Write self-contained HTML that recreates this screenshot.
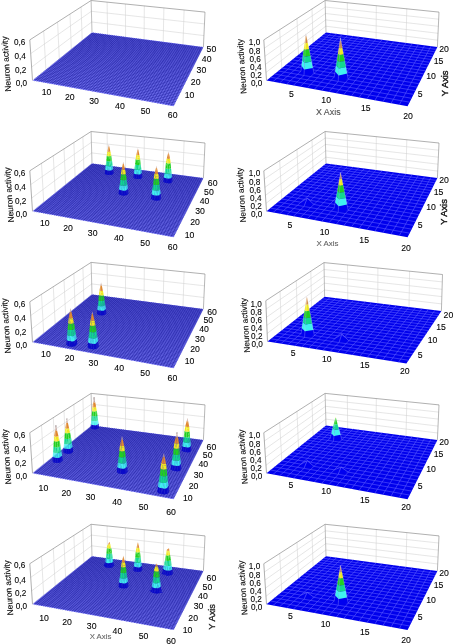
<!DOCTYPE html>
<html><head><meta charset="utf-8"><style>html,body{margin:0;padding:0;background:#fff;width:454px;height:644px;overflow:hidden}svg{display:block;will-change:transform}text{font-family:"Liberation Sans",sans-serif}</style></head><body>
<svg width="454" height="644" viewBox="0 0 454 644" font-family="Liberation Sans, sans-serif" font-size="8.7" text-anchor="middle">
<line x1="31.6" y1="67.1" x2="91.7" y2="22" stroke="#d2d2d2" stroke-width="0.55"/>
<line x1="91.7" y1="22" x2="204" y2="35.6" stroke="#d2d2d2" stroke-width="0.55"/>
<line x1="30.7" y1="53.6" x2="91.4" y2="11.3" stroke="#d2d2d2" stroke-width="0.55"/>
<line x1="91.4" y1="11.3" x2="204.5" y2="23.9" stroke="#d2d2d2" stroke-width="0.55"/>
<line x1="45.9" y1="69.6" x2="43.7" y2="30.9" stroke="#d2d2d2" stroke-width="0.55"/>
<line x1="59.3" y1="58.8" x2="57.6" y2="22.1" stroke="#d2d2d2" stroke-width="0.55"/>
<line x1="71.3" y1="49.1" x2="70" y2="14.1" stroke="#d2d2d2" stroke-width="0.55"/>
<line x1="82.2" y1="40.4" x2="81.1" y2="7" stroke="#d2d2d2" stroke-width="0.55"/>
<line x1="107.6" y1="34.6" x2="107.1" y2="2.2" stroke="#d2d2d2" stroke-width="0.55"/>
<line x1="125.6" y1="36.9" x2="125.4" y2="4" stroke="#d2d2d2" stroke-width="0.55"/>
<line x1="144.1" y1="39.3" x2="144.3" y2="5.9" stroke="#d2d2d2" stroke-width="0.55"/>
<line x1="163.2" y1="41.8" x2="163.9" y2="7.9" stroke="#d2d2d2" stroke-width="0.55"/>
<line x1="183" y1="44.4" x2="184.1" y2="10" stroke="#d2d2d2" stroke-width="0.55"/>
<line x1="29.8" y1="39.9" x2="91.1" y2="0.5" stroke="#6e6e6e" stroke-width="0.55"/>
<line x1="91.1" y1="0.5" x2="205" y2="12.1" stroke="#6e6e6e" stroke-width="0.55"/>
<line x1="32.5" y1="80.4" x2="29.8" y2="39.9" stroke="#6e6e6e" stroke-width="0.55"/>
<line x1="92" y1="32.5" x2="91.1" y2="0.5" stroke="#8a8a8a" stroke-width="0.55"/>
<line x1="203.4" y1="47.1" x2="205" y2="12.1" stroke="#7a7a7a" stroke-width="0.55"/>
<polygon points="32.5,80.4 173.6,106.3 203.4,47.1 92,32.5" fill="#7a7af8"/>
<path d="M34.6 80.8L93.7 32.7M36.7 81.2L95.4 33M38.8 81.6L97.1 33.2M41 82L98.9 33.4M43.1 82.3L100.6 33.6M45.3 82.7L102.4 33.9M47.4 83.1L104.1 34.1M49.6 83.5L105.9 34.3M51.8 83.9L107.6 34.6M54 84.3L109.4 34.8M56.2 84.7L111.2 35M58.4 85.2L113 35.3M60.6 85.6L114.7 35.5M62.8 86L116.5 35.7M65.1 86.4L118.3 36M67.3 86.8L120.1 36.2M69.6 87.2L121.9 36.4M71.8 87.6L123.8 36.7M74.1 88L125.6 36.9M76.4 88.5L127.4 37.1M78.7 88.9L129.2 37.4M81 89.3L131.1 37.6M83.3 89.7L132.9 37.9M85.6 90.2L134.8 38.1M88 90.6L136.6 38.3M90.3 91L138.5 38.6M92.7 91.4L140.3 38.8M95 91.9L142.2 39.1M97.4 92.3L144.1 39.3M99.8 92.8L146 39.6M102.2 93.2L147.9 39.8M104.6 93.6L149.8 40.1M107 94.1L151.7 40.3M109.4 94.5L153.6 40.6M111.8 95L155.5 40.8M114.3 95.4L157.4 41.1M116.8 95.9L159.3 41.3M119.2 96.3L161.3 41.6M121.7 96.8L163.2 41.8M124.2 97.2L165.2 42.1M126.7 97.7L167.1 42.3M129.2 98.2L169.1 42.6M131.7 98.6L171 42.8M134.3 99.1L173 43.1M136.8 99.6L175 43.3M139.4 100L177 43.6M141.9 100.5L179 43.9M144.5 101L181 44.1M147.1 101.4L183 44.4M149.7 101.9L185 44.7M152.3 102.4L187 44.9M154.9 102.9L189.1 45.2M157.6 103.4L191.1 45.4M160.2 103.9L193.1 45.7M162.9 104.3L195.2 46M165.6 104.8L197.2 46.2M168.2 105.3L199.3 46.5M170.9 105.8L201.4 46.8M34 79.1L174.5 104.7M35.6 77.9L175.3 103.1M37.1 76.7L176 101.6M38.6 75.4L176.8 100M40.1 74.2L177.6 98.5M41.6 73L178.3 97M43 71.9L179.1 95.5M44.5 70.7L179.8 94.1M45.9 69.6L180.5 92.6M47.3 68.4L181.3 91.2M48.7 67.3L182 89.8M50.1 66.2L182.7 88.4M51.5 65.1L183.4 87M52.8 64L184 85.7M54.1 63L184.7 84.3M55.5 61.9L185.4 83M56.8 60.8L186 81.7M58 59.8L186.7 80.4M59.3 58.8L187.3 79.1M60.6 57.8L187.9 77.9M61.8 56.8L188.6 76.6M63.1 55.8L189.2 75.4M64.3 54.8L189.8 74.2M65.5 53.8L190.4 73M66.7 52.9L191 71.8M67.9 51.9L191.6 70.6M69 51L192.2 69.5M70.2 50L192.7 68.3M71.3 49.1L193.3 67.2M72.5 48.2L193.9 66.1M73.6 47.3L194.4 65M74.7 46.4L195 63.9M75.8 45.5L195.5 62.8M76.9 44.7L196.1 61.7M78 43.8L196.6 60.7M79 42.9L197.1 59.6M80.1 42.1L197.6 58.6M81.1 41.2L198.1 57.6M82.2 40.4L198.7 56.6M83.2 39.6L199.2 55.6M84.2 38.8L199.7 54.6M85.2 38L200.1 53.6M86.2 37.2L200.6 52.7M87.2 36.4L201.1 51.7M88.2 35.6L201.6 50.7M89.1 34.8L202.1 49.8M90.1 34L202.5 48.9M91 33.3L203 48" stroke="#1e1ea0" stroke-width="0.55" fill="none"/>
<line x1="31.6" y1="198.1" x2="91.7" y2="152.9" stroke="#d2d2d2" stroke-width="0.55"/>
<line x1="91.7" y1="152.9" x2="204" y2="166.5" stroke="#d2d2d2" stroke-width="0.55"/>
<line x1="30.7" y1="184.6" x2="91.4" y2="142.3" stroke="#d2d2d2" stroke-width="0.55"/>
<line x1="91.4" y1="142.3" x2="204.5" y2="154.9" stroke="#d2d2d2" stroke-width="0.55"/>
<line x1="43.7" y1="202.3" x2="41.5" y2="163.3" stroke="#d2d2d2" stroke-width="0.55"/>
<line x1="55.2" y1="193.1" x2="53.3" y2="155.8" stroke="#d2d2d2" stroke-width="0.55"/>
<line x1="65.6" y1="184.7" x2="64" y2="148.9" stroke="#d2d2d2" stroke-width="0.55"/>
<line x1="75.1" y1="177" x2="73.9" y2="142.6" stroke="#d2d2d2" stroke-width="0.55"/>
<line x1="83.9" y1="170" x2="82.9" y2="136.8" stroke="#d2d2d2" stroke-width="0.55"/>
<line x1="107.6" y1="165.5" x2="107.1" y2="133.1" stroke="#d2d2d2" stroke-width="0.55"/>
<line x1="125.6" y1="167.8" x2="125.4" y2="135" stroke="#d2d2d2" stroke-width="0.55"/>
<line x1="144.1" y1="170.3" x2="144.3" y2="136.9" stroke="#d2d2d2" stroke-width="0.55"/>
<line x1="163.2" y1="172.8" x2="163.9" y2="138.9" stroke="#d2d2d2" stroke-width="0.55"/>
<line x1="183" y1="175.3" x2="184.1" y2="140.9" stroke="#d2d2d2" stroke-width="0.55"/>
<line x1="29.8" y1="170.8" x2="91.1" y2="131.5" stroke="#6e6e6e" stroke-width="0.55"/>
<line x1="91.1" y1="131.5" x2="205" y2="143" stroke="#6e6e6e" stroke-width="0.55"/>
<line x1="32.5" y1="211.3" x2="29.8" y2="170.8" stroke="#6e6e6e" stroke-width="0.55"/>
<line x1="92" y1="163.5" x2="91.1" y2="131.5" stroke="#8a8a8a" stroke-width="0.55"/>
<line x1="203.4" y1="178" x2="205" y2="143" stroke="#7a7a7a" stroke-width="0.55"/>
<polygon points="32.5,211.3 173.6,237.3 203.4,178 92,163.5" fill="#7a7af8"/>
<path d="M34.6 211.7L93.7 163.7M36.7 212.1L95.4 163.9M38.8 212.5L97.1 164.1M41 212.9L98.9 164.4M43.1 213.3L100.6 164.6M45.3 213.7L102.4 164.8M47.4 214.1L104.1 165.1M49.6 214.5L105.9 165.3M51.8 214.9L107.6 165.5M54 215.3L109.4 165.7M56.2 215.7L111.2 166M58.4 216.1L113 166.2M60.6 216.5L114.7 166.4M62.8 216.9L116.5 166.7M65.1 217.3L118.3 166.9M67.3 217.7L120.1 167.1M69.6 218.2L121.9 167.4M71.8 218.6L123.8 167.6M74.1 219L125.6 167.8M76.4 219.4L127.4 168.1M78.7 219.8L129.2 168.3M81 220.3L131.1 168.6M83.3 220.7L132.9 168.8M85.6 221.1L134.8 169M88 221.5L136.6 169.3M90.3 222L138.5 169.5M92.7 222.4L140.3 169.8M95 222.8L142.2 170M97.4 223.3L144.1 170.3M99.8 223.7L146 170.5M102.2 224.1L147.9 170.8M104.6 224.6L149.8 171M107 225L151.7 171.3M109.4 225.5L153.6 171.5M111.8 225.9L155.5 171.8M114.3 226.4L157.4 172M116.8 226.8L159.3 172.3M119.2 227.3L161.3 172.5M121.7 227.7L163.2 172.8M124.2 228.2L165.2 173M126.7 228.7L167.1 173.3M129.2 229.1L169.1 173.5M131.7 229.6L171 173.8M134.3 230L173 174M136.8 230.5L175 174.3M139.4 231L177 174.6M141.9 231.4L179 174.8M144.5 231.9L181 175.1M147.1 232.4L183 175.3M149.7 232.9L185 175.6M152.3 233.4L187 175.9M154.9 233.8L189.1 176.1M157.6 234.3L191.1 176.4M160.2 234.8L193.1 176.7M162.9 235.3L195.2 176.9M165.6 235.8L197.2 177.2M168.2 236.3L199.3 177.5M170.9 236.8L201.4 177.7M33.8 210.3L174.3 235.9M35.1 209.3L175 234.6M36.3 208.2L175.6 233.3M37.6 207.2L176.3 232M38.8 206.2L176.9 230.7M40.1 205.2L177.6 229.5M41.3 204.2L178.2 228.2M42.5 203.2L178.8 227M43.7 202.3L179.4 225.8M44.9 201.3L180 224.6M46.1 200.4L180.6 223.4M47.3 199.4L181.2 222.2M48.4 198.5L181.8 221M49.6 197.6L182.4 219.8M50.7 196.7L183 218.7M51.8 195.7L183.6 217.6M53 194.8L184.1 216.4M54.1 194L184.7 215.3M55.2 193.1L185.2 214.2M56.2 192.2L185.8 213.2M57.3 191.3L186.3 212.1M58.4 190.5L186.9 211M59.4 189.6L187.4 210M60.5 188.8L187.9 208.9M61.5 188L188.4 207.9M62.6 187.1L188.9 206.9M63.6 186.3L189.5 205.8M64.6 185.5L190 204.8M65.6 184.7L190.5 203.8M66.6 183.9L190.9 202.9M67.6 183.1L191.4 201.9M68.5 182.3L191.9 200.9M69.5 181.5L192.4 200M70.5 180.8L192.9 199M71.4 180L193.3 198.1M72.3 179.3L193.8 197.2M73.3 178.5L194.3 196.2M74.2 177.8L194.7 195.3M75.1 177L195.2 194.4M76 176.3L195.6 193.5M76.9 175.6L196.1 192.6M77.8 174.8L196.5 191.8M78.7 174.1L197 190.9M79.6 173.4L197.4 190M80.5 172.7L197.8 189.2M81.3 172L198.2 188.3M82.2 171.3L198.7 187.5M83 170.6L199.1 186.7M83.9 170L199.5 185.8M84.7 169.3L199.9 185M85.6 168.6L200.3 184.2M86.4 168L200.7 183.4M87.2 167.3L201.1 182.6M88 166.7L201.5 181.8M88.8 166L201.9 181.1M89.6 165.4L202.3 180.3M90.4 164.7L202.7 179.5M91.2 164.1L203.1 178.8" stroke="#1e1ea0" stroke-width="0.55" fill="none"/>
<polygon points="113,174 113.7,173.3 113.1,168.9 112.6,169.4" fill="#0a0ac8"/>
<polygon points="113.1,168.9 112.6,164.9 112.3,165.2 112.6,169.4" fill="#40f0f0"/>
<polygon points="112.6,164.9 111.9,160 111.8,160.1 112.3,165.2" fill="#10d890"/>
<polygon points="111.9,160 111.7,158.6 111.8,160.1" fill="#20d020"/>
<polygon points="105.3,169.5 104.8,173.7 105.9,174.6 106,170.1" fill="#0a0ac8"/>
<polygon points="105.7,165.6 105.3,169.5 106,170.1 106.2,165.9" fill="#40f0f0"/>
<polygon points="106.3,160.8 105.7,165.6 106.2,165.9 106.4,160.9" fill="#10d890"/>
<polygon points="106.4,159.5 106.3,160.8 106.4,160.9" fill="#20d020"/>
<polygon points="112.6,169.6 113,174 112.6,169.4" fill="#0a0ac8"/>
<polygon points="112.1,165.6 112.6,169.6 112.6,169.4 112.3,165.2" fill="#40f0f0"/>
<polygon points="111.6,160.7 112.1,165.6 112.3,165.2 111.8,160.1" fill="#10d890"/>
<polygon points="111.1,155.7 111.6,160.7 111.8,160.1 111.7,158.6 111.2,155.5" fill="#20d020"/>
<polygon points="110.9,153.5 111.1,155.7 111.2,155.5" fill="#f0e820"/>
<polygon points="111.6,170.3 112.3,174.7 113,174 112.2,169.8" fill="#0a0ac8"/>
<polygon points="111.1,166.3 111.6,170.3 112.2,169.8 111.4,166" fill="#40f0f0"/>
<polygon points="110.4,161.3 111.1,166.3 111.4,166 110.4,161.3" fill="#10d890"/>
<polygon points="110.2,160 110.4,161.3 110.4,161.3" fill="#20d020"/>
<polygon points="106,170.1 105.9,174.6 107.8,174.9 107.4,170.3" fill="#0a0ac8"/>
<polygon points="106.2,165.9 106,170.1 107.4,170.3 107,166.1" fill="#40f0f0"/>
<polygon points="106.4,160.9 106.2,165.9 107,166.1 106.5,160.9" fill="#10d890"/>
<polygon points="106.4,159.5 106.4,160.9 106.5,160.9" fill="#20d020"/>
<polygon points="109.8,170.6 109.6,175.1 112.3,174.7 111.6,170.3" fill="#0a0ac8"/>
<polygon points="109.9,166.4 109.8,170.6 111.6,170.3 111.1,166.3" fill="#40f0f0"/>
<polygon points="110.1,161.4 109.9,166.4 111.1,166.3 110.4,161.3" fill="#10d890"/>
<polygon points="110.2,160 110.1,161.4 110.4,161.3" fill="#20d020"/>
<polygon points="112.2,169.8 113,174 112.6,169.6" fill="#0a0ac8"/>
<polygon points="111.4,166 112.2,169.8 112.6,169.6 112.1,165.6" fill="#40f0f0"/>
<polygon points="110.4,161.3 111.4,166 112.1,165.6 111.6,160.7" fill="#10d890"/>
<polygon points="110.6,156 110.2,160 110.4,161.3 111.6,160.7 111.1,155.7" fill="#20d020"/>
<polygon points="110.9,153.5 110.6,156 111.1,155.7" fill="#f0e820"/>
<polygon points="107.8,174.9 109.6,175.1 109.8,170.6 108.5,170.5" fill="#0a0ac8"/>
<polygon points="109.8,170.6 109.9,166.4 109.1,166.3 108.5,170.5" fill="#40f0f0"/>
<polygon points="109.9,166.4 110.1,161.4 110,161.4 109.1,166.3" fill="#10d890"/>
<polygon points="110.1,161.4 110.2,160 110,161.4" fill="#20d020"/>
<polygon points="107.4,170.3 107.8,174.9 107.9,170.4" fill="#0a0ac8"/>
<polygon points="107,166.1 107.4,170.3 107.9,170.4 107.9,166.3" fill="#40f0f0"/>
<polygon points="106.5,160.9 107,166.1 107.9,166.3 108,161.3" fill="#10d890"/>
<polygon points="107.5,156 106.4,159.5 106.5,160.9 108,161.3 108.2,156.2" fill="#20d020"/>
<polygon points="108.2,153.9 107.5,156 108.2,156.2" fill="#f0e820"/>
<polygon points="106.8,155.5 106.4,159.5 107.5,156" fill="#20d020"/>
<polygon points="107.1,153 106.8,155.5 107.5,156 108.2,153.9" fill="#f0e820"/>
<polygon points="107.9,170.4 107.8,174.9 108.5,170.5" fill="#0a0ac8"/>
<polygon points="107.9,166.3 107.9,170.4 108.5,170.5 109.1,166.3" fill="#40f0f0"/>
<polygon points="108,161.3 107.9,166.3 109.1,166.3 110,161.4" fill="#10d890"/>
<polygon points="108.2,156.2 108,161.3 110,161.4 110.2,160 109,156.2" fill="#20d020"/>
<polygon points="108.2,153.9 108.2,156.2 109,156.2" fill="#f0e820"/>
<polygon points="107.5,151.3 107.1,153 108.2,153.9 108.3,151.9" fill="#f0e820"/>
<polygon points="108.4,146.4 107.5,151.3 108.3,151.9 108.7,146.6" fill="#e08830"/>
<polygon points="108.8,144.4 108.4,146.4 108.7,146.6" fill="#c8a8a0"/>
<polygon points="109,156.2 110.2,160 110.6,156" fill="#20d020"/>
<polygon points="108.2,153.9 109,156.2 110.6,156 110.9,153.5" fill="#f0e820"/>
<polygon points="108.3,151.9 108.2,153.9 110.9,153.5 110.4,151.6" fill="#f0e820"/>
<polygon points="108.7,146.6 108.3,151.9 110.4,151.6 109.3,146.5" fill="#e08830"/>
<polygon points="108.8,144.4 108.7,146.6 109.3,146.5" fill="#c8a8a0"/>
<polygon points="141.7,177.9 142.4,177.2 141.8,172.7 141.4,173.2" fill="#0a0ac8"/>
<polygon points="141.8,172.7 141.3,168.6 141,168.9 141.4,173.2" fill="#40f0f0"/>
<polygon points="141.3,168.6 140.6,163.6 140.6,163.7 141,168.9" fill="#10d890"/>
<polygon points="140.6,163.6 140.5,162.4 140.6,163.7" fill="#20d020"/>
<polygon points="133.9,173.3 133.3,177.6 134.5,178.6 134.8,174" fill="#0a0ac8"/>
<polygon points="134.4,169.3 133.9,173.3 134.8,174 134.9,169.7" fill="#40f0f0"/>
<polygon points="135.1,164.5 134.4,169.3 134.9,169.7 135.2,164.5" fill="#10d890"/>
<polygon points="135.2,163.3 135.1,164.5 135.2,164.5" fill="#20d020"/>
<polygon points="141.3,173.5 141.7,177.9 141.4,173.2" fill="#0a0ac8"/>
<polygon points="141,169.4 141.3,173.5 141.4,173.2 141,168.9" fill="#40f0f0"/>
<polygon points="140.5,164.4 141,169.4 141,168.9 140.6,163.7" fill="#10d890"/>
<polygon points="140.1,159.2 140.5,164.4 140.6,163.7 140.5,162.4 140.1,159" fill="#20d020"/>
<polygon points="139.9,157.2 140.1,159.2 140.1,159" fill="#f0e820"/>
<polygon points="140.5,174.2 141.1,178.7 141.7,177.9 141,173.7" fill="#0a0ac8"/>
<polygon points="140,170 140.5,174.2 141,173.7 140.3,169.7" fill="#40f0f0"/>
<polygon points="139.3,165 140,170 140.3,169.7 139.4,164.9" fill="#10d890"/>
<polygon points="139.2,163.8 139.3,165 139.4,164.9" fill="#20d020"/>
<polygon points="134.8,174 134.5,178.6 136.5,178.9 136.1,174.2" fill="#0a0ac8"/>
<polygon points="134.9,169.7 134.8,174 136.1,174.2 135.8,169.8" fill="#40f0f0"/>
<polygon points="135.2,164.5 134.9,169.7 135.8,169.8 135.3,164.6" fill="#10d890"/>
<polygon points="135.2,163.3 135.2,164.5 135.3,164.6" fill="#20d020"/>
<polygon points="138.7,174.5 138.5,179.1 141.1,178.7 140.5,174.2" fill="#0a0ac8"/>
<polygon points="138.9,170.2 138.7,174.5 140.5,174.2 140,170" fill="#40f0f0"/>
<polygon points="139.1,165 138.9,170.2 140,170 139.3,165" fill="#10d890"/>
<polygon points="139.2,163.8 139.1,165 139.3,165" fill="#20d020"/>
<polygon points="141,173.7 141.7,177.9 141.3,173.5" fill="#0a0ac8"/>
<polygon points="140.3,169.7 141,173.7 141.3,173.5 141,169.4" fill="#40f0f0"/>
<polygon points="139.4,164.9 140.3,169.7 141,169.4 140.5,164.4" fill="#10d890"/>
<polygon points="139.6,159.5 139.2,163.8 139.4,164.9 140.5,164.4 140.1,159.2" fill="#20d020"/>
<polygon points="139.9,157.2 139.6,159.5 140.1,159.2" fill="#f0e820"/>
<polygon points="136.5,178.9 138.5,179.1 138.7,174.5 137.3,174.3" fill="#0a0ac8"/>
<polygon points="138.7,174.5 138.9,170.2 138.1,170.1 137.3,174.3" fill="#40f0f0"/>
<polygon points="138.9,170.2 139.1,165 139,165 138.1,170.1" fill="#10d890"/>
<polygon points="139.1,165 139.2,163.8 139,165" fill="#20d020"/>
<polygon points="136.1,174.2 136.5,178.9 136.7,174.3" fill="#0a0ac8"/>
<polygon points="135.8,169.8 136.1,174.2 136.7,174.3 136.8,170.1" fill="#40f0f0"/>
<polygon points="135.3,164.6 135.8,169.8 136.8,170.1 137,165" fill="#10d890"/>
<polygon points="136.5,159.6 135.2,163.3 135.3,164.6 137,165 137.2,159.7" fill="#20d020"/>
<polygon points="137.2,157.6 136.5,159.6 137.2,159.7" fill="#f0e820"/>
<polygon points="135.7,159 135.2,163.3 136.5,159.6" fill="#20d020"/>
<polygon points="135.9,156.7 135.7,159 136.5,159.6 137.2,157.6" fill="#f0e820"/>
<polygon points="136.7,174.3 136.5,178.9 137.3,174.3" fill="#0a0ac8"/>
<polygon points="136.8,170.1 136.7,174.3 137.3,174.3 138.1,170.1" fill="#40f0f0"/>
<polygon points="137,165 136.8,170.1 138.1,170.1 139,165" fill="#10d890"/>
<polygon points="137.2,159.7 137,165 139,165 139.2,163.8 137.9,159.7" fill="#20d020"/>
<polygon points="137.2,157.6 137.2,159.7 137.9,159.7" fill="#f0e820"/>
<polygon points="136.4,154.7 135.9,156.7 137.2,157.6 137.4,155.3" fill="#f0e820"/>
<polygon points="137.5,149.7 136.4,154.7 137.4,155.3 137.8,149.9" fill="#e08830"/>
<polygon points="137.9,148 137.5,149.7 137.8,149.9" fill="#c8a8a0"/>
<polygon points="137.9,159.7 139.2,163.8 139.6,159.5" fill="#20d020"/>
<polygon points="137.2,157.6 137.9,159.7 139.6,159.5 139.9,157.2" fill="#f0e820"/>
<polygon points="137.4,155.3 137.2,157.6 139.9,157.2 139.4,155" fill="#f0e820"/>
<polygon points="137.8,149.9 137.4,155.3 139.4,155 138.3,149.8" fill="#e08830"/>
<polygon points="137.9,148 137.8,149.9 138.3,149.8" fill="#c8a8a0"/>
<polygon points="172,182.1 172.5,181.3 172,176.8 171.6,177.3" fill="#0a0ac8"/>
<polygon points="172,176.8 171.5,172.5 171.3,172.8 171.6,177.3" fill="#40f0f0"/>
<polygon points="171.5,172.5 170.9,167.4 170.9,167.5 171.3,172.8" fill="#10d890"/>
<polygon points="170.9,167.4 170.8,166.1 170.9,167.5" fill="#20d020"/>
<polygon points="163.9,177.3 163.2,181.7 164.7,182.8 165,178.1" fill="#0a0ac8"/>
<polygon points="164.6,173.2 163.9,177.3 165,178.1 165.2,173.7" fill="#40f0f0"/>
<polygon points="165.4,168.3 164.6,173.2 165.2,173.7 165.5,168.4" fill="#10d890"/>
<polygon points="165.6,167.1 165.4,168.3 165.5,168.4" fill="#20d020"/>
<polygon points="164.3,176.6 163.8,180.9 164.3,176.8" fill="#0a0ac8"/>
<polygon points="164.8,172.5 164.3,176.6 164.3,176.8 164.8,172.9" fill="#40f0f0"/>
<polygon points="165.4,167.5 164.8,172.5 164.8,172.9 165.4,168.2" fill="#10d890"/>
<polygon points="166,162.4 165.4,167.5 165.4,168.2 165.6,167.1 166,162.7" fill="#20d020"/>
<polygon points="166.3,160.3 166,162.4 166,162.7" fill="#f0e820"/>
<polygon points="170.9,178.3 171.5,182.9 172,182.1 171.3,177.7" fill="#0a0ac8"/>
<polygon points="170.5,174 170.9,178.3 171.3,177.7 170.7,173.7" fill="#40f0f0"/>
<polygon points="169.9,168.9 170.5,174 170.7,173.7 169.9,168.8" fill="#10d890"/>
<polygon points="169.7,167.6 169.9,168.9 169.9,168.8" fill="#20d020"/>
<polygon points="165,178.1 164.7,182.8 166.8,183.1 166.4,178.3" fill="#0a0ac8"/>
<polygon points="165.2,173.7 165,178.1 166.4,178.3 166.1,173.8" fill="#40f0f0"/>
<polygon points="165.5,168.4 165.2,173.7 166.1,173.8 165.7,168.4" fill="#10d890"/>
<polygon points="165.6,167.1 165.5,168.4 165.7,168.4" fill="#20d020"/>
<polygon points="169.1,178.6 168.8,183.4 171.5,182.9 170.9,178.3" fill="#0a0ac8"/>
<polygon points="169.4,174.2 169.1,178.6 170.9,178.3 170.5,174" fill="#40f0f0"/>
<polygon points="169.7,168.9 169.4,174.2 170.5,174 169.9,168.9" fill="#10d890"/>
<polygon points="169.7,167.6 169.7,168.9 169.9,168.9" fill="#20d020"/>
<polygon points="171.3,177.7 172,182.1 171.6,177.5" fill="#0a0ac8"/>
<polygon points="170.7,173.7 171.3,177.7 171.6,177.5 171.3,173.3" fill="#40f0f0"/>
<polygon points="169.9,168.8 170.7,173.7 171.3,173.3 171,168.2" fill="#10d890"/>
<polygon points="170.2,163.2 169.7,167.6 169.9,168.8 171,168.2 170.6,162.9" fill="#20d020"/>
<polygon points="170.4,160.8 170.2,163.2 170.6,162.9" fill="#f0e820"/>
<polygon points="166.8,183.1 168.8,183.4 169.1,178.6 167.7,178.4" fill="#0a0ac8"/>
<polygon points="169.1,178.6 169.4,174.2 168.5,174.1 167.7,178.4" fill="#40f0f0"/>
<polygon points="169.4,174.2 169.7,168.9 169.5,168.9 168.5,174.1" fill="#10d890"/>
<polygon points="169.7,168.9 169.7,167.6 169.5,168.9" fill="#20d020"/>
<polygon points="166.4,178.3 166.8,183.1 167,178.4" fill="#0a0ac8"/>
<polygon points="166.1,173.8 166.4,178.3 167,178.4 167.2,174.1" fill="#40f0f0"/>
<polygon points="165.7,168.4 166.1,173.8 167.2,174.1 167.4,168.8" fill="#10d890"/>
<polygon points="167,163.3 165.6,167.1 165.7,168.4 167.4,168.8 167.7,163.4" fill="#20d020"/>
<polygon points="167.8,161.3 167,163.3 167.7,163.4" fill="#f0e820"/>
<polygon points="166,162.7 165.6,167.1 167,163.3" fill="#20d020"/>
<polygon points="166.3,160.3 166,162.7 167,163.3 167.8,161.3" fill="#f0e820"/>
<polygon points="167,178.4 166.8,183.1 167.7,178.4" fill="#0a0ac8"/>
<polygon points="167.2,174.1 167,178.4 167.7,178.4 168.5,174.1" fill="#40f0f0"/>
<polygon points="167.4,168.8 167.2,174.1 168.5,174.1 169.5,168.9" fill="#10d890"/>
<polygon points="167.7,163.4 167.4,168.8 169.5,168.9 169.7,167.6 168.5,163.5" fill="#20d020"/>
<polygon points="167.8,161.3 167.7,163.4 168.5,163.5" fill="#f0e820"/>
<polygon points="166.8,158.2 166.3,160.3 167.8,161.3 168,159" fill="#f0e820"/>
<polygon points="168.1,153.2 166.8,158.2 168,159 168.4,153.4" fill="#e08830"/>
<polygon points="168.5,151.4 168.1,153.2 168.4,153.4" fill="#c8a8a0"/>
<polygon points="168.5,163.5 169.7,167.6 170.2,163.2" fill="#20d020"/>
<polygon points="167.8,161.3 168.5,163.5 170.2,163.2 170.4,160.8" fill="#f0e820"/>
<polygon points="168,159 167.8,161.3 170.4,160.8 170,158.6" fill="#f0e820"/>
<polygon points="168.4,153.4 168,159 170,158.6 168.9,153.3" fill="#e08830"/>
<polygon points="168.5,151.4 168.4,153.4 168.9,153.3" fill="#c8a8a0"/>
<polygon points="127.8,194.2 128.5,193.3 127.9,188.5 127.3,189.1" fill="#0a0ac8"/>
<polygon points="127.9,188.5 127.3,184.1 127,184.4 127.3,189.1" fill="#40f0f0"/>
<polygon points="127.3,184.1 126.5,178.6 126.5,178.7 127,184.4" fill="#10d890"/>
<polygon points="126.5,178.6 126.4,177.3 126.5,178.7" fill="#20d020"/>
<polygon points="119.1,189.2 118.5,193.8 119.9,195 120.1,190" fill="#0a0ac8"/>
<polygon points="119.7,184.9 119.1,189.2 120.1,190 120.2,185.4" fill="#40f0f0"/>
<polygon points="120.4,179.6 119.7,184.9 120.2,185.4 120.5,179.7" fill="#10d890"/>
<polygon points="120.5,178.4 120.4,179.6 120.5,179.7" fill="#20d020"/>
<polygon points="127.3,189.4 127.8,194.2 127.3,189.1" fill="#0a0ac8"/>
<polygon points="126.9,185 127.3,189.4 127.3,189.1 127,184.4" fill="#40f0f0"/>
<polygon points="126.3,179.5 126.9,185 127,184.4 126.5,178.7" fill="#10d890"/>
<polygon points="125.8,174 126.3,179.5 126.5,178.7 126.4,177.3 125.8,173.7" fill="#20d020"/>
<polygon points="125.6,171.7 125.8,174 125.8,173.7" fill="#f0e820"/>
<polygon points="126.3,190.3 127,195.1 127.8,194.2 126.9,189.7" fill="#0a0ac8"/>
<polygon points="125.7,185.8 126.3,190.3 126.9,189.7 126.1,185.4" fill="#40f0f0"/>
<polygon points="125,180.3 125.7,185.8 126.1,185.4 125,180.2" fill="#10d890"/>
<polygon points="124.8,179 125,180.3 125,180.2" fill="#20d020"/>
<polygon points="120.1,190 119.9,195 122,195.4 121.5,190.3" fill="#0a0ac8"/>
<polygon points="120.2,185.4 120.1,190 121.5,190.3 121.1,185.5" fill="#40f0f0"/>
<polygon points="120.5,179.7 120.2,185.4 121.1,185.5 120.6,179.8" fill="#10d890"/>
<polygon points="120.5,178.4 120.5,179.7 120.6,179.8" fill="#20d020"/>
<polygon points="124.3,190.7 124.1,195.7 127,195.1 126.3,190.3" fill="#0a0ac8"/>
<polygon points="124.5,186 124.3,190.7 126.3,190.3 125.7,185.8" fill="#40f0f0"/>
<polygon points="124.7,180.3 124.5,186 125.7,185.8 125,180.3" fill="#10d890"/>
<polygon points="124.8,179 124.7,180.3 125,180.3" fill="#20d020"/>
<polygon points="126.9,189.7 127.8,194.2 127.3,189.4" fill="#0a0ac8"/>
<polygon points="126.1,185.4 126.9,189.7 127.3,189.4 126.9,185" fill="#40f0f0"/>
<polygon points="125,180.2 126.1,185.4 126.9,185 126.3,179.5" fill="#10d890"/>
<polygon points="125.3,174.2 124.8,179 125,180.2 126.3,179.5 125.8,174" fill="#20d020"/>
<polygon points="125.6,171.7 125.3,174.2 125.8,174" fill="#f0e820"/>
<polygon points="122,195.4 124.1,195.7 124.3,190.7 122.8,190.5" fill="#0a0ac8"/>
<polygon points="124.3,190.7 124.5,186 123.6,185.9 122.8,190.5" fill="#40f0f0"/>
<polygon points="124.5,186 124.7,180.3 124.6,180.3 123.6,185.9" fill="#10d890"/>
<polygon points="124.7,180.3 124.8,179 124.6,180.3" fill="#20d020"/>
<polygon points="121.5,190.3 122,195.4 122.1,190.4" fill="#0a0ac8"/>
<polygon points="121.1,185.5 121.5,190.3 122.1,190.4 122.2,185.8" fill="#40f0f0"/>
<polygon points="120.6,179.8 121.1,185.5 122.2,185.8 122.4,180.3" fill="#10d890"/>
<polygon points="121.9,174.4 120.5,178.4 120.6,179.8 122.4,180.3 122.6,174.6" fill="#20d020"/>
<polygon points="122.6,172.2 121.9,174.4 122.6,174.6" fill="#f0e820"/>
<polygon points="121,173.7 120.5,178.4 121.9,174.4" fill="#20d020"/>
<polygon points="121.3,171.2 121,173.7 121.9,174.4 122.6,172.2" fill="#f0e820"/>
<polygon points="122.1,190.4 122,195.4 122.8,190.5" fill="#0a0ac8"/>
<polygon points="122.2,185.8 122.1,190.4 122.8,190.5 123.6,185.9" fill="#40f0f0"/>
<polygon points="122.4,180.3 122.2,185.8 123.6,185.9 124.6,180.3" fill="#10d890"/>
<polygon points="122.6,174.6 122.4,180.3 124.6,180.3 124.8,179 123.4,174.6" fill="#20d020"/>
<polygon points="122.6,172.2 122.6,174.6 123.4,174.6" fill="#f0e820"/>
<polygon points="121.8,169 121.3,171.2 122.6,172.2 122.8,169.8" fill="#f0e820"/>
<polygon points="122.9,163.6 121.8,169 122.8,169.8 123.2,163.8" fill="#e08830"/>
<polygon points="123.4,161.8 122.9,163.6 123.2,163.8" fill="#c8a8a0"/>
<polygon points="123.4,174.6 124.8,179 125.3,174.2" fill="#20d020"/>
<polygon points="122.6,172.2 123.4,174.6 125.3,174.2 125.6,171.7" fill="#f0e820"/>
<polygon points="122.8,169.8 122.6,172.2 125.6,171.7 125,169.4" fill="#f0e820"/>
<polygon points="123.2,163.8 122.8,169.8 125,169.4 123.8,163.7" fill="#e08830"/>
<polygon points="123.4,161.8 123.2,163.8 123.8,163.7" fill="#c8a8a0"/>
<polygon points="160.5,199.3 161.1,198.3 160.6,193.4 160.1,194" fill="#0a0ac8"/>
<polygon points="160.6,193.4 160,188.8 159.7,189.2 160.1,194" fill="#40f0f0"/>
<polygon points="160,188.8 159.4,183.2 159.3,183.3 159.7,189.2" fill="#10d890"/>
<polygon points="159.4,183.2 159.2,181.8 159.3,183.3" fill="#20d020"/>
<polygon points="151.7,194.1 150.9,198.8 152.5,200.1 152.8,195" fill="#0a0ac8"/>
<polygon points="152.3,189.7 151.7,194.1 152.8,195 153,190.2" fill="#40f0f0"/>
<polygon points="153.2,184.3 152.3,189.7 153,190.2 153.3,184.4" fill="#10d890"/>
<polygon points="153.4,182.9 153.2,184.3 153.3,184.4" fill="#20d020"/>
<polygon points="152.1,193.1 151.6,197.9 152.1,193.4" fill="#0a0ac8"/>
<polygon points="152.6,188.7 152.1,193.1 152.1,193.4 152.6,189.3" fill="#40f0f0"/>
<polygon points="153.2,183.3 152.6,188.7 152.6,189.3 153.2,184.2" fill="#10d890"/>
<polygon points="153.9,177.8 153.2,183.3 153.2,184.2 153.4,182.9 153.9,178.1" fill="#20d020"/>
<polygon points="154.1,175.4 153.9,177.8 153.9,178.1" fill="#f0e820"/>
<polygon points="160.1,194.3 160.5,199.3 160.1,194" fill="#0a0ac8"/>
<polygon points="159.8,189.7 160.1,194.3 160.1,194 159.7,189.2" fill="#40f0f0"/>
<polygon points="159.3,184.2 159.8,189.7 159.7,189.2 159.3,183.3" fill="#10d890"/>
<polygon points="158.9,178.5 159.3,184.2 159.3,183.3 159.2,181.8 158.9,178.1" fill="#20d020"/>
<polygon points="158.7,176 158.9,178.5 158.9,178.1" fill="#f0e820"/>
<polygon points="159.3,195.2 159.9,200.2 160.5,199.3 159.7,194.6" fill="#0a0ac8"/>
<polygon points="158.7,190.6 159.3,195.2 159.7,194.6 159,190.2" fill="#40f0f0"/>
<polygon points="158.1,185 158.7,190.6 159,190.2 158.1,184.9" fill="#10d890"/>
<polygon points="157.9,183.5 158.1,185 158.1,184.9" fill="#20d020"/>
<polygon points="152.8,195 152.5,200.1 154.7,200.5 154.3,195.2" fill="#0a0ac8"/>
<polygon points="153,190.2 152.8,195 154.3,195.2 154,190.3" fill="#40f0f0"/>
<polygon points="153.3,184.4 153,190.2 154,190.3 153.5,184.4" fill="#10d890"/>
<polygon points="153.4,182.9 153.3,184.4 153.5,184.4" fill="#20d020"/>
<polygon points="157.3,195.6 157,200.8 159.9,200.2 159.3,195.2" fill="#0a0ac8"/>
<polygon points="157.5,190.8 157.3,195.6 159.3,195.2 158.7,190.6" fill="#40f0f0"/>
<polygon points="157.8,185 157.5,190.8 158.7,190.6 158.1,185" fill="#10d890"/>
<polygon points="157.9,183.5 157.8,185 158.1,185" fill="#20d020"/>
<polygon points="159.7,194.6 160.5,199.3 160.1,194.3" fill="#0a0ac8"/>
<polygon points="159,190.2 159.7,194.6 160.1,194.3 159.8,189.7" fill="#40f0f0"/>
<polygon points="158.1,184.9 159,190.2 159.8,189.7 159.3,184.2" fill="#10d890"/>
<polygon points="158.4,178.8 157.9,183.5 158.1,184.9 159.3,184.2 158.9,178.5" fill="#20d020"/>
<polygon points="158.7,176 158.4,178.8 158.9,178.5" fill="#f0e820"/>
<polygon points="154.7,200.5 157,200.8 157.3,195.6 155.7,195.4" fill="#0a0ac8"/>
<polygon points="157.3,195.6 157.5,190.8 156.6,190.7 155.7,195.4" fill="#40f0f0"/>
<polygon points="157.5,190.8 157.8,185 157.6,185 156.6,190.7" fill="#10d890"/>
<polygon points="157.8,185 157.9,183.5 157.6,185" fill="#20d020"/>
<polygon points="154.3,195.2 154.7,200.5 154.9,195.4" fill="#0a0ac8"/>
<polygon points="154,190.3 154.3,195.2 154.9,195.4 155.1,190.6" fill="#40f0f0"/>
<polygon points="153.5,184.4 154,190.3 155.1,190.6 155.4,184.9" fill="#10d890"/>
<polygon points="154.9,178.9 153.4,182.9 153.5,184.4 155.4,184.9 155.6,179.1" fill="#20d020"/>
<polygon points="155.7,176.6 154.9,178.9 155.6,179.1" fill="#f0e820"/>
<polygon points="153.9,178.1 153.4,182.9 154.9,178.9" fill="#20d020"/>
<polygon points="154.1,175.4 153.9,178.1 154.9,178.9 155.7,176.6" fill="#f0e820"/>
<polygon points="154.9,195.4 154.7,200.5 155.7,195.4" fill="#0a0ac8"/>
<polygon points="155.1,190.6 154.9,195.4 155.7,195.4 156.6,190.7" fill="#40f0f0"/>
<polygon points="155.4,184.9 155.1,190.6 156.6,190.7 157.6,185" fill="#10d890"/>
<polygon points="155.6,179.1 155.4,184.9 157.6,185 157.9,183.5 156.5,179.1" fill="#20d020"/>
<polygon points="155.7,176.6 155.6,179.1 156.5,179.1" fill="#f0e820"/>
<polygon points="154.7,173.3 154.1,175.4 155.7,176.6 155.9,174.2" fill="#f0e820"/>
<polygon points="156,167.8 154.7,173.3 155.9,174.2 156.4,168" fill="#e08830"/>
<polygon points="156.5,165.7 156,167.8 156.4,168" fill="#c8a8a0"/>
<polygon points="156.5,179.1 157.9,183.5 158.4,178.8" fill="#20d020"/>
<polygon points="155.7,176.6 156.5,179.1 158.4,178.8 158.7,176" fill="#f0e820"/>
<polygon points="155.9,174.2 155.7,176.6 158.7,176 158.2,173.8" fill="#f0e820"/>
<polygon points="156.4,168 155.9,174.2 158.2,173.8 157,167.9" fill="#e08830"/>
<polygon points="156.5,165.7 156.4,168 157,167.9" fill="#c8a8a0"/>
<line x1="31.6" y1="329" x2="91.7" y2="283.9" stroke="#d2d2d2" stroke-width="0.55"/>
<line x1="91.7" y1="283.9" x2="204" y2="297.5" stroke="#d2d2d2" stroke-width="0.55"/>
<line x1="30.7" y1="315.5" x2="91.4" y2="273.2" stroke="#d2d2d2" stroke-width="0.55"/>
<line x1="91.4" y1="273.2" x2="204.5" y2="285.8" stroke="#d2d2d2" stroke-width="0.55"/>
<line x1="43.7" y1="333.2" x2="41.5" y2="294.3" stroke="#d2d2d2" stroke-width="0.55"/>
<line x1="55.2" y1="324" x2="53.3" y2="286.7" stroke="#d2d2d2" stroke-width="0.55"/>
<line x1="65.6" y1="315.6" x2="64" y2="279.8" stroke="#d2d2d2" stroke-width="0.55"/>
<line x1="75.1" y1="308" x2="73.9" y2="273.5" stroke="#d2d2d2" stroke-width="0.55"/>
<line x1="83.9" y1="300.9" x2="82.9" y2="267.7" stroke="#d2d2d2" stroke-width="0.55"/>
<line x1="107.6" y1="296.5" x2="107.1" y2="264.1" stroke="#d2d2d2" stroke-width="0.55"/>
<line x1="125.6" y1="298.8" x2="125.4" y2="265.9" stroke="#d2d2d2" stroke-width="0.55"/>
<line x1="144.1" y1="301.2" x2="144.3" y2="267.8" stroke="#d2d2d2" stroke-width="0.55"/>
<line x1="163.2" y1="303.7" x2="163.9" y2="269.8" stroke="#d2d2d2" stroke-width="0.55"/>
<line x1="183" y1="306.3" x2="184.1" y2="271.9" stroke="#d2d2d2" stroke-width="0.55"/>
<line x1="29.8" y1="301.8" x2="91.1" y2="262.4" stroke="#6e6e6e" stroke-width="0.55"/>
<line x1="91.1" y1="262.4" x2="205" y2="274" stroke="#6e6e6e" stroke-width="0.55"/>
<line x1="32.5" y1="342.3" x2="29.8" y2="301.8" stroke="#6e6e6e" stroke-width="0.55"/>
<line x1="92" y1="294.4" x2="91.1" y2="262.4" stroke="#8a8a8a" stroke-width="0.55"/>
<line x1="203.4" y1="309" x2="205" y2="274" stroke="#7a7a7a" stroke-width="0.55"/>
<polygon points="32.5,342.3 173.6,368.2 203.4,309 92,294.4" fill="#7a7af8"/>
<path d="M34.6 342.7L93.7 294.6M36.7 343.1L95.4 294.9M38.8 343.5L97.1 295.1M41 343.9L98.9 295.3M43.1 344.2L100.6 295.5M45.3 344.6L102.4 295.8M47.4 345L104.1 296M49.6 345.4L105.9 296.2M51.8 345.8L107.6 296.5M54 346.2L109.4 296.7M56.2 346.6L111.2 296.9M58.4 347.1L113 297.2M60.6 347.5L114.7 297.4M62.8 347.9L116.5 297.6M65.1 348.3L118.3 297.9M67.3 348.7L120.1 298.1M69.6 349.1L121.9 298.3M71.8 349.5L123.8 298.6M74.1 349.9L125.6 298.8M76.4 350.4L127.4 299M78.7 350.8L129.2 299.3M81 351.2L131.1 299.5M83.3 351.6L132.9 299.8M85.6 352.1L134.8 300M88 352.5L136.6 300.2M90.3 352.9L138.5 300.5M92.7 353.3L140.3 300.7M95 353.8L142.2 301M97.4 354.2L144.1 301.2M99.8 354.7L146 301.5M102.2 355.1L147.9 301.7M104.6 355.5L149.8 302M107 356L151.7 302.2M109.4 356.4L153.6 302.5M111.8 356.9L155.5 302.7M114.3 357.3L157.4 303M116.8 357.8L159.3 303.2M119.2 358.2L161.3 303.5M121.7 358.7L163.2 303.7M124.2 359.1L165.2 304M126.7 359.6L167.1 304.2M129.2 360.1L169.1 304.5M131.7 360.5L171 304.7M134.3 361L173 305M136.8 361.5L175 305.2M139.4 361.9L177 305.5M141.9 362.4L179 305.8M144.5 362.9L181 306M147.1 363.3L183 306.3M149.7 363.8L185 306.6M152.3 364.3L187 306.8M154.9 364.8L189.1 307.1M157.6 365.3L191.1 307.3M160.2 365.8L193.1 307.6M162.9 366.2L195.2 307.9M165.6 366.7L197.2 308.1M168.2 367.2L199.3 308.4M170.9 367.7L201.4 308.7M33.8 341.2L174.3 366.9M35.1 340.2L175 365.6M36.3 339.2L175.6 364.3M37.6 338.2L176.3 363M38.8 337.2L176.9 361.7M40.1 336.2L177.6 360.4M41.3 335.2L178.2 359.2M42.5 334.2L178.8 357.9M43.7 333.2L179.4 356.7M44.9 332.3L180 355.5M46.1 331.3L180.6 354.3M47.3 330.4L181.2 353.1M48.4 329.4L181.8 352M49.6 328.5L182.4 350.8M50.7 327.6L183 349.7M51.8 326.7L183.6 348.5M53 325.8L184.1 347.4M54.1 324.9L184.7 346.3M55.2 324L185.2 345.2M56.2 323.2L185.8 344.1M57.3 322.3L186.3 343M58.4 321.4L186.9 342M59.4 320.6L187.4 340.9M60.5 319.7L187.9 339.9M61.5 318.9L188.4 338.8M62.6 318.1L188.9 337.8M63.6 317.3L189.5 336.8M64.6 316.5L190 335.8M65.6 315.6L190.5 334.8M66.6 314.8L190.9 333.8M67.6 314.1L191.4 332.8M68.5 313.3L191.9 331.9M69.5 312.5L192.4 330.9M70.5 311.7L192.9 330M71.4 311L193.3 329M72.3 310.2L193.8 328.1M73.3 309.5L194.3 327.2M74.2 308.7L194.7 326.3M75.1 308L195.2 325.4M76 307.2L195.6 324.5M76.9 306.5L196.1 323.6M77.8 305.8L196.5 322.7M78.7 305.1L197 321.8M79.6 304.4L197.4 321M80.5 303.7L197.8 320.1M81.3 303L198.2 319.3M82.2 302.3L198.7 318.4M83 301.6L199.1 317.6M83.9 300.9L199.5 316.8M84.7 300.2L199.9 316M85.6 299.6L200.3 315.2M86.4 298.9L200.7 314.4M87.2 298.3L201.1 313.6M88 297.6L201.5 312.8M88.8 297L201.9 312M89.6 296.3L202.3 311.2M90.4 295.7L202.7 310.5M91.2 295L203.1 309.7" stroke="#1e1ea0" stroke-width="0.55" fill="none"/>
<polygon points="105.6,314.2 106.4,313.4 105.8,308.9 105.2,309.4" fill="#0a0ac8"/>
<polygon points="105.8,308.9 105.2,304.6 104.8,305 105.2,309.4" fill="#40f0f0"/>
<polygon points="105.2,304.6 104.4,299.5 104.3,299.6 104.8,305" fill="#10d890"/>
<polygon points="104.4,299.5 104.2,297.6 104.3,299.6" fill="#20d020"/>
<polygon points="97.4,309.4 97,313.8 98.1,314.9 98.2,310.2" fill="#0a0ac8"/>
<polygon points="97.9,305.3 97.4,309.4 98.2,310.2 98.3,305.8" fill="#40f0f0"/>
<polygon points="98.4,300.4 97.9,305.3 98.3,305.8 98.5,300.5" fill="#10d890"/>
<polygon points="98.6,298.5 98.4,300.4 98.5,300.5" fill="#20d020"/>
<polygon points="105.1,309.7 105.6,314.2 105.2,309.4" fill="#0a0ac8"/>
<polygon points="104.6,305.4 105.1,309.7 105.2,309.4 104.8,305" fill="#40f0f0"/>
<polygon points="104.1,300.3 104.6,305.4 104.8,305 104.3,299.6" fill="#10d890"/>
<polygon points="103.5,295.1 104.1,300.3 104.3,299.6 104.2,297.6 103.7,294.7" fill="#20d020"/>
<polygon points="103.2,292 103.5,295.1 103.7,294.7" fill="#f0e820"/>
<polygon points="104.1,310.4 104.8,315 105.6,314.2 104.7,309.9" fill="#0a0ac8"/>
<polygon points="103.5,306.1 104.1,310.4 104.7,309.9 103.9,305.8" fill="#40f0f0"/>
<polygon points="102.8,301 103.5,306.1 103.9,305.8 102.9,300.9" fill="#10d890"/>
<polygon points="102.5,299.1 102.8,301 102.9,300.9" fill="#20d020"/>
<polygon points="98.2,310.2 98.1,314.9 100,315.2 99.6,310.4" fill="#0a0ac8"/>
<polygon points="98.3,305.8 98.2,310.2 99.6,310.4 99.2,305.9" fill="#40f0f0"/>
<polygon points="98.5,300.5 98.3,305.8 99.2,305.9 98.7,300.5" fill="#10d890"/>
<polygon points="98.6,298.5 98.5,300.5 98.7,300.5" fill="#20d020"/>
<polygon points="102.1,310.8 102,315.5 104.8,315 104.1,310.4" fill="#0a0ac8"/>
<polygon points="102.3,306.3 102.1,310.8 104.1,310.4 103.5,306.1" fill="#40f0f0"/>
<polygon points="102.4,301 102.3,306.3 103.5,306.1 102.8,301" fill="#10d890"/>
<polygon points="102.5,299.1 102.4,301 102.8,301" fill="#20d020"/>
<polygon points="104.7,309.9 105.6,314.2 105.1,309.7" fill="#0a0ac8"/>
<polygon points="103.9,305.8 104.7,309.9 105.1,309.7 104.6,305.4" fill="#40f0f0"/>
<polygon points="102.9,300.9 103.9,305.8 104.6,305.4 104.1,300.3" fill="#10d890"/>
<polygon points="102.9,295.4 102.5,299.1 102.9,300.9 104.1,300.3 103.5,295.1" fill="#20d020"/>
<polygon points="103.2,292 102.9,295.4 103.5,295.1" fill="#f0e820"/>
<polygon points="100,315.2 102,315.5 102.1,310.8 100.7,310.6" fill="#0a0ac8"/>
<polygon points="102.1,310.8 102.3,306.3 101.4,306.2 100.7,310.6" fill="#40f0f0"/>
<polygon points="102.3,306.3 102.4,301 102.2,301 101.4,306.2" fill="#10d890"/>
<polygon points="102.4,301 102.5,299.1 102.2,301" fill="#20d020"/>
<polygon points="99.6,310.4 100,315.2 100.1,310.5" fill="#0a0ac8"/>
<polygon points="99.2,305.9 99.6,310.4 100.1,310.5 100.2,306.2" fill="#40f0f0"/>
<polygon points="98.7,300.5 99.2,305.9 100.2,306.2 100.3,301" fill="#10d890"/>
<polygon points="99.5,295.4 98.6,298.5 98.7,300.5 100.3,301 100.3,295.6" fill="#20d020"/>
<polygon points="100.4,292.5 99.5,295.4 100.3,295.6" fill="#f0e820"/>
<polygon points="98.9,294.8 98.6,298.5 99.5,295.4" fill="#20d020"/>
<polygon points="99.3,291.5 98.9,294.8 99.5,295.4 100.4,292.5" fill="#f0e820"/>
<polygon points="100.1,310.5 100,315.2 100.7,310.6" fill="#0a0ac8"/>
<polygon points="100.2,306.2 100.1,310.5 100.7,310.6 101.4,306.2" fill="#40f0f0"/>
<polygon points="100.3,301 100.2,306.2 101.4,306.2 102.2,301" fill="#10d890"/>
<polygon points="100.3,295.6 100.3,301 102.2,301 102.5,299.1 101.4,295.6" fill="#20d020"/>
<polygon points="100.4,292.5 100.3,295.6 101.4,295.6" fill="#f0e820"/>
<polygon points="101.4,295.6 102.5,299.1 102.9,295.4" fill="#20d020"/>
<polygon points="100.4,292.5 101.4,295.6 102.9,295.4 103.2,292" fill="#f0e820"/>
<polygon points="99.5,290.3 99.3,291.5 100.4,292.5 100.5,291.1" fill="#f0e820"/>
<polygon points="100.5,285.2 99.5,290.3 100.5,291.1 100.8,285.5" fill="#e08830"/>
<polygon points="101,282.4 100.5,285.2 100.8,285.5 101,282.4" fill="#c8a8a0"/>
<polygon points="100.5,291.1 100.4,292.5 103.2,292 102.9,290.7" fill="#f0e820"/>
<polygon points="100.8,285.5 100.5,291.1 102.9,290.7 101.8,285.4" fill="#e08830"/>
<polygon points="101,282.4 100.8,285.5 101.8,285.4 101.1,282.4" fill="#c8a8a0"/>
<polygon points="76.3,345.1 77.4,344 76.6,338.8 75.8,339.5" fill="#0a0ac8"/>
<polygon points="76.6,338.8 75.9,333.9 75.4,334.4 75.8,339.5" fill="#40f0f0"/>
<polygon points="75.9,333.9 74.9,328 74.8,328.1 75.4,334.4" fill="#10d890"/>
<polygon points="74.9,328 74.6,325.7 74.8,328.1" fill="#20d020"/>
<polygon points="66.8,339.6 66.3,344.6 67.4,346.1 67.5,340.6" fill="#0a0ac8"/>
<polygon points="67.1,334.9 66.8,339.6 67.5,340.6 67.6,335.5" fill="#40f0f0"/>
<polygon points="67.6,329.2 67.1,334.9 67.6,335.5 67.7,329.3" fill="#10d890"/>
<polygon points="67.8,327 67.6,329.2 67.7,329.3" fill="#20d020"/>
<polygon points="75.7,339.9 76.3,345.1 75.8,339.5" fill="#0a0ac8"/>
<polygon points="75.1,335 75.7,339.9 75.8,339.5 75.4,334.4" fill="#40f0f0"/>
<polygon points="74.4,329.1 75.1,335 75.4,334.4 74.8,328.1" fill="#10d890"/>
<polygon points="73.6,323 74.4,329.1 74.8,328.1 74.6,325.7 73.8,322.5" fill="#20d020"/>
<polygon points="73.2,319.4 73.6,323 73.8,322.5" fill="#f0e820"/>
<polygon points="74.4,340.9 75.2,346.2 76.3,345.1 75.2,340.1" fill="#0a0ac8"/>
<polygon points="73.6,336 74.4,340.9 75.2,340.1 74.1,335.5" fill="#40f0f0"/>
<polygon points="72.7,330 73.6,336 74.1,335.5 72.8,329.9" fill="#10d890"/>
<polygon points="72.3,327.7 72.7,330 72.8,329.9" fill="#20d020"/>
<polygon points="67.5,340.6 67.4,346.1 69.6,346.5 69.1,340.9" fill="#0a0ac8"/>
<polygon points="67.6,335.5 67.5,340.6 69.1,340.9 68.6,335.7" fill="#40f0f0"/>
<polygon points="67.7,329.3 67.6,335.5 68.6,335.7 68,329.4" fill="#10d890"/>
<polygon points="67.8,327 67.7,329.3 68,329.4" fill="#20d020"/>
<polygon points="72,341.4 71.9,346.9 75.2,346.2 74.4,340.9" fill="#0a0ac8"/>
<polygon points="72.1,336.3 72,341.4 74.4,340.9 73.6,336" fill="#40f0f0"/>
<polygon points="72.2,330.1 72.1,336.3 73.6,336 72.7,330" fill="#10d890"/>
<polygon points="72.3,327.7 72.2,330.1 72.7,330" fill="#20d020"/>
<polygon points="75.2,340.1 76.3,345.1 75.7,339.9" fill="#0a0ac8"/>
<polygon points="74.1,335.5 75.2,340.1 75.7,339.9 75.1,335" fill="#40f0f0"/>
<polygon points="72.8,329.9 74.1,335.5 75.1,335 74.4,329.1" fill="#10d890"/>
<polygon points="72.7,323.4 72.3,327.7 72.8,329.9 74.4,329.1 73.6,323" fill="#20d020"/>
<polygon points="73.2,319.4 72.7,323.4 73.6,323" fill="#f0e820"/>
<polygon points="69.6,346.5 71.9,346.9 72,341.4 70.4,341.1" fill="#0a0ac8"/>
<polygon points="72,341.4 72.1,336.3 71.1,336.1 70.4,341.1" fill="#40f0f0"/>
<polygon points="72.1,336.3 72.2,330.1 72,330 71.1,336.1" fill="#10d890"/>
<polygon points="72.2,330.1 72.3,327.7 72,330" fill="#20d020"/>
<polygon points="69.1,340.9 69.6,346.5 69.7,341.1" fill="#0a0ac8"/>
<polygon points="68.6,335.7 69.1,340.9 69.7,341.1 69.7,336" fill="#40f0f0"/>
<polygon points="68,329.4 68.6,335.7 69.7,336 69.7,330" fill="#10d890"/>
<polygon points="68.8,323.4 67.8,327 68,329.4 69.7,330 69.7,323.7" fill="#20d020"/>
<polygon points="69.7,320 68.8,323.4 69.7,323.7" fill="#f0e820"/>
<polygon points="68.2,322.7 67.8,327 68.8,323.4" fill="#20d020"/>
<polygon points="68.7,318.7 68.2,322.7 68.8,323.4 69.7,320" fill="#f0e820"/>
<polygon points="69.7,341.1 69.6,346.5 70.4,341.1" fill="#0a0ac8"/>
<polygon points="69.7,336 69.7,341.1 70.4,341.1 71.1,336.1" fill="#40f0f0"/>
<polygon points="69.7,330 69.7,336 71.1,336.1 72,330" fill="#10d890"/>
<polygon points="69.7,323.7 69.7,330 72,330 72.3,327.7 71,323.8" fill="#20d020"/>
<polygon points="69.7,320 69.7,323.7 71,323.8" fill="#f0e820"/>
<polygon points="97.8,347.6 98.8,346.5 98,341.2 97.3,342" fill="#0a0ac8"/>
<polygon points="98,341.2 97.3,336.3 96.9,336.7 97.3,342" fill="#40f0f0"/>
<polygon points="97.3,336.3 96.4,330.3 96.3,330.4 96.9,336.7" fill="#10d890"/>
<polygon points="96.4,330.3 96.1,328.6 96.3,330.4" fill="#20d020"/>
<polygon points="71,323.8 72.3,327.7 72.7,323.4" fill="#20d020"/>
<polygon points="69.7,320 71,323.8 72.7,323.4 73.2,319.4" fill="#f0e820"/>
<polygon points="68.9,317.4 68.7,318.7 69.7,320 69.8,318.6" fill="#f0e820"/>
<polygon points="69.8,311.6 68.9,317.4 69.8,318.6 70.2,312" fill="#e08830"/>
<polygon points="70.4,308.3 69.8,311.6 70.2,312 70.4,308.4" fill="#c8a8a0"/>
<polygon points="69.8,318.6 69.7,320 73.2,319.4 72.8,318" fill="#f0e820"/>
<polygon points="70.2,312 69.8,318.6 72.8,318 71.4,311.8" fill="#e08830"/>
<polygon points="70.4,308.4 70.2,312 71.4,311.8 70.6,308.4" fill="#c8a8a0"/>
<polygon points="88.2,342 87.6,347.1 88.9,348.6 89,343.1" fill="#0a0ac8"/>
<polygon points="88.6,337.3 88.2,342 89,343.1 89.2,337.9" fill="#40f0f0"/>
<polygon points="89.2,331.5 88.6,337.3 89.2,337.9 89.4,331.7" fill="#10d890"/>
<polygon points="89.4,329.9 89.2,331.5 89.4,331.7" fill="#20d020"/>
<polygon points="97.2,342.3 97.8,347.6 97.3,342" fill="#0a0ac8"/>
<polygon points="96.7,337.4 97.2,342.3 97.3,342 96.9,336.7" fill="#40f0f0"/>
<polygon points="96,331.4 96.7,337.4 96.9,336.7 96.3,330.4" fill="#10d890"/>
<polygon points="95.3,325.3 96,331.4 96.3,330.4 96.1,328.6 95.4,324.9" fill="#20d020"/>
<polygon points="94.9,322.5 95.3,325.3 95.4,324.9" fill="#f0e820"/>
<polygon points="96,343.4 96.8,348.8 97.8,347.6 96.7,342.6" fill="#0a0ac8"/>
<polygon points="95.2,338.4 96,343.4 96.7,342.6 95.7,338" fill="#40f0f0"/>
<polygon points="94.3,332.4 95.2,338.4 95.7,338 94.4,332.3" fill="#10d890"/>
<polygon points="94.1,330.7 94.3,332.4 94.4,332.3" fill="#20d020"/>
<polygon points="89,343.1 88.9,348.6 91.2,349 90.6,343.4" fill="#0a0ac8"/>
<polygon points="89.2,337.9 89,343.1 90.6,343.4 90.2,338.1" fill="#40f0f0"/>
<polygon points="89.4,331.7 89.2,337.9 90.2,338.1 89.6,331.7" fill="#10d890"/>
<polygon points="89.4,329.9 89.4,331.7 89.6,331.7" fill="#20d020"/>
<polygon points="93.6,343.9 93.5,349.5 96.8,348.8 96,343.4" fill="#0a0ac8"/>
<polygon points="93.8,338.7 93.6,343.9 96,343.4 95.2,338.4" fill="#40f0f0"/>
<polygon points="94,332.4 93.8,338.7 95.2,338.4 94.3,332.4" fill="#10d890"/>
<polygon points="94.1,330.7 94,332.4 94.3,332.4" fill="#20d020"/>
<polygon points="96.7,342.6 97.8,347.6 97.2,342.3" fill="#0a0ac8"/>
<polygon points="95.7,338 96.7,342.6 97.2,342.3 96.7,337.4" fill="#40f0f0"/>
<polygon points="94.4,332.3 95.7,338 96.7,337.4 96,331.4" fill="#10d890"/>
<polygon points="94.6,325.6 94.1,330.7 94.4,332.3 96,331.4 95.3,325.3" fill="#20d020"/>
<polygon points="94.9,322.5 94.6,325.6 95.3,325.3" fill="#f0e820"/>
<polygon points="91.2,349 93.5,349.5 93.6,343.9 92,343.6" fill="#0a0ac8"/>
<polygon points="93.6,343.9 93.8,338.7 92.8,338.5 92,343.6" fill="#40f0f0"/>
<polygon points="93.8,338.7 94,332.4 93.8,332.4 92.8,338.5" fill="#10d890"/>
<polygon points="94,332.4 94.1,330.7 93.8,332.4" fill="#20d020"/>
<polygon points="90.6,343.4 91.2,349 91.2,343.6" fill="#0a0ac8"/>
<polygon points="90.2,338.1 90.6,343.4 91.2,343.6 91.3,338.5" fill="#40f0f0"/>
<polygon points="89.6,331.7 90.2,338.1 91.3,338.5 91.4,332.3" fill="#10d890"/>
<polygon points="90.7,325.7 89.4,329.9 89.6,331.7 91.4,332.3 91.5,326" fill="#20d020"/>
<polygon points="91.5,323.1 90.7,325.7 91.5,326" fill="#f0e820"/>
<polygon points="89.9,324.9 89.4,329.9 90.7,325.7" fill="#20d020"/>
<polygon points="90.3,321.8 89.9,324.9 90.7,325.7 91.5,323.1" fill="#f0e820"/>
<polygon points="91.2,343.6 91.2,349 92,343.6" fill="#0a0ac8"/>
<polygon points="91.3,338.5 91.2,343.6 92,343.6 92.8,338.5" fill="#40f0f0"/>
<polygon points="91.4,332.3 91.3,338.5 92.8,338.5 93.8,332.4" fill="#10d890"/>
<polygon points="91.5,326 91.4,332.3 93.8,332.4 94.1,330.7 92.5,326" fill="#20d020"/>
<polygon points="91.5,323.1 91.5,326 92.5,326" fill="#f0e820"/>
<polygon points="90.7,319.6 90.3,321.8 91.5,323.1 91.7,320.7" fill="#f0e820"/>
<polygon points="91.8,313.7 90.7,319.6 91.7,320.7 92.1,314" fill="#e08830"/>
<polygon points="92.3,311.3 91.8,313.7 92.1,314" fill="#c8a8a0"/>
<polygon points="92.5,326 94.1,330.7 94.6,325.6" fill="#20d020"/>
<polygon points="91.5,323.1 92.5,326 94.6,325.6 94.9,322.5" fill="#f0e820"/>
<polygon points="91.7,320.7 91.5,323.1 94.9,322.5 94.4,320.2" fill="#f0e820"/>
<polygon points="92.1,314 91.7,320.7 94.4,320.2 92.9,313.9" fill="#e08830"/>
<polygon points="92.3,311.3 92.1,314 92.9,313.9" fill="#c8a8a0"/>
<line x1="31.6" y1="460" x2="91.7" y2="414.8" stroke="#d2d2d2" stroke-width="0.55"/>
<line x1="91.7" y1="414.8" x2="204" y2="428.4" stroke="#d2d2d2" stroke-width="0.55"/>
<line x1="30.7" y1="446.5" x2="91.4" y2="404.2" stroke="#d2d2d2" stroke-width="0.55"/>
<line x1="91.4" y1="404.2" x2="204.5" y2="416.8" stroke="#d2d2d2" stroke-width="0.55"/>
<line x1="43.7" y1="464.2" x2="41.5" y2="425.2" stroke="#d2d2d2" stroke-width="0.55"/>
<line x1="55.2" y1="455" x2="53.3" y2="417.7" stroke="#d2d2d2" stroke-width="0.55"/>
<line x1="65.6" y1="446.6" x2="64" y2="410.8" stroke="#d2d2d2" stroke-width="0.55"/>
<line x1="75.1" y1="438.9" x2="73.9" y2="404.5" stroke="#d2d2d2" stroke-width="0.55"/>
<line x1="83.9" y1="431.9" x2="82.9" y2="398.7" stroke="#d2d2d2" stroke-width="0.55"/>
<line x1="107.6" y1="427.4" x2="107.1" y2="395" stroke="#d2d2d2" stroke-width="0.55"/>
<line x1="125.6" y1="429.7" x2="125.4" y2="396.9" stroke="#d2d2d2" stroke-width="0.55"/>
<line x1="144.1" y1="432.2" x2="144.3" y2="398.8" stroke="#d2d2d2" stroke-width="0.55"/>
<line x1="163.2" y1="434.7" x2="163.9" y2="400.8" stroke="#d2d2d2" stroke-width="0.55"/>
<line x1="183" y1="437.2" x2="184.1" y2="402.8" stroke="#d2d2d2" stroke-width="0.55"/>
<line x1="29.8" y1="432.7" x2="91.1" y2="393.4" stroke="#6e6e6e" stroke-width="0.55"/>
<line x1="91.1" y1="393.4" x2="205" y2="404.9" stroke="#6e6e6e" stroke-width="0.55"/>
<line x1="32.5" y1="473.2" x2="29.8" y2="432.7" stroke="#6e6e6e" stroke-width="0.55"/>
<line x1="92" y1="425.4" x2="91.1" y2="393.4" stroke="#8a8a8a" stroke-width="0.55"/>
<line x1="203.4" y1="439.9" x2="205" y2="404.9" stroke="#7a7a7a" stroke-width="0.55"/>
<polygon points="32.5,473.2 173.6,499.2 203.4,439.9 92,425.4" fill="#7a7af8"/>
<path d="M34.6 473.6L93.7 425.6M36.7 474L95.4 425.8M38.8 474.4L97.1 426M41 474.8L98.9 426.3M43.1 475.2L100.6 426.5M45.3 475.6L102.4 426.7M47.4 476L104.1 427M49.6 476.4L105.9 427.2M51.8 476.8L107.6 427.4M54 477.2L109.4 427.6M56.2 477.6L111.2 427.9M58.4 478L113 428.1M60.6 478.4L114.7 428.3M62.8 478.8L116.5 428.6M65.1 479.2L118.3 428.8M67.3 479.6L120.1 429M69.6 480.1L121.9 429.3M71.8 480.5L123.8 429.5M74.1 480.9L125.6 429.7M76.4 481.3L127.4 430M78.7 481.7L129.2 430.2M81 482.2L131.1 430.5M83.3 482.6L132.9 430.7M85.6 483L134.8 430.9M88 483.4L136.6 431.2M90.3 483.9L138.5 431.4M92.7 484.3L140.3 431.7M95 484.7L142.2 431.9M97.4 485.2L144.1 432.2M99.8 485.6L146 432.4M102.2 486L147.9 432.7M104.6 486.5L149.8 432.9M107 486.9L151.7 433.2M109.4 487.4L153.6 433.4M111.8 487.8L155.5 433.7M114.3 488.3L157.4 433.9M116.8 488.7L159.3 434.2M119.2 489.2L161.3 434.4M121.7 489.6L163.2 434.7M124.2 490.1L165.2 434.9M126.7 490.6L167.1 435.2M129.2 491L169.1 435.4M131.7 491.5L171 435.7M134.3 491.9L173 435.9M136.8 492.4L175 436.2M139.4 492.9L177 436.5M141.9 493.3L179 436.7M144.5 493.8L181 437M147.1 494.3L183 437.2M149.7 494.8L185 437.5M152.3 495.3L187 437.8M154.9 495.7L189.1 438M157.6 496.2L191.1 438.3M160.2 496.7L193.1 438.6M162.9 497.2L195.2 438.8M165.6 497.7L197.2 439.1M168.2 498.2L199.3 439.4M170.9 498.7L201.4 439.6M33.8 472.2L174.3 497.8M35.1 471.2L175 496.5M36.3 470.1L175.6 495.2M37.6 469.1L176.3 493.9M38.8 468.1L176.9 492.6M40.1 467.1L177.6 491.4M41.3 466.1L178.2 490.1M42.5 465.1L178.8 488.9M43.7 464.2L179.4 487.7M44.9 463.2L180 486.5M46.1 462.3L180.6 485.3M47.3 461.3L181.2 484.1M48.4 460.4L181.8 482.9M49.6 459.5L182.4 481.7M50.7 458.6L183 480.6M51.8 457.6L183.6 479.5M53 456.7L184.1 478.3M54.1 455.9L184.7 477.2M55.2 455L185.2 476.1M56.2 454.1L185.8 475.1M57.3 453.2L186.3 474M58.4 452.4L186.9 472.9M59.4 451.5L187.4 471.9M60.5 450.7L187.9 470.8M61.5 449.9L188.4 469.8M62.6 449L188.9 468.8M63.6 448.2L189.5 467.7M64.6 447.4L190 466.7M65.6 446.6L190.5 465.7M66.6 445.8L190.9 464.8M67.6 445L191.4 463.8M68.5 444.2L191.9 462.8M69.5 443.4L192.4 461.9M70.5 442.7L192.9 460.9M71.4 441.9L193.3 460M72.3 441.2L193.8 459.1M73.3 440.4L194.3 458.1M74.2 439.7L194.7 457.2M75.1 438.9L195.2 456.3M76 438.2L195.6 455.4M76.9 437.5L196.1 454.5M77.8 436.7L196.5 453.7M78.7 436L197 452.8M79.6 435.3L197.4 451.9M80.5 434.6L197.8 451.1M81.3 433.9L198.2 450.2M82.2 433.2L198.7 449.4M83 432.5L199.1 448.6M83.9 431.9L199.5 447.7M84.7 431.2L199.9 446.9M85.6 430.5L200.3 446.1M86.4 429.9L200.7 445.3M87.2 429.2L201.1 444.5M88 428.6L201.5 443.7M88.8 427.9L201.9 443M89.6 427.3L202.3 442.2M90.4 426.6L202.7 441.4M91.2 426L203.1 440.7" stroke="#1e1ea0" stroke-width="0.55" fill="none"/>
<polygon points="98.3,428.4 99.1,427.8 98.6,423.6 98,424.1" fill="#0a0ac8"/>
<polygon points="98.6,423.6 98,419.8 97.7,420.1 98,424.1" fill="#40f0f0"/>
<polygon points="98,419.8 97.4,415.1 97.3,415.2 97.7,420.1" fill="#10d890"/>
<polygon points="97.4,415.1 97,412.3 97.3,415.2" fill="#20d020"/>
<polygon points="90.9,424.1 90.6,428.1 91.5,429 91.6,424.7" fill="#0a0ac8"/>
<polygon points="91.3,420.3 90.9,424.1 91.6,424.7 91.7,420.8" fill="#40f0f0"/>
<polygon points="91.7,415.8 91.3,420.3 91.7,420.8 91.8,415.9" fill="#10d890"/>
<polygon points="91.9,413.1 91.7,415.8 91.8,415.9" fill="#20d020"/>
<polygon points="97.9,424.3 98.3,428.4 98,424.1" fill="#0a0ac8"/>
<polygon points="97.5,420.4 97.9,424.3 98,424.1 97.7,420.1" fill="#40f0f0"/>
<polygon points="97,415.8 97.5,420.4 97.7,420.1 97.3,415.2" fill="#10d890"/>
<polygon points="96.5,411 97,415.8 97.3,415.2 97,412.3 96.7,410.5" fill="#20d020"/>
<polygon points="96.1,407 96.5,411 96.7,410.5 96.1,407" fill="#f0e820"/>
<polygon points="97,424.9 97.6,429.1 98.3,428.4 97.6,424.4" fill="#0a0ac8"/>
<polygon points="96.5,421 97,424.9 97.6,424.4 96.9,420.7" fill="#40f0f0"/>
<polygon points="95.8,416.3 96.5,421 96.9,420.7 96,416.2" fill="#10d890"/>
<polygon points="95.5,413.5 95.8,416.3 96,416.2" fill="#20d020"/>
<polygon points="91.6,424.7 91.5,429 93.3,429.3 92.9,424.9" fill="#0a0ac8"/>
<polygon points="91.7,420.8 91.6,424.7 92.9,424.9 92.6,420.9" fill="#40f0f0"/>
<polygon points="91.8,415.9 91.7,420.8 92.6,420.9 92.2,416" fill="#10d890"/>
<polygon points="91.9,413.1 91.8,415.9 92.2,416" fill="#20d020"/>
<polygon points="95.1,425.2 95,429.5 97.6,429.1 97,424.9" fill="#0a0ac8"/>
<polygon points="95.3,421.2 95.1,425.2 97,424.9 96.5,421" fill="#40f0f0"/>
<polygon points="95.4,416.4 95.3,421.2 96.5,421 95.8,416.3" fill="#10d890"/>
<polygon points="95.5,413.5 95.4,416.4 95.8,416.3" fill="#20d020"/>
<polygon points="93.3,429.3 95,429.5 95.1,425.2 93.9,425" fill="#0a0ac8"/>
<polygon points="95.1,425.2 95.3,421.2 94.4,421.1 93.9,425" fill="#40f0f0"/>
<polygon points="95.3,421.2 95.4,416.4 95.1,416.3 94.4,421.1" fill="#10d890"/>
<polygon points="95.4,416.4 95.5,413.5 95.1,416.3" fill="#20d020"/>
<polygon points="97.6,424.4 98.3,428.4 97.9,424.3" fill="#0a0ac8"/>
<polygon points="96.9,420.7 97.6,424.4 97.9,424.3 97.5,420.4" fill="#40f0f0"/>
<polygon points="96,416.2 96.9,420.7 97.5,420.4 97,415.8" fill="#10d890"/>
<polygon points="95.7,411.3 95.5,413.5 96,416.2 97,415.8 96.5,411" fill="#20d020"/>
<polygon points="96.1,407.1 95.7,411.3 96.5,411 96.1,407" fill="#f0e820"/>
<polygon points="92.9,424.9 93.3,429.3 93.3,425" fill="#0a0ac8"/>
<polygon points="92.6,420.9 92.9,424.9 93.3,425 93.4,421.1" fill="#40f0f0"/>
<polygon points="92.2,416 92.6,420.9 93.4,421.1 93.4,416.3" fill="#10d890"/>
<polygon points="92.4,411.2 91.9,413.1 92.2,416 93.4,416.3 93.5,411.4" fill="#20d020"/>
<polygon points="93.4,407.4 92.4,411.2 93.5,411.4 93.5,407.4" fill="#f0e820"/>
<polygon points="93.3,425 93.3,429.3 93.9,425" fill="#0a0ac8"/>
<polygon points="93.4,421.1 93.3,425 93.9,425 94.4,421.1" fill="#40f0f0"/>
<polygon points="93.4,416.3 93.4,421.1 94.4,421.1 95.1,416.3" fill="#10d890"/>
<polygon points="93.5,411.4 93.4,416.3 95.1,416.3 95.5,413.5 94.8,411.4" fill="#20d020"/>
<polygon points="93.5,407.4 93.5,411.4 94.8,411.4 93.6,407.4" fill="#f0e820"/>
<polygon points="92.1,410.9 91.9,413.1 92.4,411.2" fill="#20d020"/>
<polygon points="92.5,406.7 92.1,410.9 92.4,411.2 93.4,407.4" fill="#f0e820"/>
<polygon points="92.6,406.3 92.5,406.7 93.4,407.4 93.5,407.1" fill="#e08830"/>
<polygon points="94.8,411.4 95.5,413.5 95.7,411.3" fill="#20d020"/>
<polygon points="93.6,407.4 94.8,411.4 95.7,411.3 96.1,407.1" fill="#f0e820"/>
<polygon points="93.5,407.1 93.6,407.4 96.1,407.1 96.1,406.7" fill="#e08830"/>
<polygon points="93.3,402 92.6,406.3 93.5,407.1 93.8,402.4" fill="#e08830"/>
<polygon points="93.7,399.4 93.3,402 93.8,402.4 94,399.6" fill="#c8a8a0"/>
<polygon points="94.1,397.1 93.7,399.4 94,399.6" fill="#e0d4d4" stroke="#a09090" stroke-width="0.35"/>
<polygon points="93.8,402.4 93.5,407.1 96.1,406.7 95.2,402.2" fill="#e08830"/>
<polygon points="94,399.6 93.8,402.4 95.2,402.2 94.6,399.5" fill="#c8a8a0"/>
<polygon points="94.1,397.1 94,399.6 94.6,399.5" fill="#e0d4d4" stroke="#a09090" stroke-width="0.35"/>
<polygon points="190.8,451 191.3,450.2 190.8,445.5 190.5,446" fill="#0a0ac8"/>
<polygon points="190.8,445.5 190.4,441.1 190.2,441.4 190.5,446" fill="#40f0f0"/>
<polygon points="190.4,441.1 189.9,435.8 189.8,435.9 190.2,441.4" fill="#10d890"/>
<polygon points="189.9,435.8 189.7,433.7 189.8,435.9" fill="#20d020"/>
<polygon points="72.2,452.5 73.2,451.7 72.5,447 71.7,447.6" fill="#0a0ac8"/>
<polygon points="72.5,447 71.8,442.6 71.3,443 71.7,447.6" fill="#40f0f0"/>
<polygon points="71.8,442.6 71,437.3 70.8,437.4 71.3,443" fill="#10d890"/>
<polygon points="71,437.3 70.6,434.9 70.8,437.4" fill="#20d020"/>
<polygon points="182.4,446.1 181.6,450.6 183.3,451.8 183.6,446.9" fill="#0a0ac8"/>
<polygon points="183.1,441.8 182.4,446.1 183.6,446.9 183.9,442.3" fill="#40f0f0"/>
<polygon points="184,436.7 183.1,441.8 183.9,442.3 184.2,436.8" fill="#10d890"/>
<polygon points="184.3,434.7 184,436.7 184.2,436.8" fill="#20d020"/>
<polygon points="63.7,447.6 63.3,452.2 64.3,453.3 64.3,448.4" fill="#0a0ac8"/>
<polygon points="64,443.4 63.7,447.6 64.3,448.4 64.4,443.9" fill="#40f0f0"/>
<polygon points="64.4,438.2 64,443.4 64.4,443.9 64.5,438.4" fill="#10d890"/>
<polygon points="64.6,435.9 64.4,438.2 64.5,438.4" fill="#20d020"/>
<polygon points="182.7,445.2 182.1,449.8 182.7,445.5" fill="#0a0ac8"/>
<polygon points="183.3,441 182.7,445.2 182.7,445.5 183.3,441.5" fill="#40f0f0"/>
<polygon points="183.9,435.8 183.3,441 183.3,441.5 184,436.6" fill="#10d890"/>
<polygon points="184.6,430.6 183.9,435.8 184,436.6 184.3,434.7 184.7,431" fill="#20d020"/>
<polygon points="185,427.4 184.6,430.6 184.7,431" fill="#f0e820"/>
<polygon points="189.9,447.1 190.3,451.9 190.8,451 190.2,446.5" fill="#0a0ac8"/>
<polygon points="189.4,442.7 189.9,447.1 190.2,446.5 189.7,442.3" fill="#40f0f0"/>
<polygon points="188.9,437.3 189.4,442.7 189.7,442.3 189,437.2" fill="#10d890"/>
<polygon points="188.7,435.3 188.9,437.3 189,437.2" fill="#20d020"/>
<polygon points="71.6,447.8 72.2,452.5 71.7,447.6" fill="#0a0ac8"/>
<polygon points="71.1,443.5 71.6,447.8 71.7,447.6 71.3,443" fill="#40f0f0"/>
<polygon points="70.4,438.2 71.1,443.5 71.3,443 70.8,437.4" fill="#10d890"/>
<polygon points="69.8,432.7 70.4,438.2 70.8,437.4 70.6,434.9 70,432.3" fill="#20d020"/>
<polygon points="69.3,429 69.8,432.7 70,432.3" fill="#f0e820"/>
<polygon points="70.5,448.7 71.2,453.4 72.2,452.5 71.2,448.1" fill="#0a0ac8"/>
<polygon points="69.8,444.2 70.5,448.7 71.2,448.1 70.2,443.9" fill="#40f0f0"/>
<polygon points="68.9,438.9 69.8,444.2 70.2,443.9 69.1,438.8" fill="#10d890"/>
<polygon points="68.5,436.5 68.9,438.9 69.1,438.8" fill="#20d020"/>
<polygon points="183.6,446.9 183.3,451.8 185.5,452.1 185.1,447.1" fill="#0a0ac8"/>
<polygon points="183.9,442.3 183.6,446.9 185.1,447.1 184.8,442.5" fill="#40f0f0"/>
<polygon points="184.2,436.8 183.9,442.3 184.8,442.5 184.5,436.9" fill="#10d890"/>
<polygon points="184.3,434.7 184.2,436.8 184.5,436.9" fill="#20d020"/>
<polygon points="64.3,448.4 64.3,453.3 66.2,453.6 65.8,448.7" fill="#0a0ac8"/>
<polygon points="64.4,443.9 64.3,448.4 65.8,448.7 65.3,444" fill="#40f0f0"/>
<polygon points="64.5,438.4 64.4,443.9 65.3,444 64.8,438.4" fill="#10d890"/>
<polygon points="64.6,435.9 64.5,438.4 64.8,438.4" fill="#20d020"/>
<polygon points="188,447.5 187.7,452.4 190.3,451.9 189.9,447.1" fill="#0a0ac8"/>
<polygon points="188.3,442.9 188,447.5 189.9,447.1 189.4,442.7" fill="#40f0f0"/>
<polygon points="188.6,437.4 188.3,442.9 189.4,442.7 188.9,437.3" fill="#10d890"/>
<polygon points="188.7,435.3 188.6,437.4 188.9,437.3" fill="#20d020"/>
<polygon points="68.3,449.1 68.2,453.9 71.2,453.4 70.5,448.7" fill="#0a0ac8"/>
<polygon points="68.4,444.5 68.3,449.1 70.5,448.7 69.8,444.2" fill="#40f0f0"/>
<polygon points="68.5,439 68.4,444.5 69.8,444.2 68.9,438.9" fill="#10d890"/>
<polygon points="68.5,436.5 68.5,439 68.9,438.9" fill="#20d020"/>
<polygon points="190.2,446.5 190.8,451 190.5,446.3" fill="#0a0ac8"/>
<polygon points="189.7,442.3 190.2,446.5 190.5,446.3 190.3,441.9" fill="#40f0f0"/>
<polygon points="189,437.2 189.7,442.3 190.3,441.9 189.9,436.6" fill="#10d890"/>
<polygon points="189.1,431.5 188.7,435.3 189,437.2 189.9,436.6 189.6,431.2" fill="#20d020"/>
<polygon points="189.4,427.9 189.1,431.5 189.6,431.2" fill="#f0e820"/>
<polygon points="185.5,452.1 187.7,452.4 188,447.5 186.4,447.3" fill="#0a0ac8"/>
<polygon points="188,447.5 188.3,442.9 187.3,442.8 186.4,447.3" fill="#40f0f0"/>
<polygon points="188.3,442.9 188.6,437.4 188.3,437.4 187.3,442.8" fill="#10d890"/>
<polygon points="188.6,437.4 188.7,435.3 188.3,437.4" fill="#20d020"/>
<polygon points="66.2,453.6 68.2,453.9 68.3,449.1 66.9,448.8" fill="#0a0ac8"/>
<polygon points="68.3,449.1 68.4,444.5 67.5,444.3 66.9,448.8" fill="#40f0f0"/>
<polygon points="68.4,444.5 68.5,439 68.2,438.9 67.5,444.3" fill="#10d890"/>
<polygon points="68.5,439 68.5,436.5 68.2,438.9" fill="#20d020"/>
<polygon points="71.2,448.1 72.2,452.5 71.6,447.8" fill="#0a0ac8"/>
<polygon points="70.2,443.9 71.2,448.1 71.6,447.8 71.1,443.5" fill="#40f0f0"/>
<polygon points="69.1,438.8 70.2,443.9 71.1,443.5 70.4,438.2" fill="#10d890"/>
<polygon points="68.9,433.1 68.5,436.5 69.1,438.8 70.4,438.2 69.8,432.7" fill="#20d020"/>
<polygon points="69.3,429 68.9,433.1 69.8,432.7" fill="#f0e820"/>
<polygon points="185.1,447.1 185.5,452.1 185.7,447.3" fill="#0a0ac8"/>
<polygon points="184.8,442.5 185.1,447.1 185.7,447.3 186,442.8" fill="#40f0f0"/>
<polygon points="184.5,436.9 184.8,442.5 186,442.8 186.3,437.3" fill="#10d890"/>
<polygon points="185.6,431.5 184.3,434.7 184.5,436.9 186.3,437.3 186.6,431.7" fill="#20d020"/>
<polygon points="186.7,428.4 185.6,431.5 186.6,431.7" fill="#f0e820"/>
<polygon points="65.8,448.7 66.2,453.6 66.2,448.8" fill="#0a0ac8"/>
<polygon points="65.3,444 65.8,448.7 66.2,448.8 66.2,444.3" fill="#40f0f0"/>
<polygon points="64.8,438.4 65.3,444 66.2,444.3 66.2,438.9" fill="#10d890"/>
<polygon points="65.3,433 64.6,435.9 64.8,438.4 66.2,438.9 66.3,433.3" fill="#20d020"/>
<polygon points="66.3,429.4 65.3,433 66.3,433.3" fill="#f0e820"/>
<polygon points="184.7,431 184.3,434.7 185.6,431.5" fill="#20d020"/>
<polygon points="185,427.4 184.7,431 185.6,431.5 186.7,428.4" fill="#f0e820"/>
<polygon points="185.7,447.3 185.5,452.1 186.4,447.3" fill="#0a0ac8"/>
<polygon points="186,442.8 185.7,447.3 186.4,447.3 187.3,442.8" fill="#40f0f0"/>
<polygon points="186.3,437.3 186,442.8 187.3,442.8 188.3,437.4" fill="#10d890"/>
<polygon points="186.6,431.7 186.3,437.3 188.3,437.4 188.7,435.3 187.7,431.8" fill="#20d020"/>
<polygon points="186.7,428.4 186.6,431.7 187.7,431.8" fill="#f0e820"/>
<polygon points="66.2,448.8 66.2,453.6 66.9,448.8" fill="#0a0ac8"/>
<polygon points="66.2,444.3 66.2,448.8 66.9,448.8 67.5,444.3" fill="#40f0f0"/>
<polygon points="66.2,438.9 66.2,444.3 67.5,444.3 68.2,438.9" fill="#10d890"/>
<polygon points="66.3,433.3 66.2,438.9 68.2,438.9 68.5,436.5 67.5,433.3" fill="#20d020"/>
<polygon points="66.3,429.4 66.3,433.3 67.5,433.3" fill="#f0e820"/>
<polygon points="64.9,432.6 64.6,435.9 65.3,433" fill="#20d020"/>
<polygon points="65.3,428.4 64.9,432.6 65.3,433 66.3,429.4" fill="#f0e820"/>
<polygon points="187.7,431.8 188.7,435.3 189.1,431.5" fill="#20d020"/>
<polygon points="186.7,428.4 187.7,431.8 189.1,431.5 189.4,427.9" fill="#f0e820"/>
<polygon points="185.3,426.2 185,427.4 186.7,428.4 186.8,427.1" fill="#f0e820"/>
<polygon points="186.7,421 185.3,426.2 186.8,427.1 187.3,421.3" fill="#e08830"/>
<polygon points="187.5,418.1 186.7,421 187.3,421.3 187.5,418.1" fill="#c8a8a0"/>
<polygon points="67.5,433.3 68.5,436.5 68.9,433.1" fill="#20d020"/>
<polygon points="66.3,429.4 67.5,433.3 68.9,433.1 69.3,429" fill="#f0e820"/>
<polygon points="65.4,427.8 65.3,428.4 66.3,429.4 66.3,428.7" fill="#f0e820"/>
<polygon points="66.2,422.5 65.4,427.8 66.3,428.7 66.6,422.9" fill="#e08830"/>
<polygon points="66.7,419.6 66.2,422.5 66.6,422.9 66.8,419.7" fill="#c8a8a0"/>
<polygon points="66.9,418.5 66.7,419.6 66.8,419.7" fill="#e0d4d4" stroke="#a09090" stroke-width="0.35"/>
<polygon points="186.8,427.1 186.7,428.4 189.4,427.9 189.2,426.7" fill="#f0e820"/>
<polygon points="187.3,421.3 186.8,427.1 189.2,426.7 188.2,421.2" fill="#e08830"/>
<polygon points="187.5,418.1 187.3,421.3 188.2,421.2 187.6,418.1" fill="#c8a8a0"/>
<polygon points="66.3,428.7 66.3,429.4 69.3,429 69.1,428.3" fill="#f0e820"/>
<polygon points="66.6,422.9 66.3,428.7 69.1,428.3 67.9,422.7" fill="#e08830"/>
<polygon points="66.8,419.7 66.6,422.9 67.9,422.7 67.1,419.7" fill="#c8a8a0"/>
<polygon points="66.9,418.5 66.8,419.7 67.1,419.7" fill="#e0d4d4" stroke="#a09090" stroke-width="0.35"/>
<polygon points="61.7,461.5 62.8,460.6 62,455.7 61.2,456.3" fill="#0a0ac8"/>
<polygon points="62,455.7 61.3,451.1 60.8,451.5 61.2,456.3" fill="#40f0f0"/>
<polygon points="61.3,451.1 60.4,445.6 60.2,445.7 60.8,451.5" fill="#10d890"/>
<polygon points="60.4,445.6 60,442.7 60.2,445.7" fill="#20d020"/>
<polygon points="52.8,456.4 52.5,461.1 53.4,462.4 53.4,457.3" fill="#0a0ac8"/>
<polygon points="53.1,451.9 52.8,456.4 53.4,457.3 53.5,452.5" fill="#40f0f0"/>
<polygon points="53.4,446.6 53.1,451.9 53.5,452.5 53.6,446.8" fill="#10d890"/>
<polygon points="53.6,443.8 53.4,446.6 53.6,446.8" fill="#20d020"/>
<polygon points="61.1,456.6 61.7,461.5 61.2,456.3" fill="#0a0ac8"/>
<polygon points="60.5,452 61.1,456.6 61.2,456.3 60.8,451.5" fill="#40f0f0"/>
<polygon points="59.8,446.5 60.5,452 60.8,451.5 60.2,445.7" fill="#10d890"/>
<polygon points="59.1,440.8 59.8,446.5 60.2,445.7 60,442.7 59.4,440.3" fill="#20d020"/>
<polygon points="58.5,436.4 59.1,440.8 59.4,440.3" fill="#f0e820"/>
<polygon points="59.8,457.5 60.6,462.4 61.7,461.5 60.6,456.8" fill="#0a0ac8"/>
<polygon points="59.1,452.9 59.8,457.5 60.6,456.8 59.6,452.5" fill="#40f0f0"/>
<polygon points="58.2,447.3 59.1,452.9 59.6,452.5 58.4,447.2" fill="#10d890"/>
<polygon points="57.7,444.4 58.2,447.3 58.4,447.2" fill="#20d020"/>
<polygon points="53.4,457.3 53.4,462.4 55.4,462.7 54.9,457.5" fill="#0a0ac8"/>
<polygon points="53.5,452.5 53.4,457.3 54.9,457.5 54.4,452.7" fill="#40f0f0"/>
<polygon points="53.6,446.8 53.5,452.5 54.4,452.7 53.9,446.8" fill="#10d890"/>
<polygon points="53.6,443.8 53.6,446.8 53.9,446.8" fill="#20d020"/>
<polygon points="57.5,457.9 57.5,463 60.6,462.4 59.8,457.5" fill="#0a0ac8"/>
<polygon points="57.6,453.2 57.5,457.9 59.8,457.5 59.1,452.9" fill="#40f0f0"/>
<polygon points="57.7,447.4 57.6,453.2 59.1,452.9 58.2,447.3" fill="#10d890"/>
<polygon points="57.7,444.4 57.7,447.4 58.2,447.3" fill="#20d020"/>
<polygon points="55.4,462.7 57.5,463 57.5,457.9 56,457.7" fill="#0a0ac8"/>
<polygon points="57.5,457.9 57.6,453.2 56.6,453 56,457.7" fill="#40f0f0"/>
<polygon points="57.6,453.2 57.7,447.4 57.3,447.4 56.6,453" fill="#10d890"/>
<polygon points="57.7,447.4 57.7,444.4 57.3,447.4" fill="#20d020"/>
<polygon points="60.6,456.8 61.7,461.5 61.1,456.6" fill="#0a0ac8"/>
<polygon points="59.6,452.5 60.6,456.8 61.1,456.6 60.5,452" fill="#40f0f0"/>
<polygon points="58.4,447.2 59.6,452.5 60.5,452 59.8,446.5" fill="#10d890"/>
<polygon points="58,441.3 57.7,444.4 58.4,447.2 59.8,446.5 59.1,440.8" fill="#20d020"/>
<polygon points="58.5,436.4 58,441.3 59.1,440.8" fill="#f0e820"/>
<polygon points="54.9,457.5 55.4,462.7 55.4,457.7" fill="#0a0ac8"/>
<polygon points="54.4,452.7 54.9,457.5 55.4,457.7 55.4,453" fill="#40f0f0"/>
<polygon points="53.9,446.8 54.4,452.7 55.4,453 55.3,447.3" fill="#10d890"/>
<polygon points="54.2,441.1 53.6,443.8 53.9,446.8 55.3,447.3 55.3,441.5" fill="#20d020"/>
<polygon points="55.3,436.9 54.2,441.1 55.3,441.5" fill="#f0e820"/>
<polygon points="55.4,457.7 55.4,462.7 56,457.7" fill="#0a0ac8"/>
<polygon points="55.4,453 55.4,457.7 56,457.7 56.6,453" fill="#40f0f0"/>
<polygon points="55.3,447.3 55.4,453 56.6,453 57.3,447.4" fill="#10d890"/>
<polygon points="55.3,441.5 55.3,447.3 57.3,447.4 57.7,444.4 56.8,441.5" fill="#20d020"/>
<polygon points="55.3,436.9 55.3,441.5 56.8,441.5" fill="#f0e820"/>
<polygon points="53.9,440.7 53.6,443.8 54.2,441.1" fill="#20d020"/>
<polygon points="54.4,435.8 53.9,440.7 54.2,441.1 55.3,436.9" fill="#f0e820"/>
<polygon points="56.8,441.5 57.7,444.4 58,441.3" fill="#20d020"/>
<polygon points="55.3,436.9 56.8,441.5 58,441.3 58.5,436.4" fill="#f0e820"/>
<polygon points="54.4,435.6 54.4,435.8 55.3,436.9 55.3,436.7" fill="#f0e820"/>
<polygon points="55.2,430.1 54.4,435.6 55.3,436.7 55.6,430.6" fill="#e08830"/>
<polygon points="55.6,427.1 55.2,430.1 55.6,430.6 55.8,427.3" fill="#c8a8a0"/>
<polygon points="55.9,425.2 55.6,427.1 55.8,427.3" fill="#e0d4d4" stroke="#a09090" stroke-width="0.35"/>
<polygon points="55.3,436.7 55.3,436.9 58.5,436.4 58.5,436.2" fill="#f0e820"/>
<polygon points="55.6,430.6 55.3,436.7 58.5,436.2 57.1,430.4" fill="#e08830"/>
<polygon points="55.8,427.3 55.6,430.6 57.1,430.4 56.4,427.2" fill="#c8a8a0"/>
<polygon points="55.9,425.2 55.8,427.3 56.4,427.2" fill="#e0d4d4" stroke="#a09090" stroke-width="0.35"/>
<polygon points="180.7,469.7 181.3,468.6 180.7,463.5 180.3,464.2" fill="#0a0ac8"/>
<polygon points="180.7,463.5 180.3,458.7 180,459.2 180.3,464.2" fill="#40f0f0"/>
<polygon points="180.3,458.7 179.7,453 179.6,453.1 180,459.2" fill="#10d890"/>
<polygon points="179.7,453 179.4,450.2 179.6,453.1" fill="#20d020"/>
<polygon points="171.4,464.3 170.6,469.2 172.4,470.6 172.7,465.3" fill="#0a0ac8"/>
<polygon points="172.2,459.7 171.4,464.3 172.7,465.3 173,460.3" fill="#40f0f0"/>
<polygon points="173,454.1 172.2,459.7 173,460.3 173.3,454.3" fill="#10d890"/>
<polygon points="173.5,451.4 173,454.1 173.3,454.3" fill="#20d020"/>
<polygon points="171.8,463.2 171.2,468.2 171.8,463.6" fill="#0a0ac8"/>
<polygon points="172.4,458.6 171.8,463.2 171.8,463.6 172.4,459.2" fill="#40f0f0"/>
<polygon points="173.1,453 172.4,458.6 172.4,459.2 173.1,453.9" fill="#10d890"/>
<polygon points="173.8,447.3 173.1,453 173.1,453.9 173.5,451.4 173.8,447.9" fill="#20d020"/>
<polygon points="174.3,443.1 173.8,447.3 173.8,447.9" fill="#f0e820"/>
<polygon points="179.6,465.5 180.1,470.7 180.7,469.7 180,464.8" fill="#0a0ac8"/>
<polygon points="179.1,460.7 179.6,465.5 180,464.8 179.4,460.3" fill="#40f0f0"/>
<polygon points="178.6,454.9 179.1,460.7 179.4,460.3 178.6,454.7" fill="#10d890"/>
<polygon points="178.3,452.1 178.6,454.9 178.6,454.7" fill="#20d020"/>
<polygon points="172.7,465.3 172.4,470.6 174.8,471 174.4,465.5" fill="#0a0ac8"/>
<polygon points="173,460.3 172.7,465.3 174.4,465.5 174.1,460.4" fill="#40f0f0"/>
<polygon points="173.3,454.3 173,460.3 174.1,460.4 173.7,454.3" fill="#10d890"/>
<polygon points="173.5,451.4 173.3,454.3 173.7,454.3" fill="#20d020"/>
<polygon points="177.5,466 177.2,471.4 180.1,470.7 179.6,465.5" fill="#0a0ac8"/>
<polygon points="177.8,461 177.5,466 179.6,465.5 179.1,460.7" fill="#40f0f0"/>
<polygon points="178.1,455 177.8,461 179.1,460.7 178.6,454.9" fill="#10d890"/>
<polygon points="178.3,452.1 178.1,455 178.6,454.9" fill="#20d020"/>
<polygon points="174.8,471 177.2,471.4 177.5,466 175.8,465.7" fill="#0a0ac8"/>
<polygon points="177.5,466 177.8,461 176.7,460.8 175.8,465.7" fill="#40f0f0"/>
<polygon points="177.8,461 178.1,455 177.8,454.9 176.7,460.8" fill="#10d890"/>
<polygon points="178.1,455 178.3,452.1 177.8,454.9" fill="#20d020"/>
<polygon points="180,464.8 180.7,469.7 180.4,464.6" fill="#0a0ac8"/>
<polygon points="179.4,460.3 180,464.8 180.4,464.6 180.1,459.8" fill="#40f0f0"/>
<polygon points="178.6,454.7 179.4,460.3 180.1,459.8 179.7,454" fill="#10d890"/>
<polygon points="178.6,448.5 178.3,452.1 178.6,454.7 179.7,454 179.3,448.1" fill="#20d020"/>
<polygon points="179.1,443.8 178.6,448.5 179.3,448.1" fill="#f0e820"/>
<polygon points="126.9,472.4 127.7,471.4 127,466.2 126.4,466.9" fill="#0a0ac8"/>
<polygon points="127,466.2 126.4,461.4 126,461.8 126.4,466.9" fill="#40f0f0"/>
<polygon points="126.4,461.4 125.6,455.6 125.5,455.7 126,461.8" fill="#10d890"/>
<polygon points="125.6,455.6 125.3,453.3 125.5,455.7" fill="#20d020"/>
<polygon points="174.4,465.5 174.8,471 175,465.7" fill="#0a0ac8"/>
<polygon points="174.1,460.4 174.4,465.5 175,465.7 175.3,460.8" fill="#40f0f0"/>
<polygon points="173.7,454.3 174.1,460.4 175.3,460.8 175.6,454.9" fill="#10d890"/>
<polygon points="174.6,448.4 173.5,451.4 173.7,454.3 175.6,454.9 175.9,448.8" fill="#20d020"/>
<polygon points="176.1,444.4 174.6,448.4 175.9,448.8" fill="#f0e820"/>
<polygon points="175,465.7 174.8,471 175.8,465.7" fill="#0a0ac8"/>
<polygon points="175.3,460.8 175,465.7 175.8,465.7 176.7,460.8" fill="#40f0f0"/>
<polygon points="175.6,454.9 175.3,460.8 176.7,460.8 177.8,454.9" fill="#10d890"/>
<polygon points="175.9,448.8 175.6,454.9 177.8,454.9 178.3,452.1 177.3,448.8" fill="#20d020"/>
<polygon points="176.1,444.4 175.9,448.8 177.3,448.8" fill="#f0e820"/>
<polygon points="173.8,447.9 173.5,451.4 174.6,448.4" fill="#20d020"/>
<polygon points="174.3,443.1 173.8,447.9 174.6,448.4 176.1,444.4" fill="#f0e820"/>
<polygon points="117.4,467 116.8,471.9 118.2,473.4 118.5,468" fill="#0a0ac8"/>
<polygon points="118,462.3 117.4,467 118.5,468 118.6,462.9" fill="#40f0f0"/>
<polygon points="118.7,456.7 118,462.3 118.6,462.9 118.9,456.9" fill="#10d890"/>
<polygon points="119,454.5 118.7,456.7 118.9,456.9" fill="#20d020"/>
<polygon points="177.3,448.8 178.3,452.1 178.6,448.5" fill="#20d020"/>
<polygon points="176.1,444.4 177.3,448.8 178.6,448.5 179.1,443.8" fill="#f0e820"/>
<polygon points="174.4,442.6 174.3,443.1 176.1,444.4 176.1,443.7" fill="#f0e820"/>
<polygon points="175.8,436.9 174.4,442.6 176.1,443.7 176.6,437.4" fill="#e08830"/>
<polygon points="176.6,433.7 175.8,436.9 176.6,437.4 176.9,433.8" fill="#c8a8a0"/>
<polygon points="177,432.3 176.6,433.7 176.9,433.8" fill="#e0d4d4" stroke="#a09090" stroke-width="0.35"/>
<polygon points="126.4,467.3 126.9,472.4 126.4,466.9" fill="#0a0ac8"/>
<polygon points="125.9,462.4 126.4,467.3 126.4,466.9 126,461.8" fill="#40f0f0"/>
<polygon points="125.3,456.6 125.9,462.4 126,461.8 125.5,455.7" fill="#10d890"/>
<polygon points="124.8,450.6 125.3,456.6 125.5,455.7 125.3,453.3 124.9,450.1" fill="#20d020"/>
<polygon points="124.4,447 124.8,450.6 124.9,450.1" fill="#f0e820"/>
<polygon points="125.3,468.3 126,473.5 126.9,472.4 125.9,467.5" fill="#0a0ac8"/>
<polygon points="124.7,463.4 125.3,468.3 125.9,467.5 125.1,463" fill="#40f0f0"/>
<polygon points="123.9,457.5 124.7,463.4 125.1,463 124,457.4" fill="#10d890"/>
<polygon points="123.6,455.2 123.9,457.5 124,457.4" fill="#20d020"/>
<polygon points="118.5,468 118.2,473.4 120.5,473.8 120.1,468.3" fill="#0a0ac8"/>
<polygon points="118.6,462.9 118.5,468 120.1,468.3 119.7,463.1" fill="#40f0f0"/>
<polygon points="118.9,456.9 118.6,462.9 119.7,463.1 119.2,456.9" fill="#10d890"/>
<polygon points="119,454.5 118.9,456.9 119.2,456.9" fill="#20d020"/>
<polygon points="176.1,443.7 176.1,444.4 179.1,443.8 179,443.2" fill="#f0e820"/>
<polygon points="176.6,437.4 176.1,443.7 179,443.2 177.9,437.1" fill="#e08830"/>
<polygon points="176.9,433.8 176.6,437.4 177.9,437.1 177.3,433.8" fill="#c8a8a0"/>
<polygon points="177,432.3 176.9,433.8 177.3,433.8" fill="#e0d4d4" stroke="#a09090" stroke-width="0.35"/>
<polygon points="123.1,468.7 122.9,474.2 126,473.5 125.3,468.3" fill="#0a0ac8"/>
<polygon points="123.3,463.7 123.1,468.7 125.3,468.3 124.7,463.4" fill="#40f0f0"/>
<polygon points="123.5,457.6 123.3,463.7 124.7,463.4 123.9,457.5" fill="#10d890"/>
<polygon points="123.6,455.2 123.5,457.6 123.9,457.5" fill="#20d020"/>
<polygon points="125.9,467.5 126.9,472.4 126.4,467.3" fill="#0a0ac8"/>
<polygon points="125.1,463 125.9,467.5 126.4,467.3 125.9,462.4" fill="#40f0f0"/>
<polygon points="124,457.4 125.1,463 125.9,462.4 125.3,456.6" fill="#10d890"/>
<polygon points="124,451 123.6,455.2 124,457.4 125.3,456.6 124.8,450.6" fill="#20d020"/>
<polygon points="124.4,447 124,451 124.8,450.6" fill="#f0e820"/>
<polygon points="120.5,473.8 122.9,474.2 123.1,468.7 121.4,468.5" fill="#0a0ac8"/>
<polygon points="123.1,468.7 123.3,463.7 122.2,463.5 121.4,468.5" fill="#40f0f0"/>
<polygon points="123.3,463.7 123.5,457.6 123.2,457.5 122.2,463.5" fill="#10d890"/>
<polygon points="123.5,457.6 123.6,455.2 123.2,457.5" fill="#20d020"/>
<polygon points="120.1,468.3 120.5,473.8 120.7,468.4" fill="#0a0ac8"/>
<polygon points="119.7,463.1 120.1,468.3 120.7,468.4 120.8,463.5" fill="#40f0f0"/>
<polygon points="119.2,456.9 119.7,463.1 120.8,463.5 121,457.5" fill="#10d890"/>
<polygon points="120.1,451 119,454.5 119.2,456.9 121,457.5 121.1,451.3" fill="#20d020"/>
<polygon points="121.2,447.6 120.1,451 121.1,451.3" fill="#f0e820"/>
<polygon points="119.4,450.4 119,454.5 120.1,451" fill="#20d020"/>
<polygon points="119.8,446.4 119.4,450.4 120.1,451 121.2,447.6" fill="#f0e820"/>
<polygon points="120.7,468.4 120.5,473.8 121.4,468.5" fill="#0a0ac8"/>
<polygon points="120.8,463.5 120.7,468.4 121.4,468.5 122.2,463.5" fill="#40f0f0"/>
<polygon points="121,457.5 120.8,463.5 122.2,463.5 123.2,457.5" fill="#10d890"/>
<polygon points="121.1,451.3 121,457.5 123.2,457.5 123.6,455.2 122.4,451.4" fill="#20d020"/>
<polygon points="121.2,447.6 121.1,451.3 122.4,451.4" fill="#f0e820"/>
<polygon points="122.4,451.4 123.6,455.2 124,451" fill="#20d020"/>
<polygon points="121.2,447.6 122.4,451.4 124,451 124.4,447" fill="#f0e820"/>
<polygon points="120.1,445.1 119.8,446.4 121.2,447.6 121.3,446.2" fill="#f0e820"/>
<polygon points="121.3,439.4 120.1,445.1 121.3,446.2 121.8,439.8" fill="#e08830"/>
<polygon points="121.9,436.2 121.3,439.4 121.8,439.8 122,436.2" fill="#c8a8a0"/>
<polygon points="121.3,446.2 121.2,447.6 124.4,447 124.1,445.7" fill="#f0e820"/>
<polygon points="121.8,439.8 121.3,446.2 124.1,445.7 122.8,439.6" fill="#e08830"/>
<polygon points="122,436.2 121.8,439.8 122.8,439.6 122.1,436.2" fill="#c8a8a0"/>
<polygon points="168.4,492.5 169,491.2 168.4,485.6 167.9,486.5" fill="#0a0ac8"/>
<polygon points="168.4,485.6 167.8,480.4 167.5,480.9 167.9,486.5" fill="#40f0f0"/>
<polygon points="167.8,480.4 167.1,474 167,474.1 167.5,480.9" fill="#10d890"/>
<polygon points="167.1,474 166.9,471.8 167,474.1" fill="#20d020"/>
<polygon points="158.1,486.5 157.2,491.9 159.1,493.6 159.4,487.7" fill="#0a0ac8"/>
<polygon points="158.8,481.5 158.1,486.5 159.4,487.7 159.7,482.2" fill="#40f0f0"/>
<polygon points="159.8,475.4 158.8,481.5 159.7,482.2 160,475.6" fill="#10d890"/>
<polygon points="160.1,473.2 159.8,475.4 160,475.6" fill="#20d020"/>
<polygon points="158.6,485.3 157.9,490.6 158.6,485.6" fill="#0a0ac8"/>
<polygon points="159.2,480.2 158.6,485.3 158.6,485.6 159.2,481" fill="#40f0f0"/>
<polygon points="159.9,474.1 159.2,480.2 159.2,481 159.9,475.3" fill="#10d890"/>
<polygon points="160.6,467.8 159.9,474.1 159.9,475.3 160.1,473.2 160.6,468.4" fill="#20d020"/>
<polygon points="161,464.3 160.6,467.8 160.6,468.4" fill="#f0e820"/>
<polygon points="167.9,486.9 168.4,492.5 167.9,486.5" fill="#0a0ac8"/>
<polygon points="167.6,481.6 167.9,486.9 167.9,486.5 167.5,480.9" fill="#40f0f0"/>
<polygon points="167.1,475.3 167.6,481.6 167.5,480.9 167,474.1" fill="#10d890"/>
<polygon points="166.6,468.8 167.1,475.3 167,474.1 166.9,471.8 166.6,468.2" fill="#20d020"/>
<polygon points="166.3,465.2 166.6,468.8 166.6,468.2" fill="#f0e820"/>
<polygon points="167,488.1 167.7,493.8 168.4,492.5 167.5,487.2" fill="#0a0ac8"/>
<polygon points="166.4,482.8 167,488.1 167.5,487.2 166.7,482.2" fill="#40f0f0"/>
<polygon points="165.7,476.4 166.4,482.8 166.7,482.2 165.8,476.2" fill="#10d890"/>
<polygon points="165.4,474.1 165.7,476.4 165.8,476.2" fill="#20d020"/>
<polygon points="159.4,487.7 159.1,493.6 161.7,494.1 161.2,488.1" fill="#0a0ac8"/>
<polygon points="159.7,482.2 159.4,487.7 161.2,488.1 160.8,482.4" fill="#40f0f0"/>
<polygon points="160,475.6 159.7,482.2 160.8,482.4 160.3,475.6" fill="#10d890"/>
<polygon points="160.1,473.2 160,475.6 160.3,475.6" fill="#20d020"/>
<polygon points="164.6,488.7 164.3,494.6 167.7,493.8 167,488.1" fill="#0a0ac8"/>
<polygon points="165,483.1 164.6,488.7 167,488.1 166.4,482.8" fill="#40f0f0"/>
<polygon points="165.3,476.4 165,483.1 166.4,482.8 165.7,476.4" fill="#10d890"/>
<polygon points="165.4,474.1 165.3,476.4 165.7,476.4" fill="#20d020"/>
<polygon points="167.5,487.2 168.4,492.5 167.9,486.9" fill="#0a0ac8"/>
<polygon points="166.7,482.2 167.5,487.2 167.9,486.9 167.6,481.6" fill="#40f0f0"/>
<polygon points="165.8,476.2 166.7,482.2 167.6,481.6 167.1,475.3" fill="#10d890"/>
<polygon points="165.9,469.2 165.4,474.1 165.8,476.2 167.1,475.3 166.6,468.8" fill="#20d020"/>
<polygon points="166.3,465.2 165.9,469.2 166.6,468.8" fill="#f0e820"/>
<polygon points="161.7,494.1 164.3,494.6 164.6,488.7 162.8,488.3" fill="#0a0ac8"/>
<polygon points="164.6,488.7 165,483.1 163.8,482.9 162.8,488.3" fill="#40f0f0"/>
<polygon points="165,483.1 165.3,476.4 165,476.4 163.8,482.9" fill="#10d890"/>
<polygon points="165.3,476.4 165.4,474.1 165,476.4" fill="#20d020"/>
<polygon points="161.2,488.1 161.7,494.1 161.9,488.3" fill="#0a0ac8"/>
<polygon points="160.8,482.4 161.2,488.1 161.9,488.3 162.2,482.9" fill="#40f0f0"/>
<polygon points="160.3,475.6 160.8,482.4 162.2,482.9 162.5,476.3" fill="#10d890"/>
<polygon points="161.7,469.2 160.1,473.2 160.3,475.6 162.5,476.3 162.8,469.6" fill="#20d020"/>
<polygon points="162.9,465.9 161.7,469.2 162.8,469.6" fill="#f0e820"/>
<polygon points="160.6,468.4 160.1,473.2 161.7,469.2" fill="#20d020"/>
<polygon points="161,464.3 160.6,468.4 161.7,469.2 162.9,465.9" fill="#f0e820"/>
<polygon points="161.9,488.3 161.7,494.1 162.8,488.3" fill="#0a0ac8"/>
<polygon points="162.2,482.9 161.9,488.3 162.8,488.3 163.8,482.9" fill="#40f0f0"/>
<polygon points="162.5,476.3 162.2,482.9 163.8,482.9 165,476.4" fill="#10d890"/>
<polygon points="162.8,469.6 162.5,476.3 165,476.4 165.4,474.1 164.1,469.6" fill="#20d020"/>
<polygon points="162.9,465.9 162.8,469.6 164.1,469.6" fill="#f0e820"/>
<polygon points="164.1,469.6 165.4,474.1 165.9,469.2" fill="#20d020"/>
<polygon points="162.9,465.9 164.1,469.6 165.9,469.2 166.3,465.2" fill="#f0e820"/>
<polygon points="161.4,462.7 161,464.3 162.9,465.9 163.1,464" fill="#f0e820"/>
<polygon points="163,456.4 161.4,462.7 163.1,464 163.6,456.9" fill="#e08830"/>
<polygon points="163.9,452.9 163,456.4 163.6,456.9" fill="#c8a8a0"/>
<polygon points="163.1,464 162.9,465.9 166.3,465.2 166,463.4" fill="#f0e820"/>
<polygon points="163.6,456.9 163.1,464 166,463.4 164.6,456.7" fill="#e08830"/>
<polygon points="163.9,452.9 163.6,456.9 164.6,456.7" fill="#c8a8a0"/>
<line x1="31.6" y1="590.9" x2="91.7" y2="545.8" stroke="#d2d2d2" stroke-width="0.55"/>
<line x1="91.7" y1="545.8" x2="204" y2="559.4" stroke="#d2d2d2" stroke-width="0.55"/>
<line x1="30.7" y1="577.4" x2="91.4" y2="535.1" stroke="#d2d2d2" stroke-width="0.55"/>
<line x1="91.4" y1="535.1" x2="204.5" y2="547.7" stroke="#d2d2d2" stroke-width="0.55"/>
<line x1="43.7" y1="595.1" x2="41.5" y2="556.2" stroke="#d2d2d2" stroke-width="0.55"/>
<line x1="55.2" y1="585.9" x2="53.3" y2="548.6" stroke="#d2d2d2" stroke-width="0.55"/>
<line x1="65.6" y1="577.5" x2="64" y2="541.7" stroke="#d2d2d2" stroke-width="0.55"/>
<line x1="75.1" y1="569.9" x2="73.9" y2="535.4" stroke="#d2d2d2" stroke-width="0.55"/>
<line x1="83.9" y1="562.8" x2="82.9" y2="529.6" stroke="#d2d2d2" stroke-width="0.55"/>
<line x1="107.6" y1="558.4" x2="107.1" y2="526" stroke="#d2d2d2" stroke-width="0.55"/>
<line x1="125.6" y1="560.7" x2="125.4" y2="527.8" stroke="#d2d2d2" stroke-width="0.55"/>
<line x1="144.1" y1="563.1" x2="144.3" y2="529.7" stroke="#d2d2d2" stroke-width="0.55"/>
<line x1="163.2" y1="565.6" x2="163.9" y2="531.7" stroke="#d2d2d2" stroke-width="0.55"/>
<line x1="183" y1="568.2" x2="184.1" y2="533.8" stroke="#d2d2d2" stroke-width="0.55"/>
<line x1="29.8" y1="563.7" x2="91.1" y2="524.3" stroke="#6e6e6e" stroke-width="0.55"/>
<line x1="91.1" y1="524.3" x2="205" y2="535.9" stroke="#6e6e6e" stroke-width="0.55"/>
<line x1="32.5" y1="604.2" x2="29.8" y2="563.7" stroke="#6e6e6e" stroke-width="0.55"/>
<line x1="92" y1="556.3" x2="91.1" y2="524.3" stroke="#8a8a8a" stroke-width="0.55"/>
<line x1="203.4" y1="570.9" x2="205" y2="535.9" stroke="#7a7a7a" stroke-width="0.55"/>
<polygon points="32.5,604.2 173.6,630.1 203.4,570.9 92,556.3" fill="#7a7af8"/>
<path d="M34.6 604.6L93.7 556.5M36.7 605L95.4 556.8M38.8 605.4L97.1 557M41 605.8L98.9 557.2M43.1 606.1L100.6 557.4M45.3 606.5L102.4 557.7M47.4 606.9L104.1 557.9M49.6 607.3L105.9 558.1M51.8 607.7L107.6 558.4M54 608.1L109.4 558.6M56.2 608.5L111.2 558.8M58.4 609L113 559.1M60.6 609.4L114.7 559.3M62.8 609.8L116.5 559.5M65.1 610.2L118.3 559.8M67.3 610.6L120.1 560M69.6 611L121.9 560.2M71.8 611.4L123.8 560.5M74.1 611.8L125.6 560.7M76.4 612.3L127.4 560.9M78.7 612.7L129.2 561.2M81 613.1L131.1 561.4M83.3 613.5L132.9 561.7M85.6 614L134.8 561.9M88 614.4L136.6 562.1M90.3 614.8L138.5 562.4M92.7 615.2L140.3 562.6M95 615.7L142.2 562.9M97.4 616.1L144.1 563.1M99.8 616.6L146 563.4M102.2 617L147.9 563.6M104.6 617.4L149.8 563.9M107 617.9L151.7 564.1M109.4 618.3L153.6 564.4M111.8 618.8L155.5 564.6M114.3 619.2L157.4 564.9M116.8 619.7L159.3 565.1M119.2 620.1L161.3 565.4M121.7 620.6L163.2 565.6M124.2 621L165.2 565.9M126.7 621.5L167.1 566.1M129.2 622L169.1 566.4M131.7 622.4L171 566.6M134.3 622.9L173 566.9M136.8 623.4L175 567.1M139.4 623.8L177 567.4M141.9 624.3L179 567.7M144.5 624.8L181 567.9M147.1 625.2L183 568.2M149.7 625.7L185 568.5M152.3 626.2L187 568.7M154.9 626.7L189.1 569M157.6 627.2L191.1 569.2M160.2 627.7L193.1 569.5M162.9 628.1L195.2 569.8M165.6 628.6L197.2 570M168.2 629.1L199.3 570.3M170.9 629.6L201.4 570.6M33.8 603.1L174.3 628.8M35.1 602.1L175 627.5M36.3 601.1L175.6 626.2M37.6 600.1L176.3 624.9M38.8 599.1L176.9 623.6M40.1 598.1L177.6 622.3M41.3 597.1L178.2 621.1M42.5 596.1L178.8 619.8M43.7 595.1L179.4 618.6M44.9 594.2L180 617.4M46.1 593.2L180.6 616.2M47.3 592.3L181.2 615M48.4 591.3L181.8 613.9M49.6 590.4L182.4 612.7M50.7 589.5L183 611.6M51.8 588.6L183.6 610.4M53 587.7L184.1 609.3M54.1 586.8L184.7 608.2M55.2 585.9L185.2 607.1M56.2 585.1L185.8 606M57.3 584.2L186.3 604.9M58.4 583.3L186.9 603.9M59.4 582.5L187.4 602.8M60.5 581.6L187.9 601.8M61.5 580.8L188.4 600.7M62.6 580L188.9 599.7M63.6 579.2L189.5 598.7M64.6 578.4L190 597.7M65.6 577.5L190.5 596.7M66.6 576.7L190.9 595.7M67.6 576L191.4 594.7M68.5 575.2L191.9 593.8M69.5 574.4L192.4 592.8M70.5 573.6L192.9 591.9M71.4 572.9L193.3 590.9M72.3 572.1L193.8 590M73.3 571.4L194.3 589.1M74.2 570.6L194.7 588.2M75.1 569.9L195.2 587.3M76 569.1L195.6 586.4M76.9 568.4L196.1 585.5M77.8 567.7L196.5 584.6M78.7 567L197 583.7M79.6 566.3L197.4 582.9M80.5 565.6L197.8 582M81.3 564.9L198.2 581.2M82.2 564.2L198.7 580.3M83 563.5L199.1 579.5M83.9 562.8L199.5 578.7M84.7 562.1L199.9 577.9M85.6 561.5L200.3 577.1M86.4 560.8L200.7 576.3M87.2 560.2L201.1 575.5M88 559.5L201.5 574.7M88.8 558.9L201.9 573.9M89.6 558.2L202.3 573.1M90.4 557.6L202.7 572.4M91.2 556.9L203.1 571.6" stroke="#1e1ea0" stroke-width="0.55" fill="none"/>
<polygon points="113.7,566.1 114.5,565.4 112.6,562.1" fill="#0a0ac8"/>
<polygon points="105.5,561.6 103.7,565.5 104.8,566.5 105.5,561.6" fill="#0a0ac8"/>
<polygon points="105.5,561.6 104.8,566.5 105.7,562.4" fill="#0a0ac8"/>
<polygon points="105.5,561.5 105.5,561.6 105.7,562.4 106.5,558.6" fill="#40f0f0"/>
<polygon points="113,566.8 113.7,566.1 113.2,561.8 112.6,562.3" fill="#0a0ac8"/>
<polygon points="113.2,561.8 112.7,557.8 112.3,558.1 112.6,562.3" fill="#40f0f0"/>
<polygon points="112.7,557.8 112,552.9 111.9,553 112.3,558.1" fill="#10d890"/>
<polygon points="112,552.9 111.7,550 111.9,553" fill="#20d020"/>
<polygon points="105.7,562.4 104.8,566.5 105.9,567.5 106.2,562.8" fill="#0a0ac8"/>
<polygon points="106.5,558.6 105.7,562.4 106.2,562.8" fill="#40f0f0"/>
<polygon points="105.9,557.6 105.5,561.5 106.5,558.6 106.5,558.5" fill="#40f0f0"/>
<polygon points="106.4,552.9 105.9,557.6 106.5,558.5 106.8,553.4" fill="#10d890"/>
<polygon points="106.9,548.1 106.4,552.9 106.8,553.4 107,548.2" fill="#20d020"/>
<polygon points="107.1,545.9 106.9,548.1 107,548.2" fill="#f0e820"/>
<polygon points="110.3,564.2 112.3,567.5 113,566.8" fill="#0a0ac8"/>
<polygon points="112.4,562.5 113,566.8 112.6,562.3" fill="#0a0ac8"/>
<polygon points="111.9,558.4 112.4,562.5 112.6,562.3 112.3,558.1" fill="#40f0f0"/>
<polygon points="111.3,553.5 111.9,558.4 112.3,558.1 111.9,553" fill="#10d890"/>
<polygon points="110.9,550.6 111.3,553.5 111.9,553 111.7,550" fill="#20d020"/>
<polygon points="106.2,562.8 105.9,567.5 107.8,567.7 107.1,562.9" fill="#0a0ac8"/>
<polygon points="106.5,558.6 106.2,562.8 107.1,562.9" fill="#40f0f0"/>
<polygon points="110.4,562.9 110.3,564.2 113,566.8 112.4,562.5" fill="#0a0ac8"/>
<polygon points="110.6,558.7 110.4,562.9 112.4,562.5 111.9,558.4" fill="#40f0f0"/>
<polygon points="110.8,553.6 110.6,558.7 111.9,558.4 111.3,553.5" fill="#10d890"/>
<polygon points="110.9,550.6 110.8,553.6 111.3,553.5" fill="#20d020"/>
<polygon points="110.3,564.2 109.6,568 112.3,567.5" fill="#0a0ac8"/>
<polygon points="107.8,567.7 109.6,568 110.3,564.2" fill="#0a0ac8"/>
<polygon points="107.1,562.9 107.8,567.7 108,563.2" fill="#0a0ac8"/>
<polygon points="106.6,558.5 106.5,558.6 107.1,562.9 108,563.2 108.1,559" fill="#40f0f0"/>
<polygon points="108.3,554.5 106.6,558.5 108.1,559" fill="#10d890"/>
<polygon points="108,563.2 107.8,567.7 110.3,564.2 110.1,563" fill="#0a0ac8"/>
<polygon points="108.1,559 108,563.2 110.1,563 109.2,558.9" fill="#40f0f0"/>
<polygon points="108.3,554.5 108.1,559 109.2,558.9" fill="#10d890"/>
<polygon points="110.9,550.6 111.7,550 111.1,547.9 110.6,548.3" fill="#20d020"/>
<polygon points="111.1,547.9 110.1,543.7 109.9,543.8 110.6,548.3" fill="#f0e820"/>
<polygon points="110.1,543.7 109.7,542.1 109.9,543.8" fill="#e08830"/>
<polygon points="106.8,553.4 106.5,558.5 106.6,558.5 108.3,554.5 108.2,553.9" fill="#10d890"/>
<polygon points="107,548.2 106.8,553.4 108.2,553.9 107.5,548.3" fill="#20d020"/>
<polygon points="107.1,545.9 107,548.2 107.5,548.3" fill="#f0e820"/>
<polygon points="110.1,563 110.3,564.2 110.4,562.9" fill="#0a0ac8"/>
<polygon points="109.2,558.9 110.1,563 110.4,562.9 110.6,558.7" fill="#40f0f0"/>
<polygon points="108.3,554.5 109.2,558.9 110.6,558.7 110.8,553.6 108.8,553.9" fill="#10d890"/>
<polygon points="110.8,553.6 110.9,550.6 108.8,553.9" fill="#20d020"/>
<polygon points="110.4,548.5 110.9,550.6 110.6,548.3" fill="#20d020"/>
<polygon points="109.3,544.3 110.4,548.5 110.6,548.3 109.9,543.8" fill="#f0e820"/>
<polygon points="108.9,542.8 109.3,544.3 109.9,543.8 109.7,542.1" fill="#e08830"/>
<polygon points="108.2,553.9 108.3,554.5 108.4,553.9" fill="#10d890"/>
<polygon points="107.5,548.3 108.2,553.9 108.4,553.9 108.6,548.6" fill="#20d020"/>
<polygon points="108.1,544.2 107.1,545.9 107.5,548.3 108.6,548.6 108.8,544.4" fill="#f0e820"/>
<polygon points="108.9,542.8 108.1,544.2 108.8,544.4" fill="#e08830"/>
<polygon points="108.4,553.9 108.3,554.5 108.8,553.9" fill="#10d890"/>
<polygon points="108.6,548.6 108.4,553.9 108.8,553.9 110.9,550.6 110.4,548.5" fill="#20d020"/>
<polygon points="108.8,544.4 108.6,548.6 110.4,548.5 109.3,544.3" fill="#f0e820"/>
<polygon points="108.9,542.8 108.8,544.4 109.3,544.3" fill="#e08830"/>
<polygon points="141.7,570.8 142.4,570 141.8,565.6 141.3,566.1" fill="#0a0ac8"/>
<polygon points="141.8,565.6 141.2,561.4 141,561.7 141.3,566.1" fill="#40f0f0"/>
<polygon points="141.2,561.4 140.6,556.5 140.5,556.5 141,561.7" fill="#10d890"/>
<polygon points="133.9,566.2 133.3,570.4 134.5,571.4 134.8,566.8" fill="#0a0ac8"/>
<polygon points="134.5,562.2 133.9,566.2 134.8,566.8 135,562.5" fill="#40f0f0"/>
<polygon points="135.2,557.3 134.5,562.2 135,562.5 135.2,557.4" fill="#10d890"/>
<polygon points="141.3,566.3 141.7,570.8 141.3,566.1" fill="#0a0ac8"/>
<polygon points="140.9,562.2 141.3,566.3 141.3,566.1 141,561.7" fill="#40f0f0"/>
<polygon points="140.5,557.2 140.9,562.2 141,561.7 140.5,556.5" fill="#10d890"/>
<polygon points="140,552.1 140.5,557.2 140.5,556.5 140.5,555.9 140,551.9" fill="#20d020"/>
<polygon points="140.5,567 141.1,571.5 141.7,570.8 140.9,566.5" fill="#0a0ac8"/>
<polygon points="139.9,562.9 140.5,567 140.9,566.5 140.2,562.6" fill="#40f0f0"/>
<polygon points="139.3,557.8 139.9,562.9 140.2,562.6 139.3,557.8" fill="#10d890"/>
<polygon points="134.8,566.8 134.5,571.4 136.5,571.7 136.1,567" fill="#0a0ac8"/>
<polygon points="135,562.5 134.8,566.8 136.1,567 135.7,562.6" fill="#40f0f0"/>
<polygon points="135.2,557.4 135,562.5 135.7,562.6 135.3,557.4" fill="#10d890"/>
<polygon points="140.9,566.5 141.7,570.8 141.3,566.3" fill="#0a0ac8"/>
<polygon points="140.2,562.6 140.9,566.5 141.3,566.3 140.9,562.2" fill="#40f0f0"/>
<polygon points="139.3,557.8 140.2,562.6 140.9,562.2 140.5,557.2" fill="#10d890"/>
<polygon points="139.7,552.2 139.2,557.3 139.3,557.8 140.5,557.2 140,552.1" fill="#20d020"/>
<polygon points="139.9,551 139.7,552.2 140,552.1" fill="#f0e820"/>
<polygon points="169.5,571.7 170,571.3 167.4,571.8" fill="#0a0ac8"/>
<polygon points="138.7,567.4 138.5,572 141.1,571.5 140.5,567" fill="#0a0ac8"/>
<polygon points="138.9,563.1 138.7,567.4 140.5,567 139.9,562.9" fill="#40f0f0"/>
<polygon points="139.2,557.9 138.9,563.1 139.9,562.9 139.3,557.8" fill="#10d890"/>
<polygon points="136.5,571.7 138.5,572 138.7,567.4 137.3,567.2" fill="#0a0ac8"/>
<polygon points="138.7,567.4 138.9,563.1 138.1,563 137.3,567.2" fill="#40f0f0"/>
<polygon points="138.9,563.1 139.2,557.9 139.1,557.8 138.1,563" fill="#10d890"/>
<polygon points="169.5,571.7 171.5,572.3 170,571.3" fill="#0a0ac8"/>
<polygon points="136.1,567 136.5,571.7 136.7,567.2" fill="#0a0ac8"/>
<polygon points="135.7,562.6 136.1,567 136.7,567.2 136.8,562.9" fill="#40f0f0"/>
<polygon points="135.3,557.4 135.7,562.6 136.8,562.9 137,557.8" fill="#10d890"/>
<polygon points="136.8,552.5 135.2,556.8 135.3,557.4 137,557.8 137.2,552.5" fill="#20d020"/>
<polygon points="137.2,551.4 136.8,552.5 137.2,552.5" fill="#f0e820"/>
<polygon points="135.8,551.7 135.2,556.8 136.8,552.5" fill="#20d020"/>
<polygon points="135.9,550.5 135.8,551.7 136.8,552.5 137.2,551.4" fill="#f0e820"/>
<polygon points="136.7,567.2 136.5,571.7 137.3,567.2" fill="#0a0ac8"/>
<polygon points="136.8,562.9 136.7,567.2 137.3,567.2 138.1,563" fill="#40f0f0"/>
<polygon points="137,557.8 136.8,562.9 138.1,563 139.1,557.8" fill="#10d890"/>
<polygon points="137.2,552.5 137,557.8 139.1,557.8 139.2,557.3 137.6,552.6" fill="#20d020"/>
<polygon points="137.2,551.4 137.2,552.5 137.6,552.6" fill="#f0e820"/>
<polygon points="136.6,547.5 135.9,550.5 137.2,551.4 137.5,548.1" fill="#f0e820"/>
<polygon points="137.8,542.6 136.6,547.5 137.5,548.1 137.9,542.6" fill="#e08830"/>
<polygon points="137.6,552.6 139.2,557.3 139.7,552.2" fill="#20d020"/>
<polygon points="137.2,551.4 137.6,552.6 139.7,552.2 139.9,551" fill="#f0e820"/>
<polygon points="137.5,548.1 137.2,551.4 139.9,551 139.2,547.8" fill="#f0e820"/>
<polygon points="137.9,542.6 137.5,548.1 139.2,547.8 138,542.6" fill="#e08830"/>
<polygon points="163.2,568.4 162.3,572.7 163.8,569.9 163.9,569.3" fill="#0a0ac8"/>
<polygon points="164.1,564.4 163.2,568.4 163.9,569.3 164.3,564.7" fill="#40f0f0"/>
<polygon points="164.5,562.3 164.1,564.4 164.3,564.7" fill="#10d890"/>
<polygon points="172.5,574.1 173,573.4 172,568.8 171.7,569.1" fill="#0a0ac8"/>
<polygon points="172,568.8 171.2,565.2 171.7,569.1" fill="#40f0f0"/>
<polygon points="163.8,569.9 161.7,573.5 163.2,574.6" fill="#0a0ac8"/>
<polygon points="163.8,569.9 163.2,574.6 165.3,574.8" fill="#0a0ac8"/>
<polygon points="164.3,564.7 163.9,569.3 163.9,569.4 164.6,565.3" fill="#40f0f0"/>
<polygon points="164.5,562.3 164.3,564.7 164.6,565.3 165.4,560.4 165.2,559.8" fill="#10d890"/>
<polygon points="165.4,560.4 166.2,555.9 165.2,559.8" fill="#20d020"/>
<polygon points="170.9,570.3 172,574.9 172.5,574.1 171.1,570" fill="#0a0ac8"/>
<polygon points="170.1,566.7 170.9,570.3 171.1,570" fill="#40f0f0"/>
<polygon points="163.9,569.4 163.8,569.9 165.3,574.8 165.5,570.2" fill="#0a0ac8"/>
<polygon points="164.6,565.3 163.9,569.4 165.5,570.2 165.7,565.8" fill="#40f0f0"/>
<polygon points="165.4,560.4 164.6,565.3 165.7,565.8 166,560.6" fill="#10d890"/>
<polygon points="166.2,555.9 165.4,560.4 166,560.6" fill="#20d020"/>
<polygon points="171.1,570 172.5,574.1 172,569.6" fill="#0a0ac8"/>
<polygon points="170.2,565.9 170.1,566.7 171.1,570 172,569.6 171.5,565.4" fill="#40f0f0"/>
<polygon points="170.7,560.4 170.2,565.9 171.5,565.4 171,560.3" fill="#10d890"/>
<polygon points="170.8,558.9 170.7,560.4 171,560.3" fill="#20d020"/>
<polygon points="167.3,574.8 165.3,574.8 166.8,575.9" fill="#0a0ac8"/>
<polygon points="169.8,570.5 169.4,575.4 172,574.9 170.9,570.3" fill="#0a0ac8"/>
<polygon points="170.1,566.7 169.8,570.5 170.9,570.3" fill="#40f0f0"/>
<polygon points="165.5,570.2 165.3,574.8 167.3,574.8 167.1,570.4" fill="#0a0ac8"/>
<polygon points="165.7,565.8 165.5,570.2 167.1,570.4 166.8,566" fill="#40f0f0"/>
<polygon points="166,560.6 165.7,565.8 166.8,566 166.5,560.7" fill="#10d890"/>
<polygon points="166.2,555.9 166,560.6 166.5,560.7" fill="#20d020"/>
<polygon points="167.3,574.8 169.4,575.4 169.8,570.5 168.8,570.4" fill="#0a0ac8"/>
<polygon points="169.8,570.5 170.1,566.7 168.8,570.4" fill="#40f0f0"/>
<polygon points="165.1,559.5 164.5,562.3 165.2,559.8" fill="#10d890"/>
<polygon points="166,554.5 165.1,559.5 165.2,559.8 166.2,555.9 166.3,555.2" fill="#20d020"/>
<polygon points="166.7,550.3 166,554.5 166.3,555.2 166.8,550.4" fill="#f0e820"/>
<polygon points="167.3,574.8 166.8,575.9 169.4,575.4" fill="#0a0ac8"/>
<polygon points="167.5,570.5 167.3,574.8 168.8,570.4" fill="#0a0ac8"/>
<polygon points="167.7,566.1 167.5,570.5 168.8,570.4 170.1,566.7 170,566" fill="#40f0f0"/>
<polygon points="168,560.9 167.7,566.1 170,566 169.2,560.8" fill="#10d890"/>
<polygon points="168.3,555.5 168,560.9 169.2,560.8 168.4,555.5" fill="#20d020"/>
<polygon points="168.3,555 168.3,555.5 168.4,555.5" fill="#f0e820"/>
<polygon points="170,566 170.1,566.7 170.2,565.9" fill="#40f0f0"/>
<polygon points="169.2,560.8 170,566 170.2,565.9 170.7,560.4" fill="#10d890"/>
<polygon points="168.4,555.5 169.2,560.8 170.7,560.4 170.8,558.9 168.6,555.5" fill="#20d020"/>
<polygon points="168.3,555 168.4,555.5 168.6,555.5" fill="#f0e820"/>
<polygon points="167.1,570.4 167.3,574.8 167.5,570.5" fill="#0a0ac8"/>
<polygon points="166.8,566 167.1,570.4 167.5,570.5 167.7,566.1" fill="#40f0f0"/>
<polygon points="166.5,560.7 166.8,566 167.7,566.1 168,560.9" fill="#10d890"/>
<polygon points="167.3,555.4 166.2,555.9 166.5,560.7 168,560.9 168.3,555.5" fill="#20d020"/>
<polygon points="168.3,555 167.3,555.4 168.3,555.5" fill="#f0e820"/>
<polygon points="168.6,555.5 170.8,558.9 170.1,555" fill="#20d020"/>
<polygon points="168.7,550.9 168.3,555 168.6,555.5 170.1,555 169.4,550.6" fill="#f0e820"/>
<polygon points="169,548.3 168.7,550.9 169.4,550.6" fill="#e08830"/>
<polygon points="166.3,555.2 166.2,555.9 167.3,555.4" fill="#20d020"/>
<polygon points="166.8,550.4 166.3,555.2 167.3,555.4 168.3,555 167.1,550.5" fill="#f0e820"/>
<polygon points="166.9,549.7 166.8,550.4 167.1,550.5" fill="#e08830"/>
<polygon points="167.1,550.5 168.3,555 168.7,550.9" fill="#f0e820"/>
<polygon points="169,548.3 166.9,549.7 167.1,550.5 168.7,550.9" fill="#e08830"/>
<polygon points="127.8,587.1 128.5,586.2 127.9,581.4 127.3,582" fill="#0a0ac8"/>
<polygon points="127.9,581.4 127.2,576.9 126.9,577.2 127.3,582" fill="#40f0f0"/>
<polygon points="127.2,576.9 126.5,571.5 126.4,571.5 126.9,577.2" fill="#10d890"/>
<polygon points="119.2,582.1 118.5,586.7 119.9,587.9 120.1,582.9" fill="#0a0ac8"/>
<polygon points="119.7,577.7 119.2,582.1 120.1,582.9 120.3,578.2" fill="#40f0f0"/>
<polygon points="120.4,572.5 119.7,577.7 120.3,578.2 120.5,572.6" fill="#10d890"/>
<polygon points="120.5,571.7 120.4,572.5 120.5,572.6" fill="#20d020"/>
<polygon points="127.3,582.3 127.8,587.1 127.3,582" fill="#0a0ac8"/>
<polygon points="126.8,577.8 127.3,582.3 127.3,582 126.9,577.2" fill="#40f0f0"/>
<polygon points="126.3,572.4 126.8,577.8 126.9,577.2 126.4,571.5" fill="#10d890"/>
<polygon points="125.7,566.8 126.3,572.4 126.4,571.5 126.4,570.6 125.8,566.6" fill="#20d020"/>
<polygon points="125.6,565.2 125.7,566.8 125.8,566.6" fill="#f0e820"/>
<polygon points="126.3,583.1 127,588 127.8,587.1 126.9,582.5" fill="#0a0ac8"/>
<polygon points="125.7,578.6 126.3,583.1 126.9,582.5 126,578.3" fill="#40f0f0"/>
<polygon points="124.9,573.1 125.7,578.6 126,578.3 125,573.1" fill="#10d890"/>
<polygon points="120.1,582.9 119.9,587.9 122,588.2 121.5,583.1" fill="#0a0ac8"/>
<polygon points="120.3,578.2 120.1,582.9 121.5,583.1 121.1,578.3" fill="#40f0f0"/>
<polygon points="120.5,572.6 120.3,578.2 121.1,578.3 120.6,572.6" fill="#10d890"/>
<polygon points="120.5,571.7 120.5,572.6 120.6,572.6" fill="#20d020"/>
<polygon points="126.9,582.5 127.8,587.1 127.3,582.3" fill="#0a0ac8"/>
<polygon points="126,578.3 126.9,582.5 127.3,582.3 126.8,577.8" fill="#40f0f0"/>
<polygon points="125,573.1 126,578.3 126.8,577.8 126.3,572.4" fill="#10d890"/>
<polygon points="125.4,567 124.8,572.3 125,573.1 126.3,572.4 125.7,566.8" fill="#20d020"/>
<polygon points="125.6,565.2 125.4,567 125.7,566.8" fill="#f0e820"/>
<polygon points="124.3,583.5 124.1,588.6 127,588 126.3,583.1" fill="#0a0ac8"/>
<polygon points="124.5,578.8 124.3,583.5 126.3,583.1 125.7,578.6" fill="#40f0f0"/>
<polygon points="124.8,573.2 124.5,578.8 125.7,578.6 124.9,573.1" fill="#10d890"/>
<polygon points="124.8,572.3 124.8,573.2 124.9,573.1" fill="#20d020"/>
<polygon points="122,588.2 124.1,588.6 124.3,583.5 122.8,583.3" fill="#0a0ac8"/>
<polygon points="124.3,583.5 124.5,578.8 123.7,578.7 122.8,583.3" fill="#40f0f0"/>
<polygon points="124.5,578.8 124.8,573.2 124.6,573.2 123.7,578.7" fill="#10d890"/>
<polygon points="124.8,573.2 124.8,572.3 124.6,573.2" fill="#20d020"/>
<polygon points="121.5,583.1 122,588.2 122.1,583.3" fill="#0a0ac8"/>
<polygon points="121.1,578.3 121.5,583.1 122.1,583.3 122.2,578.7" fill="#40f0f0"/>
<polygon points="120.6,572.6 121.1,578.3 122.2,578.7 122.4,573.1" fill="#10d890"/>
<polygon points="122.1,567.2 120.5,571.7 120.6,572.6 122.4,573.1 122.6,567.4" fill="#20d020"/>
<polygon points="122.6,565.8 122.1,567.2 122.6,567.4" fill="#f0e820"/>
<polygon points="121.1,566.4 120.5,571.7 122.1,567.2" fill="#20d020"/>
<polygon points="121.3,564.7 121.1,566.4 122.1,567.2 122.6,565.8" fill="#f0e820"/>
<polygon points="122.1,583.3 122,588.2 122.8,583.3" fill="#0a0ac8"/>
<polygon points="122.2,578.7 122.1,583.3 122.8,583.3 123.7,578.7" fill="#40f0f0"/>
<polygon points="122.4,573.1 122.2,578.7 123.7,578.7 124.6,573.2" fill="#10d890"/>
<polygon points="122.6,567.4 122.4,573.1 124.6,573.2 124.8,572.3 123.2,567.4" fill="#20d020"/>
<polygon points="122.6,565.8 122.6,567.4 123.2,567.4" fill="#f0e820"/>
<polygon points="121.9,561.8 121.3,564.7 122.6,565.8 122.9,562.6" fill="#f0e820"/>
<polygon points="123.2,556.5 121.9,561.8 122.9,562.6 123.3,556.6" fill="#e08830"/>
<polygon points="123.4,555.6 123.2,556.5 123.3,556.6" fill="#c8a8a0"/>
<polygon points="123.2,567.4 124.8,572.3 125.4,567" fill="#20d020"/>
<polygon points="122.6,565.8 123.2,567.4 125.4,567 125.6,565.2" fill="#f0e820"/>
<polygon points="122.9,562.6 122.6,565.8 125.6,565.2 124.9,562.2" fill="#f0e820"/>
<polygon points="123.3,556.6 122.9,562.6 124.9,562.2 123.6,556.5" fill="#e08830"/>
<polygon points="123.4,555.6 123.3,556.6 123.6,556.5" fill="#c8a8a0"/>
<polygon points="151.6,590.4 152.3,589.8 149.4,590.4" fill="#0a0ac8"/>
<polygon points="161.1,591.2 161.8,590.2 159.6,585.6" fill="#0a0ac8"/>
<polygon points="151.6,590.4 149.4,590.4 150.9,591.7" fill="#0a0ac8"/>
<polygon points="160.5,591.7 162.8,592.4 161.1,591.2" fill="#0a0ac8"/>
<polygon points="160.5,591.7 161.1,591.2 160.7,586.3 160.2,587" fill="#0a0ac8"/>
<polygon points="160.7,586.3 160.3,581.7 159.9,582.2 160.2,587" fill="#40f0f0"/>
<polygon points="160.3,581.7 159.7,576.1 159.6,576.4 159.9,582.2" fill="#10d890"/>
<polygon points="159.7,576.1 159.2,570.9 159.6,576.4" fill="#20d020"/>
<polygon points="152.1,586 151.6,590.4 152.5,586.6" fill="#0a0ac8"/>
<polygon points="152.7,581.6 152.1,586 152.5,586.6 153.3,583.3 153.3,582.6" fill="#40f0f0"/>
<polygon points="153.3,576.2 152.7,581.6 153.3,582.6 153.7,576.7" fill="#10d890"/>
<polygon points="154,570.7 153.3,576.2 153.7,576.7 154.1,570.7" fill="#20d020"/>
<polygon points="152.2,587 150.9,591.7 152.5,593 152.9,587.6" fill="#0a0ac8"/>
<polygon points="153.3,583.3 152.2,587 152.9,587.6" fill="#40f0f0"/>
<polygon points="160.5,591.7 159.9,593 162.8,592.4" fill="#0a0ac8"/>
<polygon points="158.7,588 159.9,593 160.5,591.7 159,587.6" fill="#0a0ac8"/>
<polygon points="157.8,584 158.7,588 159,587.6" fill="#40f0f0"/>
<polygon points="152.9,587.6 152.5,593 154.7,593.3 153.9,587.7" fill="#0a0ac8"/>
<polygon points="153.3,583.3 152.9,587.6 153.9,587.7" fill="#40f0f0"/>
<polygon points="160.1,587.2 160.5,591.7 160.2,587" fill="#0a0ac8"/>
<polygon points="159.7,582.6 160.1,587.2 160.2,587 159.9,582.2" fill="#40f0f0"/>
<polygon points="159.2,577 159.7,582.6 159.9,582.2 159.6,576.4" fill="#10d890"/>
<polygon points="158.7,571.3 159.2,577 159.6,576.4 159.2,570.9 159,570.7" fill="#20d020"/>
<polygon points="158.6,570.4 158.7,571.3 159,570.7" fill="#f0e820"/>
<polygon points="159,587.6 160.5,591.7 160.1,587.2" fill="#0a0ac8"/>
<polygon points="157.8,583.2 157.8,584 159,587.6 160.1,587.2 159.7,582.6" fill="#40f0f0"/>
<polygon points="158.2,577.4 157.8,583.2 159.7,582.6 159.2,577" fill="#10d890"/>
<polygon points="158.6,571.3 158.2,577.4 159.2,577 158.7,571.3" fill="#20d020"/>
<polygon points="158.6,570.4 158.6,571.3 158.7,571.3" fill="#f0e820"/>
<polygon points="157.4,588.3 157,593.7 159.9,593 158.7,588" fill="#0a0ac8"/>
<polygon points="157.8,584 157.4,588.3 158.7,588" fill="#40f0f0"/>
<polygon points="154.7,593.3 157,593.7 157.4,588.3 156.4,588.1" fill="#0a0ac8"/>
<polygon points="157.4,588.3 157.8,584 156.4,588.1" fill="#40f0f0"/>
<polygon points="153.9,587.7 154.7,593.3 155,588.2" fill="#0a0ac8"/>
<polygon points="153.5,582.7 153.3,583.3 153.9,587.7 155,588.2 155.2,583.4" fill="#40f0f0"/>
<polygon points="155.1,577.4 153.5,582.7 155.2,583.4 155.5,577.6" fill="#10d890"/>
<polygon points="155.6,575.8 155.1,577.4 155.5,577.6" fill="#20d020"/>
<polygon points="153.3,582.6 153.3,583.3 153.5,582.7" fill="#40f0f0"/>
<polygon points="153.7,576.7 153.3,582.6 153.5,582.7 155.1,577.4" fill="#10d890"/>
<polygon points="154.1,570.7 153.7,576.7 155.1,577.4 155.6,575.8 154.4,570.9" fill="#20d020"/>
<polygon points="154.1,569.8 154.1,570.7 154.4,570.9" fill="#f0e820"/>
<polygon points="155,588.2 154.7,593.3 156.4,588.1" fill="#0a0ac8"/>
<polygon points="155.2,583.4 155,588.2 156.4,588.1 157.8,584 157.6,583.3" fill="#40f0f0"/>
<polygon points="155.5,577.6 155.2,583.4 157.6,583.3 156.1,577.5" fill="#10d890"/>
<polygon points="155.6,575.8 155.5,577.6 156.1,577.5" fill="#20d020"/>
<polygon points="159,570.7 159.2,570.9 159.1,570.4" fill="#20d020"/>
<polygon points="158.6,570.4 159,570.7 159.1,570.4 157.4,565.6 157.4,565.8" fill="#f0e820"/>
<polygon points="157.4,565.6 157.1,564.6 157.4,565.8" fill="#e08830"/>
<polygon points="157.6,583.3 157.8,584 157.8,583.2" fill="#40f0f0"/>
<polygon points="156.1,577.5 157.6,583.3 157.8,583.2 158.2,577.4" fill="#10d890"/>
<polygon points="155.6,575.8 156.1,577.5 158.2,577.4 158.6,571.3 158.1,571.4" fill="#20d020"/>
<polygon points="158.6,571.3 158.6,570.4 158.1,571.4" fill="#f0e820"/>
<polygon points="154.4,570.9 155.6,575.8 155.9,571.5" fill="#20d020"/>
<polygon points="155.4,566.2 154.1,569.8 154.4,570.9 155.9,571.5 156.3,566.6" fill="#f0e820"/>
<polygon points="156.5,563.5 155.4,566.2 156.3,566.6" fill="#e08830"/>
<polygon points="157.4,566.5 158.6,570.4 157.4,565.8" fill="#f0e820"/>
<polygon points="156.5,563.5 157.4,566.5 157.4,565.8 157.1,564.6" fill="#e08830"/>
<polygon points="155.9,571.5 155.6,575.8 158.1,571.4" fill="#20d020"/>
<polygon points="156.3,566.6 155.9,571.5 158.1,571.4 158.6,570.4 157.4,566.5" fill="#f0e820"/>
<polygon points="156.5,563.5 156.3,566.6 157.4,566.5" fill="#e08830"/>
<line x1="265.9" y1="72.5" x2="325.8" y2="26.2" stroke="#d2d2d2" stroke-width="0.55"/>
<line x1="325.8" y1="26.2" x2="437.8" y2="40.2" stroke="#d2d2d2" stroke-width="0.55"/>
<line x1="265.4" y1="64.4" x2="325.6" y2="19.9" stroke="#d2d2d2" stroke-width="0.55"/>
<line x1="325.6" y1="19.9" x2="438.1" y2="33.3" stroke="#d2d2d2" stroke-width="0.55"/>
<line x1="264.9" y1="56.3" x2="325.5" y2="13.5" stroke="#d2d2d2" stroke-width="0.55"/>
<line x1="325.5" y1="13.5" x2="438.4" y2="26.3" stroke="#d2d2d2" stroke-width="0.55"/>
<line x1="264.3" y1="48.2" x2="325.3" y2="7" stroke="#d2d2d2" stroke-width="0.55"/>
<line x1="325.3" y1="7" x2="438.7" y2="19.2" stroke="#d2d2d2" stroke-width="0.55"/>
<line x1="281.8" y1="68.1" x2="279.7" y2="29.7" stroke="#d2d2d2" stroke-width="0.55"/>
<line x1="298.5" y1="54.6" x2="297" y2="18.6" stroke="#d2d2d2" stroke-width="0.55"/>
<line x1="313.1" y1="42.8" x2="312" y2="9" stroke="#d2d2d2" stroke-width="0.55"/>
<line x1="347.7" y1="35.4" x2="347.3" y2="2.8" stroke="#d2d2d2" stroke-width="0.55"/>
<line x1="376.1" y1="39.1" x2="376.3" y2="5.7" stroke="#d2d2d2" stroke-width="0.55"/>
<line x1="406" y1="43" x2="406.8" y2="8.8" stroke="#d2d2d2" stroke-width="0.55"/>
<line x1="263.8" y1="39.9" x2="325.1" y2="0.5" stroke="#6e6e6e" stroke-width="0.55"/>
<line x1="325.1" y1="0.5" x2="439" y2="12.1" stroke="#6e6e6e" stroke-width="0.55"/>
<line x1="266.5" y1="80.4" x2="263.8" y2="39.9" stroke="#6e6e6e" stroke-width="0.55"/>
<line x1="326" y1="32.5" x2="325.1" y2="0.5" stroke="#8a8a8a" stroke-width="0.55"/>
<line x1="437.4" y1="47.1" x2="439" y2="12.1" stroke="#7a7a7a" stroke-width="0.55"/>
<polygon points="266.5,80.4 407.6,106.3 437.4,47.1 326,32.5" fill="#0000ec"/>
<line x1="273" y1="81.6" x2="331.3" y2="33.2" stroke="#5a5aff" stroke-width="0.6"/>
<line x1="279.7" y1="82.8" x2="336.7" y2="33.9" stroke="#5a5aff" stroke-width="0.6"/>
<line x1="286.5" y1="84.1" x2="342.2" y2="34.6" stroke="#5a5aff" stroke-width="0.6"/>
<line x1="293.3" y1="85.3" x2="347.7" y2="35.4" stroke="#5a5aff" stroke-width="0.6"/>
<line x1="300.2" y1="86.6" x2="353.3" y2="36.1" stroke="#5a5aff" stroke-width="0.6"/>
<line x1="307.3" y1="87.9" x2="358.9" y2="36.8" stroke="#5a5aff" stroke-width="0.6"/>
<line x1="314.4" y1="89.2" x2="364.6" y2="37.6" stroke="#5a5aff" stroke-width="0.6"/>
<line x1="321.6" y1="90.5" x2="370.3" y2="38.3" stroke="#5a5aff" stroke-width="0.6"/>
<line x1="328.9" y1="91.9" x2="376.1" y2="39.1" stroke="#5a5aff" stroke-width="0.6"/>
<line x1="336.3" y1="93.2" x2="382" y2="39.8" stroke="#5a5aff" stroke-width="0.6"/>
<line x1="343.8" y1="94.6" x2="387.9" y2="40.6" stroke="#5a5aff" stroke-width="0.6"/>
<line x1="351.4" y1="96" x2="393.8" y2="41.4" stroke="#5a5aff" stroke-width="0.6"/>
<line x1="359.1" y1="97.4" x2="399.9" y2="42.2" stroke="#5a5aff" stroke-width="0.6"/>
<line x1="366.9" y1="98.8" x2="406" y2="43" stroke="#5a5aff" stroke-width="0.6"/>
<line x1="374.8" y1="100.3" x2="412.1" y2="43.8" stroke="#5a5aff" stroke-width="0.6"/>
<line x1="382.9" y1="101.8" x2="418.4" y2="44.6" stroke="#5a5aff" stroke-width="0.6"/>
<line x1="391" y1="103.3" x2="424.7" y2="45.4" stroke="#5a5aff" stroke-width="0.6"/>
<line x1="399.3" y1="104.8" x2="431" y2="46.2" stroke="#5a5aff" stroke-width="0.6"/>
<line x1="270.5" y1="77.2" x2="409.7" y2="102.2" stroke="#5a5aff" stroke-width="0.6"/>
<line x1="274.3" y1="74" x2="411.7" y2="98.3" stroke="#5a5aff" stroke-width="0.6"/>
<line x1="278.1" y1="71" x2="413.6" y2="94.4" stroke="#5a5aff" stroke-width="0.6"/>
<line x1="281.8" y1="68.1" x2="415.5" y2="90.7" stroke="#5a5aff" stroke-width="0.6"/>
<line x1="285.3" y1="65.2" x2="417.3" y2="87.2" stroke="#5a5aff" stroke-width="0.6"/>
<line x1="288.8" y1="62.5" x2="419" y2="83.7" stroke="#5a5aff" stroke-width="0.6"/>
<line x1="292.1" y1="59.8" x2="420.7" y2="80.3" stroke="#5a5aff" stroke-width="0.6"/>
<line x1="295.4" y1="57.1" x2="422.3" y2="77.1" stroke="#5a5aff" stroke-width="0.6"/>
<line x1="298.5" y1="54.6" x2="423.9" y2="73.9" stroke="#5a5aff" stroke-width="0.6"/>
<line x1="301.6" y1="52.1" x2="425.5" y2="70.9" stroke="#5a5aff" stroke-width="0.6"/>
<line x1="304.6" y1="49.7" x2="427" y2="67.9" stroke="#5a5aff" stroke-width="0.6"/>
<line x1="307.5" y1="47.4" x2="428.4" y2="65" stroke="#5a5aff" stroke-width="0.6"/>
<line x1="310.4" y1="45.1" x2="429.8" y2="62.3" stroke="#5a5aff" stroke-width="0.6"/>
<line x1="313.1" y1="42.8" x2="431.2" y2="59.5" stroke="#5a5aff" stroke-width="0.6"/>
<line x1="315.8" y1="40.7" x2="432.5" y2="56.9" stroke="#5a5aff" stroke-width="0.6"/>
<line x1="318.5" y1="38.6" x2="433.8" y2="54.3" stroke="#5a5aff" stroke-width="0.6"/>
<line x1="321" y1="36.5" x2="435" y2="51.8" stroke="#5a5aff" stroke-width="0.6"/>
<line x1="323.5" y1="34.5" x2="436.3" y2="49.4" stroke="#5a5aff" stroke-width="0.6"/>
<polygon points="301.5,66.1 300.9,71.3 304,75.5 304.3,69.6" fill="#0000f0"/>
<polygon points="302.3,60.1 301.5,66.1 304.3,69.6 304.6,62.9" fill="#40f0f0"/>
<polygon points="303,54.6 302.3,60.1 304.6,62.9 304.8,56.8" fill="#10d890"/>
<polygon points="303.9,48.4 303,54.6 304.8,56.8 305.1,49.8" fill="#20d020"/>
<polygon points="304.7,42.4 303.9,48.4 305.1,49.8 305.4,43.2" fill="#f0e820"/>
<polygon points="305.5,36 304.7,42.4 305.4,43.2 305.7,36.2" fill="#d08840"/>
<polygon points="305.9,33.2 305.5,36 305.7,36.2" fill="#a89098"/>
<polygon points="304.3,69.6 304,75.5 314,73.5 312.8,68" fill="#0000f0"/>
<polygon points="304.6,62.9 304.3,69.6 312.8,68 311.6,61.6" fill="#40f0f0"/>
<polygon points="304.8,56.8 304.6,62.9 311.6,61.6 310.4,55.8" fill="#10d890"/>
<polygon points="305.1,49.8 304.8,56.8 310.4,55.8 309.1,49.1" fill="#20d020"/>
<polygon points="305.4,43.2 305.1,49.8 309.1,49.1 307.8,42.8" fill="#f0e820"/>
<polygon points="305.7,36.2 305.4,43.2 307.8,42.8 306.4,36.1" fill="#d08840"/>
<polygon points="305.9,33.2 305.7,36.2 306.4,36.1" fill="#a89098"/>
<polygon points="335.1,71.6 334.2,77 338.2,81.4 338.6,75.4" fill="#0000f0"/>
<polygon points="336.1,65.5 335.1,71.6 338.6,75.4 338.9,68.4" fill="#40f0f0"/>
<polygon points="337,59.9 336.1,65.5 338.9,68.4 339.2,62.1" fill="#10d890"/>
<polygon points="338,53.4 337,59.9 339.2,62.1 339.6,54.9" fill="#20d020"/>
<polygon points="339,47.3 338,53.4 339.6,54.9 340,48.2" fill="#f0e820"/>
<polygon points="340,40.7 339,47.3 340,48.2 340.3,40.9" fill="#d08840"/>
<polygon points="340.5,37.8 340,40.7 340.3,40.9" fill="#a89098"/>
<polygon points="338.6,75.4 338.2,81.4 348.2,79.3 347.1,73.6" fill="#0000f0"/>
<polygon points="338.9,68.4 338.6,75.4 347.1,73.6 345.9,67.1" fill="#40f0f0"/>
<polygon points="339.2,62.1 338.9,68.4 345.9,67.1 344.8,61.1" fill="#10d890"/>
<polygon points="339.6,54.9 339.2,62.1 344.8,61.1 343.5,54.2" fill="#20d020"/>
<polygon points="340,48.2 339.6,54.9 343.5,54.2 342.3,47.7" fill="#f0e820"/>
<polygon points="340.3,40.9 340,48.2 342.3,47.7 341,40.8" fill="#d08840"/>
<polygon points="340.5,37.8 340.3,40.9 341,40.8" fill="#a89098"/>
<line x1="305.9" y1="33.2" x2="300.9" y2="71.3" stroke="rgba(255,255,255,0.35)" stroke-width="0.6"/>
<line x1="305.9" y1="33.2" x2="314" y2="73.5" stroke="rgba(255,255,255,0.35)" stroke-width="0.6"/>
<line x1="305.9" y1="33.2" x2="304" y2="75.5" stroke="rgba(255,255,255,0.35)" stroke-width="0.6"/>
<line x1="340.5" y1="37.8" x2="334.2" y2="77" stroke="rgba(255,255,255,0.35)" stroke-width="0.6"/>
<line x1="340.5" y1="37.8" x2="348.2" y2="79.3" stroke="rgba(255,255,255,0.35)" stroke-width="0.6"/>
<line x1="340.5" y1="37.8" x2="338.2" y2="81.4" stroke="rgba(255,255,255,0.35)" stroke-width="0.6"/>
<line x1="265.9" y1="203.4" x2="325.8" y2="157.2" stroke="#d2d2d2" stroke-width="0.55"/>
<line x1="325.8" y1="157.2" x2="437.8" y2="171.1" stroke="#d2d2d2" stroke-width="0.55"/>
<line x1="265.4" y1="195.4" x2="325.6" y2="150.8" stroke="#d2d2d2" stroke-width="0.55"/>
<line x1="325.6" y1="150.8" x2="438.1" y2="164.2" stroke="#d2d2d2" stroke-width="0.55"/>
<line x1="264.9" y1="187.3" x2="325.5" y2="144.4" stroke="#d2d2d2" stroke-width="0.55"/>
<line x1="325.5" y1="144.4" x2="438.4" y2="157.2" stroke="#d2d2d2" stroke-width="0.55"/>
<line x1="264.3" y1="179.1" x2="325.3" y2="138" stroke="#d2d2d2" stroke-width="0.55"/>
<line x1="325.3" y1="138" x2="438.7" y2="150.2" stroke="#d2d2d2" stroke-width="0.55"/>
<line x1="281.8" y1="199" x2="279.7" y2="160.7" stroke="#d2d2d2" stroke-width="0.55"/>
<line x1="298.5" y1="185.5" x2="297" y2="149.6" stroke="#d2d2d2" stroke-width="0.55"/>
<line x1="313.1" y1="173.8" x2="312" y2="139.9" stroke="#d2d2d2" stroke-width="0.55"/>
<line x1="347.7" y1="166.3" x2="347.3" y2="133.7" stroke="#d2d2d2" stroke-width="0.55"/>
<line x1="376.1" y1="170" x2="376.3" y2="136.7" stroke="#d2d2d2" stroke-width="0.55"/>
<line x1="406" y1="173.9" x2="406.8" y2="139.8" stroke="#d2d2d2" stroke-width="0.55"/>
<line x1="263.8" y1="170.8" x2="325.1" y2="131.5" stroke="#6e6e6e" stroke-width="0.55"/>
<line x1="325.1" y1="131.5" x2="439" y2="143" stroke="#6e6e6e" stroke-width="0.55"/>
<line x1="266.5" y1="211.3" x2="263.8" y2="170.8" stroke="#6e6e6e" stroke-width="0.55"/>
<line x1="326" y1="163.5" x2="325.1" y2="131.5" stroke="#8a8a8a" stroke-width="0.55"/>
<line x1="437.4" y1="178" x2="439" y2="143" stroke="#7a7a7a" stroke-width="0.55"/>
<polygon points="266.5,211.3 407.6,237.3 437.4,178 326,163.5" fill="#0000ec"/>
<line x1="273" y1="212.5" x2="331.3" y2="164.2" stroke="#5a5aff" stroke-width="0.6"/>
<line x1="279.7" y1="213.8" x2="336.7" y2="164.9" stroke="#5a5aff" stroke-width="0.6"/>
<line x1="286.5" y1="215" x2="342.2" y2="165.6" stroke="#5a5aff" stroke-width="0.6"/>
<line x1="293.3" y1="216.3" x2="347.7" y2="166.3" stroke="#5a5aff" stroke-width="0.6"/>
<line x1="300.2" y1="217.5" x2="353.3" y2="167" stroke="#5a5aff" stroke-width="0.6"/>
<line x1="307.3" y1="218.8" x2="358.9" y2="167.8" stroke="#5a5aff" stroke-width="0.6"/>
<line x1="314.4" y1="220.1" x2="364.6" y2="168.5" stroke="#5a5aff" stroke-width="0.6"/>
<line x1="321.6" y1="221.5" x2="370.3" y2="169.3" stroke="#5a5aff" stroke-width="0.6"/>
<line x1="328.9" y1="222.8" x2="376.1" y2="170" stroke="#5a5aff" stroke-width="0.6"/>
<line x1="336.3" y1="224.2" x2="382" y2="170.8" stroke="#5a5aff" stroke-width="0.6"/>
<line x1="343.8" y1="225.5" x2="387.9" y2="171.5" stroke="#5a5aff" stroke-width="0.6"/>
<line x1="351.4" y1="226.9" x2="393.8" y2="172.3" stroke="#5a5aff" stroke-width="0.6"/>
<line x1="359.1" y1="228.4" x2="399.9" y2="173.1" stroke="#5a5aff" stroke-width="0.6"/>
<line x1="366.9" y1="229.8" x2="406" y2="173.9" stroke="#5a5aff" stroke-width="0.6"/>
<line x1="374.8" y1="231.3" x2="412.1" y2="174.7" stroke="#5a5aff" stroke-width="0.6"/>
<line x1="382.9" y1="232.7" x2="418.4" y2="175.5" stroke="#5a5aff" stroke-width="0.6"/>
<line x1="391" y1="234.2" x2="424.7" y2="176.3" stroke="#5a5aff" stroke-width="0.6"/>
<line x1="399.3" y1="235.7" x2="431" y2="177.2" stroke="#5a5aff" stroke-width="0.6"/>
<line x1="270.5" y1="208.1" x2="409.7" y2="233.2" stroke="#5a5aff" stroke-width="0.6"/>
<line x1="274.3" y1="205" x2="411.7" y2="229.2" stroke="#5a5aff" stroke-width="0.6"/>
<line x1="278.1" y1="202" x2="413.6" y2="225.4" stroke="#5a5aff" stroke-width="0.6"/>
<line x1="281.8" y1="199" x2="415.5" y2="221.7" stroke="#5a5aff" stroke-width="0.6"/>
<line x1="285.3" y1="196.2" x2="417.3" y2="218.1" stroke="#5a5aff" stroke-width="0.6"/>
<line x1="288.8" y1="193.4" x2="419" y2="214.6" stroke="#5a5aff" stroke-width="0.6"/>
<line x1="292.1" y1="190.7" x2="420.7" y2="211.3" stroke="#5a5aff" stroke-width="0.6"/>
<line x1="295.4" y1="188.1" x2="422.3" y2="208" stroke="#5a5aff" stroke-width="0.6"/>
<line x1="298.5" y1="185.5" x2="423.9" y2="204.9" stroke="#5a5aff" stroke-width="0.6"/>
<line x1="301.6" y1="183.1" x2="425.5" y2="201.8" stroke="#5a5aff" stroke-width="0.6"/>
<line x1="304.6" y1="180.7" x2="427" y2="198.9" stroke="#5a5aff" stroke-width="0.6"/>
<line x1="307.5" y1="178.3" x2="428.4" y2="196" stroke="#5a5aff" stroke-width="0.6"/>
<line x1="310.4" y1="176" x2="429.8" y2="193.2" stroke="#5a5aff" stroke-width="0.6"/>
<line x1="313.1" y1="173.8" x2="431.2" y2="190.5" stroke="#5a5aff" stroke-width="0.6"/>
<line x1="315.8" y1="171.6" x2="432.5" y2="187.9" stroke="#5a5aff" stroke-width="0.6"/>
<line x1="318.5" y1="169.5" x2="433.8" y2="185.3" stroke="#5a5aff" stroke-width="0.6"/>
<line x1="321" y1="167.4" x2="435" y2="182.8" stroke="#5a5aff" stroke-width="0.6"/>
<line x1="323.5" y1="165.4" x2="436.3" y2="180.4" stroke="#5a5aff" stroke-width="0.6"/>
<polygon points="307.2,198.2 314,204.5 310.6,200.4" fill="#0000f0"/>
<polygon points="307.2,198.2 300.9,202.3 304,206.4" fill="#0000f0"/>
<polygon points="307.2,198.2 304,206.4 314,204.5" fill="#0000f0"/>
<polygon points="335.2,202.6 334.2,207.9 338.2,212.4 338.6,206.3" fill="#0000f0"/>
<polygon points="336.3,196.5 335.2,202.6 338.6,206.3 339,199.3" fill="#40f0f0"/>
<polygon points="337.3,190.9 336.3,196.5 339,199.3 339.4,192.9" fill="#10d890"/>
<polygon points="338.5,184.4 337.3,190.9 339.4,192.9 339.8,185.7" fill="#20d020"/>
<polygon points="339.6,178.3 338.5,184.4 339.8,185.7 340.2,178.9" fill="#f0e820"/>
<polygon points="340.6,172.7 339.6,178.3 340.2,178.9" fill="#d08840"/>
<polygon points="338.6,206.3 338.2,212.4 348.2,210.3 347,204.6" fill="#0000f0"/>
<polygon points="339,199.3 338.6,206.3 347,204.6 345.7,198" fill="#40f0f0"/>
<polygon points="339.4,192.9 339,199.3 345.7,198 344.5,192" fill="#10d890"/>
<polygon points="339.8,185.7 339.4,192.9 344.5,192 343.1,185.1" fill="#20d020"/>
<polygon points="340.2,178.9 339.8,185.7 343.1,185.1 341.8,178.6" fill="#f0e820"/>
<polygon points="340.6,172.7 340.2,178.9 341.8,178.6" fill="#d08840"/>
<line x1="340.6" y1="172.7" x2="334.2" y2="207.9" stroke="rgba(255,255,255,0.35)" stroke-width="0.6"/>
<line x1="340.6" y1="172.7" x2="348.2" y2="210.3" stroke="rgba(255,255,255,0.35)" stroke-width="0.6"/>
<line x1="340.6" y1="172.7" x2="338.2" y2="212.4" stroke="rgba(255,255,255,0.35)" stroke-width="0.6"/>
<line x1="307.2" y1="198.2" x2="300.9" y2="202.3" stroke="#6a6aff" stroke-width="0.6"/>
<line x1="307.2" y1="198.2" x2="314" y2="204.5" stroke="#6a6aff" stroke-width="0.6"/>
<line x1="307.2" y1="198.2" x2="304" y2="206.4" stroke="#6a6aff" stroke-width="0.6"/>
<line x1="307.2" y1="198.2" x2="310.6" y2="200.4" stroke="#6a6aff" stroke-width="0.6"/>
<line x1="267.1" y1="333.5" x2="324.5" y2="290" stroke="#d2d2d2" stroke-width="0.55"/>
<line x1="324.5" y1="290" x2="441.6" y2="303.9" stroke="#d2d2d2" stroke-width="0.55"/>
<line x1="266.8" y1="325.4" x2="324.4" y2="283.2" stroke="#d2d2d2" stroke-width="0.55"/>
<line x1="324.4" y1="283.2" x2="441.8" y2="296.6" stroke="#d2d2d2" stroke-width="0.55"/>
<line x1="266.5" y1="317.3" x2="324.2" y2="276.4" stroke="#d2d2d2" stroke-width="0.55"/>
<line x1="324.2" y1="276.4" x2="442.1" y2="289.3" stroke="#d2d2d2" stroke-width="0.55"/>
<line x1="266.2" y1="309" x2="324.1" y2="269.5" stroke="#d2d2d2" stroke-width="0.55"/>
<line x1="324.1" y1="269.5" x2="442.3" y2="281.9" stroke="#d2d2d2" stroke-width="0.55"/>
<line x1="281.4" y1="330.6" x2="280.1" y2="291.4" stroke="#d2d2d2" stroke-width="0.55"/>
<line x1="297.3" y1="318.2" x2="296.3" y2="280.8" stroke="#d2d2d2" stroke-width="0.55"/>
<line x1="311.6" y1="306.9" x2="310.8" y2="271.3" stroke="#d2d2d2" stroke-width="0.55"/>
<line x1="347.8" y1="299.6" x2="347.5" y2="265" stroke="#d2d2d2" stroke-width="0.55"/>
<line x1="377.8" y1="303.3" x2="377.9" y2="268" stroke="#d2d2d2" stroke-width="0.55"/>
<line x1="409" y1="307.1" x2="409.6" y2="271.2" stroke="#d2d2d2" stroke-width="0.55"/>
<line x1="265.8" y1="300.7" x2="324" y2="262.6" stroke="#6e6e6e" stroke-width="0.55"/>
<line x1="324" y1="262.6" x2="442.5" y2="274.5" stroke="#6e6e6e" stroke-width="0.55"/>
<line x1="267.5" y1="341.6" x2="265.8" y2="300.7" stroke="#6e6e6e" stroke-width="0.55"/>
<line x1="324.6" y1="296.7" x2="324" y2="262.6" stroke="#8a8a8a" stroke-width="0.55"/>
<line x1="441.4" y1="311.1" x2="442.5" y2="274.5" stroke="#7a7a7a" stroke-width="0.55"/>
<polygon points="267.5,341.6 406.4,363.6 441.4,311.1 324.6,296.7" fill="#0000ec"/>
<line x1="274.2" y1="342.7" x2="330.3" y2="297.4" stroke="#5a5aff" stroke-width="0.6"/>
<line x1="280.9" y1="343.7" x2="336.1" y2="298.2" stroke="#5a5aff" stroke-width="0.6"/>
<line x1="287.8" y1="344.8" x2="341.9" y2="298.9" stroke="#5a5aff" stroke-width="0.6"/>
<line x1="294.7" y1="345.9" x2="347.8" y2="299.6" stroke="#5a5aff" stroke-width="0.6"/>
<line x1="301.6" y1="347" x2="353.7" y2="300.3" stroke="#5a5aff" stroke-width="0.6"/>
<line x1="308.7" y1="348.1" x2="359.6" y2="301.1" stroke="#5a5aff" stroke-width="0.6"/>
<line x1="315.8" y1="349.3" x2="365.6" y2="301.8" stroke="#5a5aff" stroke-width="0.6"/>
<line x1="322.9" y1="350.4" x2="371.7" y2="302.5" stroke="#5a5aff" stroke-width="0.6"/>
<line x1="330.1" y1="351.5" x2="377.8" y2="303.3" stroke="#5a5aff" stroke-width="0.6"/>
<line x1="337.4" y1="352.7" x2="383.9" y2="304" stroke="#5a5aff" stroke-width="0.6"/>
<line x1="344.8" y1="353.9" x2="390.1" y2="304.8" stroke="#5a5aff" stroke-width="0.6"/>
<line x1="352.2" y1="355.1" x2="396.3" y2="305.6" stroke="#5a5aff" stroke-width="0.6"/>
<line x1="359.8" y1="356.2" x2="402.6" y2="306.3" stroke="#5a5aff" stroke-width="0.6"/>
<line x1="367.3" y1="357.4" x2="409" y2="307.1" stroke="#5a5aff" stroke-width="0.6"/>
<line x1="375" y1="358.7" x2="415.4" y2="307.9" stroke="#5a5aff" stroke-width="0.6"/>
<line x1="382.7" y1="359.9" x2="421.8" y2="308.7" stroke="#5a5aff" stroke-width="0.6"/>
<line x1="390.5" y1="361.1" x2="428.3" y2="309.5" stroke="#5a5aff" stroke-width="0.6"/>
<line x1="398.4" y1="362.4" x2="434.8" y2="310.3" stroke="#5a5aff" stroke-width="0.6"/>
<line x1="271.1" y1="338.8" x2="408.6" y2="360.3" stroke="#5a5aff" stroke-width="0.6"/>
<line x1="274.6" y1="336" x2="410.8" y2="357" stroke="#5a5aff" stroke-width="0.6"/>
<line x1="278.1" y1="333.3" x2="413" y2="353.8" stroke="#5a5aff" stroke-width="0.6"/>
<line x1="281.4" y1="330.6" x2="415.1" y2="350.6" stroke="#5a5aff" stroke-width="0.6"/>
<line x1="284.8" y1="328" x2="417.1" y2="347.6" stroke="#5a5aff" stroke-width="0.6"/>
<line x1="288" y1="325.5" x2="419.1" y2="344.6" stroke="#5a5aff" stroke-width="0.6"/>
<line x1="291.2" y1="323" x2="421.1" y2="341.6" stroke="#5a5aff" stroke-width="0.6"/>
<line x1="294.3" y1="320.6" x2="423" y2="338.8" stroke="#5a5aff" stroke-width="0.6"/>
<line x1="297.3" y1="318.2" x2="424.8" y2="336" stroke="#5a5aff" stroke-width="0.6"/>
<line x1="300.3" y1="315.8" x2="426.7" y2="333.3" stroke="#5a5aff" stroke-width="0.6"/>
<line x1="303.2" y1="313.5" x2="428.4" y2="330.6" stroke="#5a5aff" stroke-width="0.6"/>
<line x1="306.1" y1="311.3" x2="430.2" y2="328" stroke="#5a5aff" stroke-width="0.6"/>
<line x1="308.9" y1="309.1" x2="431.9" y2="325.4" stroke="#5a5aff" stroke-width="0.6"/>
<line x1="311.6" y1="306.9" x2="433.6" y2="322.9" stroke="#5a5aff" stroke-width="0.6"/>
<line x1="314.3" y1="304.8" x2="435.2" y2="320.4" stroke="#5a5aff" stroke-width="0.6"/>
<line x1="316.9" y1="302.7" x2="436.8" y2="318" stroke="#5a5aff" stroke-width="0.6"/>
<line x1="319.5" y1="300.7" x2="438.4" y2="315.7" stroke="#5a5aff" stroke-width="0.6"/>
<line x1="322.1" y1="298.7" x2="439.9" y2="313.4" stroke="#5a5aff" stroke-width="0.6"/>
<polygon points="301.9,328.2 301.1,333.6 304.6,337.3 304.9,331.3" fill="#0000f0"/>
<polygon points="302.8,322.1 301.9,328.2 304.9,331.3 305.2,324.5" fill="#40f0f0"/>
<polygon points="303.7,316.5 302.8,322.1 305.2,324.5 305.6,318.3" fill="#10d890"/>
<polygon points="304.6,310 303.7,316.5 305.6,318.3 306,311.3" fill="#20d020"/>
<polygon points="305.6,304 304.6,310 306,311.3 306.3,304.7" fill="#f0e820"/>
<polygon points="306.5,297.5 305.6,304 306.3,304.7 306.7,297.6" fill="#d08840"/>
<polygon points="306.8,295.9 306.5,297.5 306.7,297.6" fill="#a89098"/>
<polygon points="304.9,331.3 304.6,337.3 314.4,335.6 313.3,329.9" fill="#0000f0"/>
<polygon points="305.2,324.5 304.9,331.3 313.3,329.9 312.1,323.4" fill="#40f0f0"/>
<polygon points="305.6,318.3 305.2,324.5 312.1,323.4 310.9,317.5" fill="#10d890"/>
<polygon points="306,311.3 305.6,318.3 310.9,317.5 309.6,310.7" fill="#20d020"/>
<polygon points="306.3,304.7 306,311.3 309.6,310.7 308.4,304.3" fill="#f0e820"/>
<polygon points="306.7,297.6 306.3,304.7 308.4,304.3 307.1,297.5" fill="#d08840"/>
<polygon points="306.8,295.9 306.7,297.6 307.1,297.5" fill="#a89098"/>
<polygon points="341.8,334.2 334.9,338.6 339,342.5" fill="#0000f0"/>
<polygon points="341.8,334.2 339,342.5 348.9,340.7" fill="#0000f0"/>
<line x1="306.8" y1="295.9" x2="301.1" y2="333.6" stroke="rgba(255,255,255,0.35)" stroke-width="0.6"/>
<line x1="306.8" y1="295.9" x2="314.4" y2="335.6" stroke="rgba(255,255,255,0.35)" stroke-width="0.6"/>
<line x1="306.8" y1="295.9" x2="304.6" y2="337.3" stroke="rgba(255,255,255,0.35)" stroke-width="0.6"/>
<line x1="341.8" y1="334.2" x2="334.9" y2="338.6" stroke="#6a6aff" stroke-width="0.6"/>
<line x1="341.8" y1="334.2" x2="348.9" y2="340.7" stroke="#6a6aff" stroke-width="0.6"/>
<line x1="341.8" y1="334.2" x2="339" y2="342.5" stroke="#6a6aff" stroke-width="0.6"/>
<line x1="341.8" y1="334.2" x2="344.6" y2="336.9" stroke="#6a6aff" stroke-width="0.6"/>
<line x1="265.9" y1="465.3" x2="325.8" y2="419.1" stroke="#d2d2d2" stroke-width="0.55"/>
<line x1="325.8" y1="419.1" x2="437.8" y2="433" stroke="#d2d2d2" stroke-width="0.55"/>
<line x1="265.4" y1="457.3" x2="325.6" y2="412.7" stroke="#d2d2d2" stroke-width="0.55"/>
<line x1="325.6" y1="412.7" x2="438.1" y2="426.1" stroke="#d2d2d2" stroke-width="0.55"/>
<line x1="264.9" y1="449.2" x2="325.5" y2="406.3" stroke="#d2d2d2" stroke-width="0.55"/>
<line x1="325.5" y1="406.3" x2="438.4" y2="419.1" stroke="#d2d2d2" stroke-width="0.55"/>
<line x1="264.3" y1="441" x2="325.3" y2="399.9" stroke="#d2d2d2" stroke-width="0.55"/>
<line x1="325.3" y1="399.9" x2="438.7" y2="412.1" stroke="#d2d2d2" stroke-width="0.55"/>
<line x1="281.8" y1="460.9" x2="279.7" y2="422.6" stroke="#d2d2d2" stroke-width="0.55"/>
<line x1="298.5" y1="447.4" x2="297" y2="411.5" stroke="#d2d2d2" stroke-width="0.55"/>
<line x1="313.1" y1="435.7" x2="312" y2="401.8" stroke="#d2d2d2" stroke-width="0.55"/>
<line x1="347.7" y1="428.2" x2="347.3" y2="395.6" stroke="#d2d2d2" stroke-width="0.55"/>
<line x1="376.1" y1="431.9" x2="376.3" y2="398.6" stroke="#d2d2d2" stroke-width="0.55"/>
<line x1="406" y1="435.8" x2="406.8" y2="401.7" stroke="#d2d2d2" stroke-width="0.55"/>
<line x1="263.8" y1="432.7" x2="325.1" y2="393.4" stroke="#6e6e6e" stroke-width="0.55"/>
<line x1="325.1" y1="393.4" x2="439" y2="404.9" stroke="#6e6e6e" stroke-width="0.55"/>
<line x1="266.5" y1="473.2" x2="263.8" y2="432.7" stroke="#6e6e6e" stroke-width="0.55"/>
<line x1="326" y1="425.4" x2="325.1" y2="393.4" stroke="#8a8a8a" stroke-width="0.55"/>
<line x1="437.4" y1="439.9" x2="439" y2="404.9" stroke="#7a7a7a" stroke-width="0.55"/>
<polygon points="266.5,473.2 407.6,499.2 437.4,439.9 326,425.4" fill="#0000ec"/>
<line x1="273" y1="474.4" x2="331.3" y2="426.1" stroke="#5a5aff" stroke-width="0.6"/>
<line x1="279.7" y1="475.7" x2="336.7" y2="426.8" stroke="#5a5aff" stroke-width="0.6"/>
<line x1="286.5" y1="476.9" x2="342.2" y2="427.5" stroke="#5a5aff" stroke-width="0.6"/>
<line x1="293.3" y1="478.2" x2="347.7" y2="428.2" stroke="#5a5aff" stroke-width="0.6"/>
<line x1="300.2" y1="479.4" x2="353.3" y2="428.9" stroke="#5a5aff" stroke-width="0.6"/>
<line x1="307.3" y1="480.7" x2="358.9" y2="429.7" stroke="#5a5aff" stroke-width="0.6"/>
<line x1="314.4" y1="482" x2="364.6" y2="430.4" stroke="#5a5aff" stroke-width="0.6"/>
<line x1="321.6" y1="483.4" x2="370.3" y2="431.2" stroke="#5a5aff" stroke-width="0.6"/>
<line x1="328.9" y1="484.7" x2="376.1" y2="431.9" stroke="#5a5aff" stroke-width="0.6"/>
<line x1="336.3" y1="486.1" x2="382" y2="432.7" stroke="#5a5aff" stroke-width="0.6"/>
<line x1="343.8" y1="487.4" x2="387.9" y2="433.4" stroke="#5a5aff" stroke-width="0.6"/>
<line x1="351.4" y1="488.8" x2="393.8" y2="434.2" stroke="#5a5aff" stroke-width="0.6"/>
<line x1="359.1" y1="490.3" x2="399.9" y2="435" stroke="#5a5aff" stroke-width="0.6"/>
<line x1="366.9" y1="491.7" x2="406" y2="435.8" stroke="#5a5aff" stroke-width="0.6"/>
<line x1="374.8" y1="493.2" x2="412.1" y2="436.6" stroke="#5a5aff" stroke-width="0.6"/>
<line x1="382.9" y1="494.6" x2="418.4" y2="437.4" stroke="#5a5aff" stroke-width="0.6"/>
<line x1="391" y1="496.1" x2="424.7" y2="438.2" stroke="#5a5aff" stroke-width="0.6"/>
<line x1="399.3" y1="497.6" x2="431" y2="439.1" stroke="#5a5aff" stroke-width="0.6"/>
<line x1="270.5" y1="470" x2="409.7" y2="495.1" stroke="#5a5aff" stroke-width="0.6"/>
<line x1="274.3" y1="466.9" x2="411.7" y2="491.1" stroke="#5a5aff" stroke-width="0.6"/>
<line x1="278.1" y1="463.9" x2="413.6" y2="487.3" stroke="#5a5aff" stroke-width="0.6"/>
<line x1="281.8" y1="460.9" x2="415.5" y2="483.6" stroke="#5a5aff" stroke-width="0.6"/>
<line x1="285.3" y1="458.1" x2="417.3" y2="480" stroke="#5a5aff" stroke-width="0.6"/>
<line x1="288.8" y1="455.3" x2="419" y2="476.5" stroke="#5a5aff" stroke-width="0.6"/>
<line x1="292.1" y1="452.6" x2="420.7" y2="473.2" stroke="#5a5aff" stroke-width="0.6"/>
<line x1="295.4" y1="450" x2="422.3" y2="469.9" stroke="#5a5aff" stroke-width="0.6"/>
<line x1="298.5" y1="447.4" x2="423.9" y2="466.8" stroke="#5a5aff" stroke-width="0.6"/>
<line x1="301.6" y1="445" x2="425.5" y2="463.7" stroke="#5a5aff" stroke-width="0.6"/>
<line x1="304.6" y1="442.6" x2="427" y2="460.8" stroke="#5a5aff" stroke-width="0.6"/>
<line x1="307.5" y1="440.2" x2="428.4" y2="457.9" stroke="#5a5aff" stroke-width="0.6"/>
<line x1="310.4" y1="437.9" x2="429.8" y2="455.1" stroke="#5a5aff" stroke-width="0.6"/>
<line x1="313.1" y1="435.7" x2="431.2" y2="452.4" stroke="#5a5aff" stroke-width="0.6"/>
<line x1="315.8" y1="433.5" x2="432.5" y2="449.8" stroke="#5a5aff" stroke-width="0.6"/>
<line x1="318.5" y1="431.4" x2="433.8" y2="447.2" stroke="#5a5aff" stroke-width="0.6"/>
<line x1="321" y1="429.3" x2="435" y2="444.7" stroke="#5a5aff" stroke-width="0.6"/>
<line x1="323.5" y1="427.3" x2="436.3" y2="442.3" stroke="#5a5aff" stroke-width="0.6"/>
<polygon points="331.4,433.6 330.2,438.1 333.5,441.2 334,436" fill="#0000f0"/>
<polygon points="332.7,428.3 331.4,433.6 334,436 334.5,429.9" fill="#40f0f0"/>
<polygon points="333.9,423.5 332.7,428.3 334.5,429.9 334.9,424.4" fill="#10d890"/>
<polygon points="335.3,418 333.9,423.5 334.9,424.4 335.5,418.2" fill="#20d020"/>
<polygon points="335.6,416.7 335.3,418 335.5,418.2" fill="#f0e820"/>
<polygon points="334,436 333.5,441.2 341.9,439.8 340.6,434.8" fill="#0000f0"/>
<polygon points="334.5,429.9 334,436 340.6,434.8 339,429.2" fill="#40f0f0"/>
<polygon points="334.9,424.4 334.5,429.9 339,429.2 337.6,424" fill="#10d890"/>
<polygon points="335.5,418.2 334.9,424.4 337.6,424 336,418.1" fill="#20d020"/>
<polygon points="335.6,416.7 335.5,418.2 336,418.1" fill="#f0e820"/>
<polygon points="307.2,460.7 314,466.4 310.6,462.3" fill="#0000f0"/>
<polygon points="307.2,460.7 300.9,464.2 304,468.3" fill="#0000f0"/>
<polygon points="307.2,460.7 304,468.3 314,466.4" fill="#0000f0"/>
<polygon points="341.1,467.1 348.2,472.2 344,467.8" fill="#0000f0"/>
<polygon points="341.1,467.1 334.2,469.8 338.2,474.3" fill="#0000f0"/>
<polygon points="341.1,467.1 338.2,474.3 348.2,472.2" fill="#0000f0"/>
<line x1="335.6" y1="416.7" x2="330.2" y2="438.1" stroke="rgba(255,255,255,0.35)" stroke-width="0.6"/>
<line x1="335.6" y1="416.7" x2="341.9" y2="439.8" stroke="rgba(255,255,255,0.35)" stroke-width="0.6"/>
<line x1="335.6" y1="416.7" x2="333.5" y2="441.2" stroke="rgba(255,255,255,0.35)" stroke-width="0.6"/>
<line x1="307.2" y1="460.7" x2="300.9" y2="464.2" stroke="#6a6aff" stroke-width="0.6"/>
<line x1="307.2" y1="460.7" x2="314" y2="466.4" stroke="#6a6aff" stroke-width="0.6"/>
<line x1="307.2" y1="460.7" x2="304" y2="468.3" stroke="#6a6aff" stroke-width="0.6"/>
<line x1="307.2" y1="460.7" x2="310.6" y2="462.3" stroke="#6a6aff" stroke-width="0.6"/>
<line x1="341.1" y1="467.1" x2="334.2" y2="469.8" stroke="#6a6aff" stroke-width="0.6"/>
<line x1="341.1" y1="467.1" x2="348.2" y2="472.2" stroke="#6a6aff" stroke-width="0.6"/>
<line x1="341.1" y1="467.1" x2="338.2" y2="474.3" stroke="#6a6aff" stroke-width="0.6"/>
<line x1="341.1" y1="467.1" x2="344" y2="467.8" stroke="#6a6aff" stroke-width="0.6"/>
<line x1="265.9" y1="596.3" x2="325.8" y2="550" stroke="#d2d2d2" stroke-width="0.55"/>
<line x1="325.8" y1="550" x2="437.8" y2="564" stroke="#d2d2d2" stroke-width="0.55"/>
<line x1="265.4" y1="588.2" x2="325.6" y2="543.7" stroke="#d2d2d2" stroke-width="0.55"/>
<line x1="325.6" y1="543.7" x2="438.1" y2="557.1" stroke="#d2d2d2" stroke-width="0.55"/>
<line x1="264.9" y1="580.1" x2="325.5" y2="537.3" stroke="#d2d2d2" stroke-width="0.55"/>
<line x1="325.5" y1="537.3" x2="438.4" y2="550.1" stroke="#d2d2d2" stroke-width="0.55"/>
<line x1="264.3" y1="572" x2="325.3" y2="530.8" stroke="#d2d2d2" stroke-width="0.55"/>
<line x1="325.3" y1="530.8" x2="438.7" y2="543" stroke="#d2d2d2" stroke-width="0.55"/>
<line x1="281.8" y1="591.9" x2="279.7" y2="553.5" stroke="#d2d2d2" stroke-width="0.55"/>
<line x1="298.5" y1="578.4" x2="297" y2="542.4" stroke="#d2d2d2" stroke-width="0.55"/>
<line x1="313.1" y1="566.6" x2="312" y2="532.8" stroke="#d2d2d2" stroke-width="0.55"/>
<line x1="347.7" y1="559.2" x2="347.3" y2="526.6" stroke="#d2d2d2" stroke-width="0.55"/>
<line x1="376.1" y1="562.9" x2="376.3" y2="529.5" stroke="#d2d2d2" stroke-width="0.55"/>
<line x1="406" y1="566.8" x2="406.8" y2="532.6" stroke="#d2d2d2" stroke-width="0.55"/>
<line x1="263.8" y1="563.7" x2="325.1" y2="524.3" stroke="#6e6e6e" stroke-width="0.55"/>
<line x1="325.1" y1="524.3" x2="439" y2="535.9" stroke="#6e6e6e" stroke-width="0.55"/>
<line x1="266.5" y1="604.2" x2="263.8" y2="563.7" stroke="#6e6e6e" stroke-width="0.55"/>
<line x1="326" y1="556.3" x2="325.1" y2="524.3" stroke="#8a8a8a" stroke-width="0.55"/>
<line x1="437.4" y1="570.9" x2="439" y2="535.9" stroke="#7a7a7a" stroke-width="0.55"/>
<polygon points="266.5,604.2 407.6,630.1 437.4,570.9 326,556.3" fill="#0000ec"/>
<line x1="273" y1="605.4" x2="331.3" y2="557" stroke="#5a5aff" stroke-width="0.6"/>
<line x1="279.7" y1="606.6" x2="336.7" y2="557.7" stroke="#5a5aff" stroke-width="0.6"/>
<line x1="286.5" y1="607.9" x2="342.2" y2="558.4" stroke="#5a5aff" stroke-width="0.6"/>
<line x1="293.3" y1="609.1" x2="347.7" y2="559.2" stroke="#5a5aff" stroke-width="0.6"/>
<line x1="300.2" y1="610.4" x2="353.3" y2="559.9" stroke="#5a5aff" stroke-width="0.6"/>
<line x1="307.3" y1="611.7" x2="358.9" y2="560.6" stroke="#5a5aff" stroke-width="0.6"/>
<line x1="314.4" y1="613" x2="364.6" y2="561.4" stroke="#5a5aff" stroke-width="0.6"/>
<line x1="321.6" y1="614.3" x2="370.3" y2="562.1" stroke="#5a5aff" stroke-width="0.6"/>
<line x1="328.9" y1="615.7" x2="376.1" y2="562.9" stroke="#5a5aff" stroke-width="0.6"/>
<line x1="336.3" y1="617" x2="382" y2="563.6" stroke="#5a5aff" stroke-width="0.6"/>
<line x1="343.8" y1="618.4" x2="387.9" y2="564.4" stroke="#5a5aff" stroke-width="0.6"/>
<line x1="351.4" y1="619.8" x2="393.8" y2="565.2" stroke="#5a5aff" stroke-width="0.6"/>
<line x1="359.1" y1="621.2" x2="399.9" y2="566" stroke="#5a5aff" stroke-width="0.6"/>
<line x1="366.9" y1="622.6" x2="406" y2="566.8" stroke="#5a5aff" stroke-width="0.6"/>
<line x1="374.8" y1="624.1" x2="412.1" y2="567.6" stroke="#5a5aff" stroke-width="0.6"/>
<line x1="382.9" y1="625.6" x2="418.4" y2="568.4" stroke="#5a5aff" stroke-width="0.6"/>
<line x1="391" y1="627.1" x2="424.7" y2="569.2" stroke="#5a5aff" stroke-width="0.6"/>
<line x1="399.3" y1="628.6" x2="431" y2="570" stroke="#5a5aff" stroke-width="0.6"/>
<line x1="270.5" y1="601" x2="409.7" y2="626" stroke="#5a5aff" stroke-width="0.6"/>
<line x1="274.3" y1="597.8" x2="411.7" y2="622.1" stroke="#5a5aff" stroke-width="0.6"/>
<line x1="278.1" y1="594.8" x2="413.6" y2="618.2" stroke="#5a5aff" stroke-width="0.6"/>
<line x1="281.8" y1="591.9" x2="415.5" y2="614.5" stroke="#5a5aff" stroke-width="0.6"/>
<line x1="285.3" y1="589" x2="417.3" y2="611" stroke="#5a5aff" stroke-width="0.6"/>
<line x1="288.8" y1="586.3" x2="419" y2="607.5" stroke="#5a5aff" stroke-width="0.6"/>
<line x1="292.1" y1="583.6" x2="420.7" y2="604.1" stroke="#5a5aff" stroke-width="0.6"/>
<line x1="295.4" y1="580.9" x2="422.3" y2="600.9" stroke="#5a5aff" stroke-width="0.6"/>
<line x1="298.5" y1="578.4" x2="423.9" y2="597.7" stroke="#5a5aff" stroke-width="0.6"/>
<line x1="301.6" y1="575.9" x2="425.5" y2="594.7" stroke="#5a5aff" stroke-width="0.6"/>
<line x1="304.6" y1="573.5" x2="427" y2="591.7" stroke="#5a5aff" stroke-width="0.6"/>
<line x1="307.5" y1="571.2" x2="428.4" y2="588.8" stroke="#5a5aff" stroke-width="0.6"/>
<line x1="310.4" y1="568.9" x2="429.8" y2="586.1" stroke="#5a5aff" stroke-width="0.6"/>
<line x1="313.1" y1="566.6" x2="431.2" y2="583.3" stroke="#5a5aff" stroke-width="0.6"/>
<line x1="315.8" y1="564.5" x2="432.5" y2="580.7" stroke="#5a5aff" stroke-width="0.6"/>
<line x1="318.5" y1="562.4" x2="433.8" y2="578.1" stroke="#5a5aff" stroke-width="0.6"/>
<line x1="321" y1="560.3" x2="435" y2="575.6" stroke="#5a5aff" stroke-width="0.6"/>
<line x1="323.5" y1="558.3" x2="436.3" y2="573.2" stroke="#5a5aff" stroke-width="0.6"/>
<polygon points="307.2,592.4 314,597.3 310.6,593.2" fill="#0000f0"/>
<polygon points="307.2,592.4 300.9,595.1 304,599.3" fill="#0000f0"/>
<polygon points="307.2,592.4 304,599.3 314,597.3" fill="#0000f0"/>
<polygon points="335.2,595.5 334.2,600.8 338.2,605.2 338.6,599.1" fill="#0000f0"/>
<polygon points="336.3,589.3 335.2,595.5 338.6,599.1 339,592.1" fill="#40f0f0"/>
<polygon points="337.3,583.7 336.3,589.3 339,592.1 339.4,585.8" fill="#10d890"/>
<polygon points="338.5,577.3 337.3,583.7 339.4,585.8 339.8,578.5" fill="#20d020"/>
<polygon points="339.6,571.1 338.5,577.3 339.8,578.5 340.2,571.7" fill="#f0e820"/>
<polygon points="340.6,565.6 339.6,571.1 340.2,571.7" fill="#d08840"/>
<polygon points="338.6,599.1 338.2,605.2 348.2,603.1 347,597.4" fill="#0000f0"/>
<polygon points="339,592.1 338.6,599.1 347,597.4 345.7,590.8" fill="#40f0f0"/>
<polygon points="339.4,585.8 339,592.1 345.7,590.8 344.5,584.8" fill="#10d890"/>
<polygon points="339.8,578.5 339.4,585.8 344.5,584.8 343.1,577.9" fill="#20d020"/>
<polygon points="340.2,571.7 339.8,578.5 343.1,577.9 341.8,571.5" fill="#f0e820"/>
<polygon points="340.6,565.6 340.2,571.7 341.8,571.5" fill="#d08840"/>
<line x1="340.6" y1="565.6" x2="334.2" y2="600.8" stroke="rgba(255,255,255,0.35)" stroke-width="0.6"/>
<line x1="340.6" y1="565.6" x2="348.2" y2="603.1" stroke="rgba(255,255,255,0.35)" stroke-width="0.6"/>
<line x1="340.6" y1="565.6" x2="338.2" y2="605.2" stroke="rgba(255,255,255,0.35)" stroke-width="0.6"/>
<line x1="307.2" y1="592.4" x2="300.9" y2="595.1" stroke="#6a6aff" stroke-width="0.6"/>
<line x1="307.2" y1="592.4" x2="314" y2="597.3" stroke="#6a6aff" stroke-width="0.6"/>
<line x1="307.2" y1="592.4" x2="304" y2="599.3" stroke="#6a6aff" stroke-width="0.6"/>
<line x1="307.2" y1="592.4" x2="310.6" y2="593.2" stroke="#6a6aff" stroke-width="0.6"/>
<g stroke="#000" stroke-width="0.1">
<text x="46.6" y="94.7">10</text>
<text x="69.8" y="99.7">20</text>
<text x="94.1" y="104.2">30</text>
<text x="119.9" y="108.8">40</text>
<text x="145.6" y="113.8">50</text>
<text x="172.7" y="118.3">60</text>
<text x="44.8" y="226.4">10</text>
<text x="68.1" y="231">20</text>
<text x="92.7" y="235.6">30</text>
<text x="118.8" y="240.5">40</text>
<text x="145.2" y="245.5">50</text>
<text x="172.7" y="250.4">60</text>
<text x="45.9" y="356.7">10</text>
<text x="69.5" y="361.3">20</text>
<text x="93.4" y="365.9">30</text>
<text x="119.2" y="370.8">40</text>
<text x="145.2" y="375.8">50</text>
<text x="172.4" y="380.7">60</text>
<text x="43.4" y="490.9">10</text>
<text x="66.3" y="495.5">20</text>
<text x="90.6" y="500.1">30</text>
<text x="117" y="505">40</text>
<text x="143.5" y="509.9">50</text>
<text x="171" y="514.9">60</text>
<text x="44.1" y="620.5">10</text>
<text x="67" y="624.7">20</text>
<text x="91.7" y="629.3">30</text>
<text x="117.4" y="634.2">40</text>
<text x="143.5" y="639.2">50</text>
<text x="171" y="644.1">60</text>
<text x="189.5" y="98.3">10</text>
<text x="195.7" y="84.9">20</text>
<text x="201.4" y="72.9">30</text>
<text x="206.7" y="61.7">40</text>
<text x="211.4" y="52.1">50</text>
<text x="189.5" y="237.5">10</text>
<text x="195.1" y="224.9">20</text>
<text x="200.1" y="214">30</text>
<text x="204.5" y="204.2">40</text>
<text x="208.9" y="194.8">50</text>
<text x="212.7" y="186.4">60</text>
<text x="189.5" y="363.5">10</text>
<text x="195.1" y="352.2">20</text>
<text x="199.9" y="341.5">30</text>
<text x="204.1" y="331.5">40</text>
<text x="208.3" y="322.9">50</text>
<text x="212.1" y="314.5">60</text>
<text x="187.8" y="501.1">10</text>
<text x="193.6" y="488.8">20</text>
<text x="198.6" y="477.5">30</text>
<text x="203.3" y="467.2">40</text>
<text x="207.7" y="458.4">50</text>
<text x="211.4" y="449.7">60</text>
<text x="187.6" y="633">10</text>
<text x="193.2" y="620.5">20</text>
<text x="198.6" y="609.2">30</text>
<text x="202.9" y="598.9">40</text>
<text x="207.4" y="589.7">50</text>
<text x="211.4" y="580.9">60</text>
<text x="21.4" y="85.6" font-size="8.2">0,0</text>
<text x="20.6" y="72.6" font-size="8.2">0,2</text>
<text x="20.1" y="59" font-size="8.2">0,4</text>
<text x="19.6" y="44.6" font-size="8.2">0,6</text>
<text x="21.4" y="216.6" font-size="8.2">0,0</text>
<text x="20.6" y="203.6" font-size="8.2">0,2</text>
<text x="20.1" y="190" font-size="8.2">0,4</text>
<text x="19.6" y="175.6" font-size="8.2">0,6</text>
<text x="21.4" y="347.5" font-size="8.2">0,0</text>
<text x="20.6" y="334.5" font-size="8.2">0,2</text>
<text x="20.1" y="320.9" font-size="8.2">0,4</text>
<text x="19.6" y="306.5" font-size="8.2">0,6</text>
<text x="21.4" y="478.5" font-size="8.2">0,0</text>
<text x="20.6" y="465.5" font-size="8.2">0,2</text>
<text x="20.1" y="451.9" font-size="8.2">0,4</text>
<text x="19.6" y="437.5" font-size="8.2">0,6</text>
<text x="21.4" y="609.4" font-size="8.2">0,0</text>
<text x="20.6" y="596.4" font-size="8.2">0,2</text>
<text x="20.1" y="582.8" font-size="8.2">0,4</text>
<text x="19.6" y="568.4" font-size="8.2">0,6</text>
<text x="6.3" y="66.9" transform="rotate(-94 6.3 64)" font-size="8.4">Neuron activity</text>
<text x="9" y="197.9" transform="rotate(-94 9 194.9)" font-size="8.4">Neuron activity</text>
<text x="5.9" y="328.8" transform="rotate(-94 5.9 325.8)" font-size="8.4">Neuron activity</text>
<text x="6.3" y="459.8" transform="rotate(-94 6.3 456.8)" font-size="8.4">Neuron activity</text>
<text x="8.4" y="590.7" transform="rotate(-94 8.4 587.8)" font-size="8.4">Neuron activity</text>
<text x="291.5" y="97">5</text>
<text x="326.2" y="103.3">10</text>
<text x="365.8" y="111.2">15</text>
<text x="408.1" y="118.8">20</text>
<text x="289.8" y="228.3">5</text>
<text x="324.5" y="234.6">10</text>
<text x="364.2" y="242.9">15</text>
<text x="406.1" y="250.5">20</text>
<text x="293.1" y="355.7">5</text>
<text x="326.8" y="362.3">10</text>
<text x="364.8" y="368.3">15</text>
<text x="404.8" y="374.2">20</text>
<text x="290.8" y="487.7">5</text>
<text x="326.2" y="494.3">10</text>
<text x="364.8" y="502.6">15</text>
<text x="406.1" y="510.2">20</text>
<text x="290.5" y="619.4">5</text>
<text x="325.5" y="627">10</text>
<text x="364.8" y="634.6">15</text>
<text x="406.1" y="642.5">20</text>
<text x="420.1" y="96.6">5</text>
<text x="431" y="78.7">10</text>
<text x="438.5" y="63.8">15</text>
<text x="444.1" y="51.8">20</text>
<text x="420.1" y="227.5">5</text>
<text x="431" y="209.6">10</text>
<text x="438.5" y="194.7">15</text>
<text x="444.1" y="182.7">20</text>
<text x="420.2" y="358">5</text>
<text x="432.5" y="343">10</text>
<text x="441" y="329.9">15</text>
<text x="448.4" y="317.5">20</text>
<text x="420.1" y="489.4">5</text>
<text x="431" y="471.5">10</text>
<text x="438.5" y="456.6">15</text>
<text x="444.1" y="444.6">20</text>
<text x="420.1" y="620.4">5</text>
<text x="431" y="602.5">10</text>
<text x="438.5" y="587.6">15</text>
<text x="444.1" y="575.6">20</text>
<text x="256.6" y="85.8" font-size="8.2">0,0</text>
<text x="256.2" y="78" font-size="8.2">0,2</text>
<text x="255.8" y="70.1" font-size="8.2">0,4</text>
<text x="255.1" y="62" font-size="8.2">0,6</text>
<text x="254.6" y="53.9" font-size="8.2">0,8</text>
<text x="254.5" y="45" font-size="8.2">1,0</text>
<text x="256.6" y="216.8" font-size="8.2">0,0</text>
<text x="256.2" y="209" font-size="8.2">0,2</text>
<text x="255.8" y="201.1" font-size="8.2">0,4</text>
<text x="255.1" y="193" font-size="8.2">0,6</text>
<text x="254.6" y="184.9" font-size="8.2">0,8</text>
<text x="254.5" y="176" font-size="8.2">1,0</text>
<text x="257.2" y="346.9" font-size="8.2">0,0</text>
<text x="256.8" y="339.2" font-size="8.2">0,2</text>
<text x="256.6" y="331.1" font-size="8.2">0,4</text>
<text x="256.3" y="322.9" font-size="8.2">0,6</text>
<text x="256.1" y="314.6" font-size="8.2">0,8</text>
<text x="256.1" y="306.7" font-size="8.2">1,0</text>
<text x="256.6" y="478.7" font-size="8.2">0,0</text>
<text x="256.2" y="470.9" font-size="8.2">0,2</text>
<text x="255.8" y="463" font-size="8.2">0,4</text>
<text x="255.1" y="454.9" font-size="8.2">0,6</text>
<text x="254.6" y="446.8" font-size="8.2">0,8</text>
<text x="254.5" y="437.9" font-size="8.2">1,0</text>
<text x="256.6" y="609.6" font-size="8.2">0,0</text>
<text x="256.2" y="601.8" font-size="8.2">0,2</text>
<text x="255.8" y="593.9" font-size="8.2">0,4</text>
<text x="255.1" y="585.8" font-size="8.2">0,6</text>
<text x="254.6" y="577.7" font-size="8.2">0,8</text>
<text x="254.5" y="568.8" font-size="8.2">1,0</text>
<text x="241.8" y="69.4" transform="rotate(-94 241.8 66.5)" font-size="8.3">Neuron activity</text>
<text x="241.3" y="198.1" transform="rotate(-94 241.3 195.2)" font-size="8.3">Neuron activity</text>
<text x="245.2" y="328.3" transform="rotate(-94 245.2 325.4)" font-size="8.3">Neuron activity</text>
<text x="242.8" y="459.9" transform="rotate(-94 242.8 456.9)" font-size="8.3">Neuron activity</text>
<text x="242.8" y="590.8" transform="rotate(-94 242.8 587.9)" font-size="8.3">Neuron activity</text>
<text x="328.3" y="114.7" font-size="8.9" fill="#505050" stroke="#505050">X Axis</text>
<text x="327.5" y="245.9" font-size="7.9" fill="#606060" stroke="#606060">X Axis</text>
<text x="100.5" y="638.8" font-size="7.8" fill="#666" stroke="#666">X Axis</text>
<text x="444.8" y="86.6" transform="rotate(-90 444.8 83.3)" font-size="9.3" fill="#111" stroke="#111" style="stroke-width:0.35px">Y Axis</text>
<text x="443.3" y="215.3" transform="rotate(-90 443.3 212)" font-size="9.3" fill="#111" stroke="#111" style="stroke-width:0.35px">Y Axis</text>
<text x="211.3" y="620.1" transform="rotate(-90 211.3 616.8)" font-size="9.3" fill="#222" stroke="#222" style="stroke-width:0.3px">Y Axis</text>
</g>
</svg>
</body></html>
